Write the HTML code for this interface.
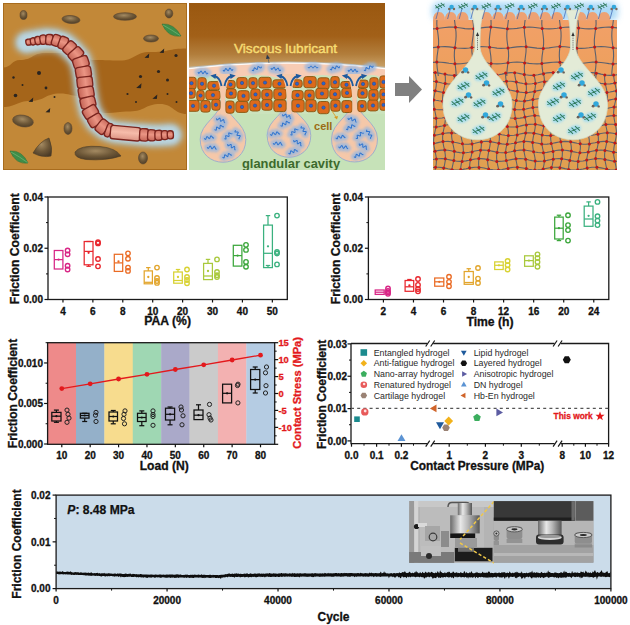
<!DOCTYPE html>
<html><head><meta charset="utf-8"><style>
html,body{margin:0;padding:0;background:#fff;width:630px;height:625px;overflow:hidden}
svg{display:block}
text{font-family:"Liberation Sans", sans-serif}
</style></head><body>
<svg width="630" height="625" viewBox="0 0 630 625">
<defs>
<filter id="blur3" x="-20%" y="-20%" width="140%" height="140%"><feGaussianBlur stdDeviation="3"/></filter>
<filter id="blur2" x="-30%" y="-100%" width="160%" height="300%"><feGaussianBlur stdDeviation="2"/></filter>
<filter id="blur1" x="-60%" y="-300%" width="220%" height="700%"><feGaussianBlur stdDeviation="1.3"/></filter>
<filter id="blur05" x="-50%" y="-50%" width="200%" height="200%"><feGaussianBlur stdDeviation="0.8"/></filter>
<linearGradient id="p2top" x1="0" y1="0" x2="0" y2="1">
 <stop offset="0" stop-color="#9a5810"/><stop offset="0.5" stop-color="#a26018"/><stop offset="0.78" stop-color="#b27e3c"/><stop offset="1" stop-color="#cca66e"/>
</linearGradient>
<linearGradient id="p3body" x1="0" y1="0" x2="0" y2="1">
 <stop offset="0" stop-color="#f2a068"/><stop offset="0.5" stop-color="#eba058"/><stop offset="1" stop-color="#e0a050"/>
</linearGradient>
<radialGradient id="stone" cx="0.45" cy="0.35" r="0.7">
 <stop offset="0" stop-color="#a48a62"/><stop offset="0.55" stop-color="#6e5838"/><stop offset="1" stop-color="#4a3a26"/>
</radialGradient>
<clipPath id="cp1"><rect x="3" y="3" width="184" height="167"/></clipPath>
<clipPath id="cp2"><rect x="189" y="3" width="196" height="167"/></clipPath>
<clipPath id="cp3"><rect x="426" y="0" width="198" height="170"/></clipPath>
</defs>
<g clip-path="url(#cp1)">
<rect x="3" y="3" width="184" height="167" fill="#c28838"/>
<path d="M3,67.5 C11.5,67.5 11.5,60 20,60 C32.5,60 32.5,53 45,53 C57.5,53 57.5,53 70,53 C82.5,53 82.5,60 95,60 C107.5,60 107.5,60.5 120,60.5 C135.0,60.5 135.0,52 150,52 C168.5,52 168.5,48.4 187,48.4 L187,114  C173.5,114 173.5,104 160,104 C145.0,104 145.0,111.4 130,111.4 C117.5,111.4 117.5,113 105,113 C92.5,113 92.5,96 80,96 C70.0,96 70.0,93.5 60,93.5 C45.0,93.5 45.0,101 30,101 C16.5,101 16.5,107 3,107 Z" fill="#a5651a"/>
<rect x="3.5" y="3.5" width="183" height="166" fill="none" stroke="#a86c1e" stroke-width="1"/>
<circle cx="13.5" cy="77.5" r="1.2" fill="#2a2420"/>
<circle cx="39" cy="73" r="2.0" fill="#2a2420"/>
<circle cx="22.5" cy="85" r="1.0" fill="#2a2420"/>
<circle cx="15.5" cy="95.5" r="1.8" fill="#2a2420"/>
<circle cx="46" cy="88" r="1.4" fill="#2a2420"/>
<circle cx="54.5" cy="97" r="1.0" fill="#2a2420"/>
<circle cx="140.5" cy="76.5" r="1.6" fill="#2a2420"/>
<circle cx="158.5" cy="71.5" r="1.6" fill="#2a2420"/>
<circle cx="167.5" cy="80" r="1.5" fill="#2a2420"/>
<circle cx="176" cy="55.5" r="1.6" fill="#2a2420"/>
<circle cx="127.5" cy="94" r="1.1" fill="#2a2420"/>
<circle cx="136" cy="102" r="1.0" fill="#2a2420"/>
<circle cx="167.5" cy="94" r="1.0" fill="#2a2420"/>
<circle cx="176.5" cy="102" r="1.0" fill="#2a2420"/>
<polygon points="28.5,101.75 33.25,97.5 32.75,102.0" fill="#2a2420"/>
<polygon points="45.5,112.25 50.25,108.0 49.75,112.5" fill="#2a2420"/>
<polygon points="144.5,57.75 149.25,53.5 148.75,58.0" fill="#2a2420"/>
<polygon points="159.5,52.75 164.25,48.5 163.75,53.0" fill="#2a2420"/>
<polygon points="136.2,87.96 141.52,83.2 140.96,88.24" fill="#2a2420"/>
<polygon points="152.4,98.82 157.34,94.4 156.82,99.08" fill="#2a2420"/>
<ellipse cx="23.5" cy="15" rx="3.5" ry="4.5" transform="rotate(0 23.5 15)" fill="url(#stone)" stroke="#5a4630" stroke-width="0.6"/>
<ellipse cx="71" cy="19.5" rx="9" ry="4" transform="rotate(5 71 19.5)" fill="url(#stone)" stroke="#5a4630" stroke-width="0.6"/>
<ellipse cx="125" cy="16.5" rx="11.5" ry="3.8" transform="rotate(0 125 16.5)" fill="url(#stone)" stroke="#5a4630" stroke-width="0.6"/>
<ellipse cx="169" cy="13.5" rx="3.8" ry="4.5" transform="rotate(0 169 13.5)" fill="url(#stone)" stroke="#5a4630" stroke-width="0.6"/>
<ellipse cx="151" cy="38.5" rx="7.5" ry="3.5" transform="rotate(0 151 38.5)" fill="url(#stone)" stroke="#5a4630" stroke-width="0.6"/>
<ellipse cx="23" cy="121" rx="10.5" ry="5.8" transform="rotate(10 23 121)" fill="url(#stone)" stroke="#5a4630" stroke-width="0.6"/>
<ellipse cx="68" cy="128.5" rx="4" ry="6" transform="rotate(0 68 128.5)" fill="url(#stone)" stroke="#5a4630" stroke-width="0.6"/>
<ellipse cx="143" cy="158" rx="4.5" ry="6" transform="rotate(0 143 158)" fill="url(#stone)" stroke="#5a4630" stroke-width="0.6"/>
<path d="M33,153 Q40,141 49,138 Q53,148 51,156 Q42,158 33,153 Z" fill="url(#stone)" stroke="#4a3a26" stroke-width="0.6"/>
<path d="M75,152 Q80,145 100,146.5 Q116,148 121,156 Q106,161 86,159.5 Q74,158 75,152 Z" fill="url(#stone)" stroke="#4a3a26" stroke-width="0.6"/>
<path d="M162,24 Q174,23 181,36 Q168,38 162,24 Z" fill="#3f8d48" stroke="#2f6e38" stroke-width="0.5"/>
<path d="M163,25 Q172,30 180,35.5" fill="none" stroke="#7cc080" stroke-width="0.6"/>
<path d="M10,151 Q22,150 28,163 Q16,165 10,151 Z" fill="#3f8d48" stroke="#2f6e38" stroke-width="0.5"/>
<path d="M11,152 Q20,157 27.5,162.5" fill="none" stroke="#7cc080" stroke-width="0.6"/>
<path d="M26.3,42.5 L35.9,40.9 L45.4,39.3 L55,40 L64.4,43.3 L72.4,50.4 L79.5,58.3 L82.7,67.9 L84.3,77.4 L85.5,88.5 L87.5,100.7 L90,111.2 L96.2,121.7 L104.9,128.7 L113.7,132.1 L125.9,133.2 L139.8,134.6 L153.8,135.4 L163,135.2 L171,134.8" fill="none" stroke="#aecbd8" stroke-width="23" stroke-linecap="round" stroke-linejoin="round" filter="url(#blur3)" opacity="0.9"/>
<path d="M26.3,42.5 L35.9,40.9 L45.4,39.3 L55,40 L64.4,43.3 L72.4,50.4 L79.5,58.3 L82.7,67.9 L84.3,77.4 L85.5,88.5 L87.5,100.7 L90,111.2 L96.2,121.7 L104.9,128.7 L113.7,132.1 L125.9,133.2 L139.8,134.6 L153.8,135.4 L163,135.2 L171,134.8" fill="none" stroke="#bcd8e4" stroke-width="17" stroke-linecap="round" stroke-linejoin="round" filter="url(#blur2)" opacity="0.9"/>
<linearGradient id="wg" x1="0" y1="0" x2="0" y2="1"><stop offset="0" stop-color="#c96a5c"/><stop offset="0.45" stop-color="#eb9584"/><stop offset="1" stop-color="#c46456"/></linearGradient>
<linearGradient id="wg2" x1="0" y1="0" x2="0" y2="1"><stop offset="0" stop-color="#e29e8e"/><stop offset="0.45" stop-color="#f6bcaa"/><stop offset="1" stop-color="#dd9484"/></linearGradient>
<g transform="translate(28.57,42.12) rotate(-9.5)"><rect x="-2.70" y="-3.03" width="5.40" height="6.05" rx="2.16" fill="url(#wg)" stroke="#7a241e" stroke-width="1.35"/></g>
<g transform="translate(33.11,41.37) rotate(-9.5)"><rect x="-2.70" y="-3.64" width="5.40" height="7.27" rx="2.60" fill="url(#wg)" stroke="#7a241e" stroke-width="1.35"/></g>
<g transform="translate(37.91,40.56) rotate(-9.6)"><rect x="-2.97" y="-4.15" width="5.94" height="8.30" rx="2.80" fill="url(#wg)" stroke="#7a241e" stroke-width="1.35"/></g>
<g transform="translate(43.30,39.65) rotate(-9.6)"><rect x="-3.30" y="-4.66" width="6.60" height="9.32" rx="2.80" fill="url(#wg)" stroke="#7a241e" stroke-width="1.35"/></g>
<g transform="translate(49.40,39.59) rotate(4.2)"><rect x="-3.64" y="-5.17" width="7.28" height="10.34" rx="2.80" fill="url(#wg)" stroke="#7a241e" stroke-width="1.35"/></g>
<g transform="translate(56.14,40.40) rotate(19.3)"><rect x="-3.98" y="-5.70" width="7.96" height="11.39" rx="2.80" fill="url(#wg)" stroke="#7a241e" stroke-width="1.35"/></g>
<g transform="translate(63.22,42.89) rotate(19.3)"><rect x="-4.33" y="-6.23" width="8.66" height="12.47" rx="2.80" fill="url(#wg)" stroke="#7a241e" stroke-width="1.35"/></g>
<g transform="translate(69.62,47.93) rotate(41.6)"><rect x="-4.69" y="-6.79" width="9.38" height="13.57" rx="2.80" fill="url(#wg)" stroke="#7a241e" stroke-width="1.35"/></g>
<g transform="translate(75.90,54.29) rotate(48.1)"><rect x="-5.06" y="-7.35" width="10.12" height="14.71" rx="2.80" fill="url(#wg)" stroke="#7a241e" stroke-width="1.35"/></g>
<g transform="translate(80.86,62.39) rotate(71.6)"><rect x="-5.44" y="-7.75" width="10.88" height="15.50" rx="2.80" fill="url(#wg)" stroke="#7a241e" stroke-width="1.35"/></g>
<g transform="translate(83.42,72.19) rotate(80.4)"><rect x="-5.52" y="-7.75" width="11.03" height="15.50" rx="2.80" fill="url(#wg)" stroke="#7a241e" stroke-width="1.35"/></g>
<g transform="translate(84.83,82.32) rotate(83.8)"><rect x="-5.52" y="-7.75" width="11.03" height="15.50" rx="2.80" fill="url(#wg)" stroke="#7a241e" stroke-width="1.35"/></g>
<g transform="translate(86.15,92.46) rotate(80.7)"><rect x="-5.52" y="-7.69" width="11.03" height="15.38" rx="2.80" fill="url(#wg)" stroke="#7a241e" stroke-width="1.35"/></g>
<g transform="translate(87.91,102.44) rotate(76.6)"><rect x="-5.42" y="-7.54" width="10.85" height="15.07" rx="2.80" fill="url(#wg)" stroke="#7a241e" stroke-width="1.35"/></g>
<g transform="translate(90.48,112.01) rotate(59.4)"><rect x="-5.32" y="-7.38" width="10.65" height="14.77" rx="2.80" fill="url(#wg)" stroke="#7a241e" stroke-width="1.35"/></g>
<g transform="translate(95.43,120.40) rotate(59.4)"><rect x="-5.22" y="-7.24" width="10.45" height="14.47" rx="2.80" fill="url(#wg)" stroke="#7a241e" stroke-width="1.35"/></g>
<g transform="translate(102.47,126.74) rotate(38.8)"><rect x="-5.13" y="-7.09" width="10.26" height="14.18" rx="2.80" fill="url(#wg)" stroke="#7a241e" stroke-width="1.35"/></g>
<g transform="translate(108.70,130.17) rotate(21.1)"><rect x="-2.87" y="-6.98" width="5.73" height="13.96" rx="2.80" fill="url(#wg)" stroke="#7a241e" stroke-width="1.35"/></g>
<g transform="translate(125.42,133.16) rotate(5.2)"><rect x="-15.06" y="-6.72" width="30.11" height="13.44" rx="2.80" fill="url(#wg2)" stroke="#7a241e" stroke-width="1.35"/></g>
<g transform="translate(144.02,134.84) rotate(3.3)"><rect x="-4.43" y="-6.18" width="8.86" height="12.35" rx="2.80" fill="url(#wg)" stroke="#7a241e" stroke-width="1.35"/></g>
<g transform="translate(151.67,135.28) rotate(3.3)"><rect x="-4.03" y="-5.56" width="8.05" height="11.12" rx="2.80" fill="url(#wg)" stroke="#7a241e" stroke-width="1.35"/></g>
<g transform="translate(158.56,135.30) rotate(-1.2)"><rect x="-3.67" y="-5.00" width="7.33" height="10.01" rx="2.80" fill="url(#wg)" stroke="#7a241e" stroke-width="1.35"/></g>
<g transform="translate(164.76,135.11) rotate(-2.9)"><rect x="-3.34" y="-4.50" width="6.68" height="9.01" rx="2.80" fill="url(#wg)" stroke="#7a241e" stroke-width="1.35"/></g>
<g transform="translate(170.33,134.83) rotate(-2.9)"><rect x="-3.05" y="-4.05" width="6.09" height="8.11" rx="2.80" fill="url(#wg)" stroke="#7a241e" stroke-width="1.35"/></g>
</g>
<g clip-path="url(#cp2)">
<rect x="189" y="3" width="196" height="167" fill="#c6e2b8"/>
<rect x="189" y="3" width="196" height="66" fill="url(#p2top)"/>
<path d="M189,68.5 Q287,57.5 385,68.5 L385,90 L189,90 Z" fill="#f7ccb4"/>
<path d="M189,68.5 Q287,57.5 385,68.5" fill="none" stroke="#ffffff" stroke-width="1.6" opacity="0.95"/>
<path d="M189,67.3 Q287,56.3 385,67.3" fill="none" stroke="#b0cce8" stroke-width="0.8" opacity="0.7"/>
<path d="M185,90 Q187,76 204.0,75 Q221,76 223,90 L223,114 L185,114 Z" fill="#cbe3bd"/>
<path d="M223,90 Q225,76 256.5,75 Q288,76 290,90 L290,114 L223,114 Z" fill="#cbe3bd"/>
<path d="M289,90 Q291,76 321.5,75 Q352,76 354,90 L354,114 L289,114 Z" fill="#cbe3bd"/>
<path d="M354,90 Q356,76 371.5,75 Q387,76 389,90 L389,114 L354,114 Z" fill="#cbe3bd"/>
<path d="M221.0,100 L225.0,100 C225.0,116.7 245.8,122.4 245.8,139.5 C245.8,169.824 200.2,169.824 200.2,139.5 C200.2,122.4 221.0,116.7 221.0,100 Z" fill="#f5c8a9" stroke="#9fb0cc" stroke-width="1.0"/>
<path d="M287.0,100 L291.0,100 C291.0,113.7 310.8,119.15 310.8,135.5 C310.8,164.494 267.2,164.494 267.2,135.5 C267.2,119.15 287.0,113.7 287.0,100 Z" fill="#f5c8a9" stroke="#9fb0cc" stroke-width="1.0"/>
<path d="M352.5,100 L356.5,100 C356.5,116.0 377.5,121.75 377.5,139 C377.5,169.59 331.5,169.59 331.5,139 C331.5,121.75 352.5,116.0 352.5,100 Z" fill="#f5c8a9" stroke="#9fb0cc" stroke-width="1.0"/>
<g transform="translate(216.5,118.4) rotate(20)"><path d="M0.00,0.00 L0.50,0.92 L1.00,1.30 L1.50,0.92 L2.00,0.00 L2.50,-0.92 L3.00,-1.30 L3.50,-0.92 L4.00,-0.00 L4.50,0.92 L5.00,1.30 L5.50,0.92 L6.00,0.00 L6.50,-0.92 L7.00,-1.30 L7.50,-0.92 L8.00,-0.00 L8.50,0.92 L9.00,1.30 L9.50,0.92" fill="none" stroke="#93b6e2" stroke-width="6" stroke-linecap="round" opacity="0.75" filter="url(#blur1)"/><path d="M0.00,0.00 L0.50,0.92 L1.00,1.30 L1.50,0.92 L2.00,0.00 L2.50,-0.92 L3.00,-1.30 L3.50,-0.92 L4.00,-0.00 L4.50,0.92 L5.00,1.30 L5.50,0.92 L6.00,0.00 L6.50,-0.92 L7.00,-1.30 L7.50,-0.92 L8.00,-0.00 L8.50,0.92 L9.00,1.30 L9.50,0.92" fill="none" stroke="#2f74cf" stroke-width="1.0"/></g>
<g transform="translate(214.6,129.5) rotate(-25)"><path d="M0.00,0.00 L0.50,0.92 L1.00,1.30 L1.50,0.92 L2.00,0.00 L2.50,-0.92 L3.00,-1.30 L3.50,-0.92 L4.00,-0.00 L4.50,0.92 L5.00,1.30 L5.50,0.92 L6.00,0.00 L6.50,-0.92 L7.00,-1.30 L7.50,-0.92 L8.00,-0.00 L8.50,0.92 L9.00,1.30 L9.50,0.92" fill="none" stroke="#93b6e2" stroke-width="6" stroke-linecap="round" opacity="0.75" filter="url(#blur1)"/><path d="M0.00,0.00 L0.50,0.92 L1.00,1.30 L1.50,0.92 L2.00,0.00 L2.50,-0.92 L3.00,-1.30 L3.50,-0.92 L4.00,-0.00 L4.50,0.92 L5.00,1.30 L5.50,0.92 L6.00,0.00 L6.50,-0.92 L7.00,-1.30 L7.50,-0.92 L8.00,-0.00 L8.50,0.92 L9.00,1.30 L9.50,0.92" fill="none" stroke="#2f74cf" stroke-width="1.0"/></g>
<g transform="translate(204.3,138.3) rotate(-10)"><path d="M0.00,0.00 L0.50,0.92 L1.00,1.30 L1.50,0.92 L2.00,0.00 L2.50,-0.92 L3.00,-1.30 L3.50,-0.92 L4.00,-0.00 L4.50,0.92 L5.00,1.30 L5.50,0.92 L6.00,0.00 L6.50,-0.92 L7.00,-1.30 L7.50,-0.92 L8.00,-0.00 L8.50,0.92 L9.00,1.30 L9.50,0.92" fill="none" stroke="#93b6e2" stroke-width="6" stroke-linecap="round" opacity="0.75" filter="url(#blur1)"/><path d="M0.00,0.00 L0.50,0.92 L1.00,1.30 L1.50,0.92 L2.00,0.00 L2.50,-0.92 L3.00,-1.30 L3.50,-0.92 L4.00,-0.00 L4.50,0.92 L5.00,1.30 L5.50,0.92 L6.00,0.00 L6.50,-0.92 L7.00,-1.30 L7.50,-0.92 L8.00,-0.00 L8.50,0.92 L9.00,1.30 L9.50,0.92" fill="none" stroke="#2f74cf" stroke-width="1.0"/></g>
<g transform="translate(224.3,138.6) rotate(-40)"><path d="M0.00,0.00 L0.50,0.92 L1.00,1.30 L1.50,0.92 L2.00,0.00 L2.50,-0.92 L3.00,-1.30 L3.50,-0.92 L4.00,-0.00 L4.50,0.92 L5.00,1.30 L5.50,0.92 L6.00,0.00 L6.50,-0.92 L7.00,-1.30 L7.50,-0.92 L8.00,-0.00 L8.50,0.92 L9.00,1.30 L9.50,0.92" fill="none" stroke="#93b6e2" stroke-width="6" stroke-linecap="round" opacity="0.75" filter="url(#blur1)"/><path d="M0.00,0.00 L0.50,0.92 L1.00,1.30 L1.50,0.92 L2.00,0.00 L2.50,-0.92 L3.00,-1.30 L3.50,-0.92 L4.00,-0.00 L4.50,0.92 L5.00,1.30 L5.50,0.92 L6.00,0.00 L6.50,-0.92 L7.00,-1.30 L7.50,-0.92 L8.00,-0.00 L8.50,0.92 L9.00,1.30 L9.50,0.92" fill="none" stroke="#2f74cf" stroke-width="1.0"/></g>
<g transform="translate(235.6,130.3) rotate(60)"><path d="M0.00,0.00 L0.50,0.92 L1.00,1.30 L1.50,0.92 L2.00,0.00 L2.50,-0.92 L3.00,-1.30 L3.50,-0.92 L4.00,-0.00 L4.50,0.92 L5.00,1.30 L5.50,0.92 L6.00,0.00 L6.50,-0.92 L7.00,-1.30 L7.50,-0.92 L8.00,-0.00 L8.50,0.92 L9.00,1.30 L9.50,0.92" fill="none" stroke="#93b6e2" stroke-width="6" stroke-linecap="round" opacity="0.75" filter="url(#blur1)"/><path d="M0.00,0.00 L0.50,0.92 L1.00,1.30 L1.50,0.92 L2.00,0.00 L2.50,-0.92 L3.00,-1.30 L3.50,-0.92 L4.00,-0.00 L4.50,0.92 L5.00,1.30 L5.50,0.92 L6.00,0.00 L6.50,-0.92 L7.00,-1.30 L7.50,-0.92 L8.00,-0.00 L8.50,0.92 L9.00,1.30 L9.50,0.92" fill="none" stroke="#2f74cf" stroke-width="1.0"/></g>
<g transform="translate(227.8,144.1) rotate(30)"><path d="M0.00,0.00 L0.50,0.92 L1.00,1.30 L1.50,0.92 L2.00,0.00 L2.50,-0.92 L3.00,-1.30 L3.50,-0.92 L4.00,-0.00 L4.50,0.92 L5.00,1.30 L5.50,0.92 L6.00,0.00 L6.50,-0.92 L7.00,-1.30 L7.50,-0.92 L8.00,-0.00 L8.50,0.92 L9.00,1.30 L9.50,0.92" fill="none" stroke="#93b6e2" stroke-width="6" stroke-linecap="round" opacity="0.75" filter="url(#blur1)"/><path d="M0.00,0.00 L0.50,0.92 L1.00,1.30 L1.50,0.92 L2.00,0.00 L2.50,-0.92 L3.00,-1.30 L3.50,-0.92 L4.00,-0.00 L4.50,0.92 L5.00,1.30 L5.50,0.92 L6.00,0.00 L6.50,-0.92 L7.00,-1.30 L7.50,-0.92 L8.00,-0.00 L8.50,0.92 L9.00,1.30 L9.50,0.92" fill="none" stroke="#2f74cf" stroke-width="1.0"/></g>
<g transform="translate(207.2,147.1) rotate(5)"><path d="M0.00,0.00 L0.50,0.92 L1.00,1.30 L1.50,0.92 L2.00,0.00 L2.50,-0.92 L3.00,-1.30 L3.50,-0.92 L4.00,-0.00 L4.50,0.92 L5.00,1.30 L5.50,0.92 L6.00,0.00 L6.50,-0.92 L7.00,-1.30 L7.50,-0.92 L8.00,-0.00 L8.50,0.92 L9.00,1.30 L9.50,0.92" fill="none" stroke="#93b6e2" stroke-width="6" stroke-linecap="round" opacity="0.75" filter="url(#blur1)"/><path d="M0.00,0.00 L0.50,0.92 L1.00,1.30 L1.50,0.92 L2.00,0.00 L2.50,-0.92 L3.00,-1.30 L3.50,-0.92 L4.00,-0.00 L4.50,0.92 L5.00,1.30 L5.50,0.92 L6.00,0.00 L6.50,-0.92 L7.00,-1.30 L7.50,-0.92 L8.00,-0.00 L8.50,0.92 L9.00,1.30 L9.50,0.92" fill="none" stroke="#2f74cf" stroke-width="1.0"/></g>
<g transform="translate(222.5,157.1) rotate(-20)"><path d="M0.00,0.00 L0.50,0.92 L1.00,1.30 L1.50,0.92 L2.00,0.00 L2.50,-0.92 L3.00,-1.30 L3.50,-0.92 L4.00,-0.00 L4.50,0.92 L5.00,1.30 L5.50,0.92 L6.00,0.00 L6.50,-0.92 L7.00,-1.30 L7.50,-0.92 L8.00,-0.00 L8.50,0.92 L9.00,1.30 L9.50,0.92" fill="none" stroke="#93b6e2" stroke-width="6" stroke-linecap="round" opacity="0.75" filter="url(#blur1)"/><path d="M0.00,0.00 L0.50,0.92 L1.00,1.30 L1.50,0.92 L2.00,0.00 L2.50,-0.92 L3.00,-1.30 L3.50,-0.92 L4.00,-0.00 L4.50,0.92 L5.00,1.30 L5.50,0.92 L6.00,0.00 L6.50,-0.92 L7.00,-1.30 L7.50,-0.92 L8.00,-0.00 L8.50,0.92 L9.00,1.30 L9.50,0.92" fill="none" stroke="#2f74cf" stroke-width="1.0"/></g>
<g transform="translate(282.5,114.4) rotate(20)"><path d="M0.00,0.00 L0.50,0.92 L1.00,1.30 L1.50,0.92 L2.00,0.00 L2.50,-0.92 L3.00,-1.30 L3.50,-0.92 L4.00,-0.00 L4.50,0.92 L5.00,1.30 L5.50,0.92 L6.00,0.00 L6.50,-0.92 L7.00,-1.30 L7.50,-0.92 L8.00,-0.00 L8.50,0.92 L9.00,1.30 L9.50,0.92" fill="none" stroke="#93b6e2" stroke-width="6" stroke-linecap="round" opacity="0.75" filter="url(#blur1)"/><path d="M0.00,0.00 L0.50,0.92 L1.00,1.30 L1.50,0.92 L2.00,0.00 L2.50,-0.92 L3.00,-1.30 L3.50,-0.92 L4.00,-0.00 L4.50,0.92 L5.00,1.30 L5.50,0.92 L6.00,0.00 L6.50,-0.92 L7.00,-1.30 L7.50,-0.92 L8.00,-0.00 L8.50,0.92 L9.00,1.30 L9.50,0.92" fill="none" stroke="#2f74cf" stroke-width="1.0"/></g>
<g transform="translate(280.6,125.5) rotate(-25)"><path d="M0.00,0.00 L0.50,0.92 L1.00,1.30 L1.50,0.92 L2.00,0.00 L2.50,-0.92 L3.00,-1.30 L3.50,-0.92 L4.00,-0.00 L4.50,0.92 L5.00,1.30 L5.50,0.92 L6.00,0.00 L6.50,-0.92 L7.00,-1.30 L7.50,-0.92 L8.00,-0.00 L8.50,0.92 L9.00,1.30 L9.50,0.92" fill="none" stroke="#93b6e2" stroke-width="6" stroke-linecap="round" opacity="0.75" filter="url(#blur1)"/><path d="M0.00,0.00 L0.50,0.92 L1.00,1.30 L1.50,0.92 L2.00,0.00 L2.50,-0.92 L3.00,-1.30 L3.50,-0.92 L4.00,-0.00 L4.50,0.92 L5.00,1.30 L5.50,0.92 L6.00,0.00 L6.50,-0.92 L7.00,-1.30 L7.50,-0.92 L8.00,-0.00 L8.50,0.92 L9.00,1.30 L9.50,0.92" fill="none" stroke="#2f74cf" stroke-width="1.0"/></g>
<g transform="translate(270.3,134.3) rotate(-10)"><path d="M0.00,0.00 L0.50,0.92 L1.00,1.30 L1.50,0.92 L2.00,0.00 L2.50,-0.92 L3.00,-1.30 L3.50,-0.92 L4.00,-0.00 L4.50,0.92 L5.00,1.30 L5.50,0.92 L6.00,0.00 L6.50,-0.92 L7.00,-1.30 L7.50,-0.92 L8.00,-0.00 L8.50,0.92 L9.00,1.30 L9.50,0.92" fill="none" stroke="#93b6e2" stroke-width="6" stroke-linecap="round" opacity="0.75" filter="url(#blur1)"/><path d="M0.00,0.00 L0.50,0.92 L1.00,1.30 L1.50,0.92 L2.00,0.00 L2.50,-0.92 L3.00,-1.30 L3.50,-0.92 L4.00,-0.00 L4.50,0.92 L5.00,1.30 L5.50,0.92 L6.00,0.00 L6.50,-0.92 L7.00,-1.30 L7.50,-0.92 L8.00,-0.00 L8.50,0.92 L9.00,1.30 L9.50,0.92" fill="none" stroke="#2f74cf" stroke-width="1.0"/></g>
<g transform="translate(290.3,134.6) rotate(-40)"><path d="M0.00,0.00 L0.50,0.92 L1.00,1.30 L1.50,0.92 L2.00,0.00 L2.50,-0.92 L3.00,-1.30 L3.50,-0.92 L4.00,-0.00 L4.50,0.92 L5.00,1.30 L5.50,0.92 L6.00,0.00 L6.50,-0.92 L7.00,-1.30 L7.50,-0.92 L8.00,-0.00 L8.50,0.92 L9.00,1.30 L9.50,0.92" fill="none" stroke="#93b6e2" stroke-width="6" stroke-linecap="round" opacity="0.75" filter="url(#blur1)"/><path d="M0.00,0.00 L0.50,0.92 L1.00,1.30 L1.50,0.92 L2.00,0.00 L2.50,-0.92 L3.00,-1.30 L3.50,-0.92 L4.00,-0.00 L4.50,0.92 L5.00,1.30 L5.50,0.92 L6.00,0.00 L6.50,-0.92 L7.00,-1.30 L7.50,-0.92 L8.00,-0.00 L8.50,0.92 L9.00,1.30 L9.50,0.92" fill="none" stroke="#2f74cf" stroke-width="1.0"/></g>
<g transform="translate(301.6,126.3) rotate(60)"><path d="M0.00,0.00 L0.50,0.92 L1.00,1.30 L1.50,0.92 L2.00,0.00 L2.50,-0.92 L3.00,-1.30 L3.50,-0.92 L4.00,-0.00 L4.50,0.92 L5.00,1.30 L5.50,0.92 L6.00,0.00 L6.50,-0.92 L7.00,-1.30 L7.50,-0.92 L8.00,-0.00 L8.50,0.92 L9.00,1.30 L9.50,0.92" fill="none" stroke="#93b6e2" stroke-width="6" stroke-linecap="round" opacity="0.75" filter="url(#blur1)"/><path d="M0.00,0.00 L0.50,0.92 L1.00,1.30 L1.50,0.92 L2.00,0.00 L2.50,-0.92 L3.00,-1.30 L3.50,-0.92 L4.00,-0.00 L4.50,0.92 L5.00,1.30 L5.50,0.92 L6.00,0.00 L6.50,-0.92 L7.00,-1.30 L7.50,-0.92 L8.00,-0.00 L8.50,0.92 L9.00,1.30 L9.50,0.92" fill="none" stroke="#2f74cf" stroke-width="1.0"/></g>
<g transform="translate(293.8,140.1) rotate(30)"><path d="M0.00,0.00 L0.50,0.92 L1.00,1.30 L1.50,0.92 L2.00,0.00 L2.50,-0.92 L3.00,-1.30 L3.50,-0.92 L4.00,-0.00 L4.50,0.92 L5.00,1.30 L5.50,0.92 L6.00,0.00 L6.50,-0.92 L7.00,-1.30 L7.50,-0.92 L8.00,-0.00 L8.50,0.92 L9.00,1.30 L9.50,0.92" fill="none" stroke="#93b6e2" stroke-width="6" stroke-linecap="round" opacity="0.75" filter="url(#blur1)"/><path d="M0.00,0.00 L0.50,0.92 L1.00,1.30 L1.50,0.92 L2.00,0.00 L2.50,-0.92 L3.00,-1.30 L3.50,-0.92 L4.00,-0.00 L4.50,0.92 L5.00,1.30 L5.50,0.92 L6.00,0.00 L6.50,-0.92 L7.00,-1.30 L7.50,-0.92 L8.00,-0.00 L8.50,0.92 L9.00,1.30 L9.50,0.92" fill="none" stroke="#2f74cf" stroke-width="1.0"/></g>
<g transform="translate(273.2,143.1) rotate(5)"><path d="M0.00,0.00 L0.50,0.92 L1.00,1.30 L1.50,0.92 L2.00,0.00 L2.50,-0.92 L3.00,-1.30 L3.50,-0.92 L4.00,-0.00 L4.50,0.92 L5.00,1.30 L5.50,0.92 L6.00,0.00 L6.50,-0.92 L7.00,-1.30 L7.50,-0.92 L8.00,-0.00 L8.50,0.92 L9.00,1.30 L9.50,0.92" fill="none" stroke="#93b6e2" stroke-width="6" stroke-linecap="round" opacity="0.75" filter="url(#blur1)"/><path d="M0.00,0.00 L0.50,0.92 L1.00,1.30 L1.50,0.92 L2.00,0.00 L2.50,-0.92 L3.00,-1.30 L3.50,-0.92 L4.00,-0.00 L4.50,0.92 L5.00,1.30 L5.50,0.92 L6.00,0.00 L6.50,-0.92 L7.00,-1.30 L7.50,-0.92 L8.00,-0.00 L8.50,0.92 L9.00,1.30 L9.50,0.92" fill="none" stroke="#2f74cf" stroke-width="1.0"/></g>
<g transform="translate(288.5,153.1) rotate(-20)"><path d="M0.00,0.00 L0.50,0.92 L1.00,1.30 L1.50,0.92 L2.00,0.00 L2.50,-0.92 L3.00,-1.30 L3.50,-0.92 L4.00,-0.00 L4.50,0.92 L5.00,1.30 L5.50,0.92 L6.00,0.00 L6.50,-0.92 L7.00,-1.30 L7.50,-0.92 L8.00,-0.00 L8.50,0.92 L9.00,1.30 L9.50,0.92" fill="none" stroke="#93b6e2" stroke-width="6" stroke-linecap="round" opacity="0.75" filter="url(#blur1)"/><path d="M0.00,0.00 L0.50,0.92 L1.00,1.30 L1.50,0.92 L2.00,0.00 L2.50,-0.92 L3.00,-1.30 L3.50,-0.92 L4.00,-0.00 L4.50,0.92 L5.00,1.30 L5.50,0.92 L6.00,0.00 L6.50,-0.92 L7.00,-1.30 L7.50,-0.92 L8.00,-0.00 L8.50,0.92 L9.00,1.30 L9.50,0.92" fill="none" stroke="#2f74cf" stroke-width="1.0"/></g>
<g transform="translate(348.0,117.9) rotate(20)"><path d="M0.00,0.00 L0.50,0.92 L1.00,1.30 L1.50,0.92 L2.00,0.00 L2.50,-0.92 L3.00,-1.30 L3.50,-0.92 L4.00,-0.00 L4.50,0.92 L5.00,1.30 L5.50,0.92 L6.00,0.00 L6.50,-0.92 L7.00,-1.30 L7.50,-0.92 L8.00,-0.00 L8.50,0.92 L9.00,1.30 L9.50,0.92" fill="none" stroke="#93b6e2" stroke-width="6" stroke-linecap="round" opacity="0.75" filter="url(#blur1)"/><path d="M0.00,0.00 L0.50,0.92 L1.00,1.30 L1.50,0.92 L2.00,0.00 L2.50,-0.92 L3.00,-1.30 L3.50,-0.92 L4.00,-0.00 L4.50,0.92 L5.00,1.30 L5.50,0.92 L6.00,0.00 L6.50,-0.92 L7.00,-1.30 L7.50,-0.92 L8.00,-0.00 L8.50,0.92 L9.00,1.30 L9.50,0.92" fill="none" stroke="#2f74cf" stroke-width="1.0"/></g>
<g transform="translate(346.1,129.0) rotate(-25)"><path d="M0.00,0.00 L0.50,0.92 L1.00,1.30 L1.50,0.92 L2.00,0.00 L2.50,-0.92 L3.00,-1.30 L3.50,-0.92 L4.00,-0.00 L4.50,0.92 L5.00,1.30 L5.50,0.92 L6.00,0.00 L6.50,-0.92 L7.00,-1.30 L7.50,-0.92 L8.00,-0.00 L8.50,0.92 L9.00,1.30 L9.50,0.92" fill="none" stroke="#93b6e2" stroke-width="6" stroke-linecap="round" opacity="0.75" filter="url(#blur1)"/><path d="M0.00,0.00 L0.50,0.92 L1.00,1.30 L1.50,0.92 L2.00,0.00 L2.50,-0.92 L3.00,-1.30 L3.50,-0.92 L4.00,-0.00 L4.50,0.92 L5.00,1.30 L5.50,0.92 L6.00,0.00 L6.50,-0.92 L7.00,-1.30 L7.50,-0.92 L8.00,-0.00 L8.50,0.92 L9.00,1.30 L9.50,0.92" fill="none" stroke="#2f74cf" stroke-width="1.0"/></g>
<g transform="translate(335.8,137.8) rotate(-10)"><path d="M0.00,0.00 L0.50,0.92 L1.00,1.30 L1.50,0.92 L2.00,0.00 L2.50,-0.92 L3.00,-1.30 L3.50,-0.92 L4.00,-0.00 L4.50,0.92 L5.00,1.30 L5.50,0.92 L6.00,0.00 L6.50,-0.92 L7.00,-1.30 L7.50,-0.92 L8.00,-0.00 L8.50,0.92 L9.00,1.30 L9.50,0.92" fill="none" stroke="#93b6e2" stroke-width="6" stroke-linecap="round" opacity="0.75" filter="url(#blur1)"/><path d="M0.00,0.00 L0.50,0.92 L1.00,1.30 L1.50,0.92 L2.00,0.00 L2.50,-0.92 L3.00,-1.30 L3.50,-0.92 L4.00,-0.00 L4.50,0.92 L5.00,1.30 L5.50,0.92 L6.00,0.00 L6.50,-0.92 L7.00,-1.30 L7.50,-0.92 L8.00,-0.00 L8.50,0.92 L9.00,1.30 L9.50,0.92" fill="none" stroke="#2f74cf" stroke-width="1.0"/></g>
<g transform="translate(355.8,138.1) rotate(-40)"><path d="M0.00,0.00 L0.50,0.92 L1.00,1.30 L1.50,0.92 L2.00,0.00 L2.50,-0.92 L3.00,-1.30 L3.50,-0.92 L4.00,-0.00 L4.50,0.92 L5.00,1.30 L5.50,0.92 L6.00,0.00 L6.50,-0.92 L7.00,-1.30 L7.50,-0.92 L8.00,-0.00 L8.50,0.92 L9.00,1.30 L9.50,0.92" fill="none" stroke="#93b6e2" stroke-width="6" stroke-linecap="round" opacity="0.75" filter="url(#blur1)"/><path d="M0.00,0.00 L0.50,0.92 L1.00,1.30 L1.50,0.92 L2.00,0.00 L2.50,-0.92 L3.00,-1.30 L3.50,-0.92 L4.00,-0.00 L4.50,0.92 L5.00,1.30 L5.50,0.92 L6.00,0.00 L6.50,-0.92 L7.00,-1.30 L7.50,-0.92 L8.00,-0.00 L8.50,0.92 L9.00,1.30 L9.50,0.92" fill="none" stroke="#2f74cf" stroke-width="1.0"/></g>
<g transform="translate(367.1,129.8) rotate(60)"><path d="M0.00,0.00 L0.50,0.92 L1.00,1.30 L1.50,0.92 L2.00,0.00 L2.50,-0.92 L3.00,-1.30 L3.50,-0.92 L4.00,-0.00 L4.50,0.92 L5.00,1.30 L5.50,0.92 L6.00,0.00 L6.50,-0.92 L7.00,-1.30 L7.50,-0.92 L8.00,-0.00 L8.50,0.92 L9.00,1.30 L9.50,0.92" fill="none" stroke="#93b6e2" stroke-width="6" stroke-linecap="round" opacity="0.75" filter="url(#blur1)"/><path d="M0.00,0.00 L0.50,0.92 L1.00,1.30 L1.50,0.92 L2.00,0.00 L2.50,-0.92 L3.00,-1.30 L3.50,-0.92 L4.00,-0.00 L4.50,0.92 L5.00,1.30 L5.50,0.92 L6.00,0.00 L6.50,-0.92 L7.00,-1.30 L7.50,-0.92 L8.00,-0.00 L8.50,0.92 L9.00,1.30 L9.50,0.92" fill="none" stroke="#2f74cf" stroke-width="1.0"/></g>
<g transform="translate(359.3,143.6) rotate(30)"><path d="M0.00,0.00 L0.50,0.92 L1.00,1.30 L1.50,0.92 L2.00,0.00 L2.50,-0.92 L3.00,-1.30 L3.50,-0.92 L4.00,-0.00 L4.50,0.92 L5.00,1.30 L5.50,0.92 L6.00,0.00 L6.50,-0.92 L7.00,-1.30 L7.50,-0.92 L8.00,-0.00 L8.50,0.92 L9.00,1.30 L9.50,0.92" fill="none" stroke="#93b6e2" stroke-width="6" stroke-linecap="round" opacity="0.75" filter="url(#blur1)"/><path d="M0.00,0.00 L0.50,0.92 L1.00,1.30 L1.50,0.92 L2.00,0.00 L2.50,-0.92 L3.00,-1.30 L3.50,-0.92 L4.00,-0.00 L4.50,0.92 L5.00,1.30 L5.50,0.92 L6.00,0.00 L6.50,-0.92 L7.00,-1.30 L7.50,-0.92 L8.00,-0.00 L8.50,0.92 L9.00,1.30 L9.50,0.92" fill="none" stroke="#2f74cf" stroke-width="1.0"/></g>
<g transform="translate(338.7,146.6) rotate(5)"><path d="M0.00,0.00 L0.50,0.92 L1.00,1.30 L1.50,0.92 L2.00,0.00 L2.50,-0.92 L3.00,-1.30 L3.50,-0.92 L4.00,-0.00 L4.50,0.92 L5.00,1.30 L5.50,0.92 L6.00,0.00 L6.50,-0.92 L7.00,-1.30 L7.50,-0.92 L8.00,-0.00 L8.50,0.92 L9.00,1.30 L9.50,0.92" fill="none" stroke="#93b6e2" stroke-width="6" stroke-linecap="round" opacity="0.75" filter="url(#blur1)"/><path d="M0.00,0.00 L0.50,0.92 L1.00,1.30 L1.50,0.92 L2.00,0.00 L2.50,-0.92 L3.00,-1.30 L3.50,-0.92 L4.00,-0.00 L4.50,0.92 L5.00,1.30 L5.50,0.92 L6.00,0.00 L6.50,-0.92 L7.00,-1.30 L7.50,-0.92 L8.00,-0.00 L8.50,0.92 L9.00,1.30 L9.50,0.92" fill="none" stroke="#2f74cf" stroke-width="1.0"/></g>
<g transform="translate(354.0,156.6) rotate(-20)"><path d="M0.00,0.00 L0.50,0.92 L1.00,1.30 L1.50,0.92 L2.00,0.00 L2.50,-0.92 L3.00,-1.30 L3.50,-0.92 L4.00,-0.00 L4.50,0.92 L5.00,1.30 L5.50,0.92 L6.00,0.00 L6.50,-0.92 L7.00,-1.30 L7.50,-0.92 L8.00,-0.00 L8.50,0.92 L9.00,1.30 L9.50,0.92" fill="none" stroke="#93b6e2" stroke-width="6" stroke-linecap="round" opacity="0.75" filter="url(#blur1)"/><path d="M0.00,0.00 L0.50,0.92 L1.00,1.30 L1.50,0.92 L2.00,0.00 L2.50,-0.92 L3.00,-1.30 L3.50,-0.92 L4.00,-0.00 L4.50,0.92 L5.00,1.30 L5.50,0.92 L6.00,0.00 L6.50,-0.92 L7.00,-1.30 L7.50,-0.92 L8.00,-0.00 L8.50,0.92 L9.00,1.30 L9.50,0.92" fill="none" stroke="#2f74cf" stroke-width="1.0"/></g>
<g transform="translate(198.0,72.0) rotate(5)"><path d="M0.00,0.00 L0.50,0.85 L1.00,1.20 L1.50,0.85 L2.00,0.00 L2.50,-0.85 L3.00,-1.20 L3.50,-0.85 L4.00,-0.00 L4.50,0.85 L5.00,1.20 L5.50,0.85 L6.00,0.00 L6.50,-0.85 L7.00,-1.20 L7.50,-0.85 L8.00,-0.00 L8.50,0.85 L9.00,1.20 L9.50,0.85 L10.00,0.00" fill="none" stroke="#93b6e2" stroke-width="7" stroke-linecap="round" opacity="0.75" filter="url(#blur1)"/><path d="M0.00,0.00 L0.50,0.85 L1.00,1.20 L1.50,0.85 L2.00,0.00 L2.50,-0.85 L3.00,-1.20 L3.50,-0.85 L4.00,-0.00 L4.50,0.85 L5.00,1.20 L5.50,0.85 L6.00,0.00 L6.50,-0.85 L7.00,-1.20 L7.50,-0.85 L8.00,-0.00 L8.50,0.85 L9.00,1.20 L9.50,0.85 L10.00,0.00" fill="none" stroke="#2f74cf" stroke-width="1.0"/></g>
<g transform="translate(223.0,70.0) rotate(-5)"><path d="M0.00,0.00 L0.50,0.85 L1.00,1.20 L1.50,0.85 L2.00,0.00 L2.50,-0.85 L3.00,-1.20 L3.50,-0.85 L4.00,-0.00 L4.50,0.85 L5.00,1.20 L5.50,0.85 L6.00,0.00 L6.50,-0.85 L7.00,-1.20 L7.50,-0.85 L8.00,-0.00 L8.50,0.85 L9.00,1.20 L9.50,0.85 L10.00,0.00" fill="none" stroke="#93b6e2" stroke-width="7" stroke-linecap="round" opacity="0.75" filter="url(#blur1)"/><path d="M0.00,0.00 L0.50,0.85 L1.00,1.20 L1.50,0.85 L2.00,0.00 L2.50,-0.85 L3.00,-1.20 L3.50,-0.85 L4.00,-0.00 L4.50,0.85 L5.00,1.20 L5.50,0.85 L6.00,0.00 L6.50,-0.85 L7.00,-1.20 L7.50,-0.85 L8.00,-0.00 L8.50,0.85 L9.00,1.20 L9.50,0.85 L10.00,0.00" fill="none" stroke="#2f74cf" stroke-width="1.0"/></g>
<g transform="translate(252.0,70.0) rotate(-20)"><path d="M0.00,0.00 L0.50,0.85 L1.00,1.20 L1.50,0.85 L2.00,0.00 L2.50,-0.85 L3.00,-1.20 L3.50,-0.85 L4.00,-0.00 L4.50,0.85 L5.00,1.20 L5.50,0.85 L6.00,0.00 L6.50,-0.85 L7.00,-1.20 L7.50,-0.85 L8.00,-0.00 L8.50,0.85 L9.00,1.20 L9.50,0.85 L10.00,0.00" fill="none" stroke="#93b6e2" stroke-width="7" stroke-linecap="round" opacity="0.75" filter="url(#blur1)"/><path d="M0.00,0.00 L0.50,0.85 L1.00,1.20 L1.50,0.85 L2.00,0.00 L2.50,-0.85 L3.00,-1.20 L3.50,-0.85 L4.00,-0.00 L4.50,0.85 L5.00,1.20 L5.50,0.85 L6.00,0.00 L6.50,-0.85 L7.00,-1.20 L7.50,-0.85 L8.00,-0.00 L8.50,0.85 L9.00,1.20 L9.50,0.85 L10.00,0.00" fill="none" stroke="#2f74cf" stroke-width="1.0"/></g>
<g transform="translate(271.0,68.0) rotate(10)"><path d="M0.00,0.00 L0.50,0.85 L1.00,1.20 L1.50,0.85 L2.00,0.00 L2.50,-0.85 L3.00,-1.20 L3.50,-0.85 L4.00,-0.00 L4.50,0.85 L5.00,1.20 L5.50,0.85 L6.00,0.00 L6.50,-0.85 L7.00,-1.20 L7.50,-0.85 L8.00,-0.00 L8.50,0.85 L9.00,1.20 L9.50,0.85 L10.00,0.00" fill="none" stroke="#93b6e2" stroke-width="7" stroke-linecap="round" opacity="0.75" filter="url(#blur1)"/><path d="M0.00,0.00 L0.50,0.85 L1.00,1.20 L1.50,0.85 L2.00,0.00 L2.50,-0.85 L3.00,-1.20 L3.50,-0.85 L4.00,-0.00 L4.50,0.85 L5.00,1.20 L5.50,0.85 L6.00,0.00 L6.50,-0.85 L7.00,-1.20 L7.50,-0.85 L8.00,-0.00 L8.50,0.85 L9.00,1.20 L9.50,0.85 L10.00,0.00" fill="none" stroke="#2f74cf" stroke-width="1.0"/></g>
<g transform="translate(308.0,67.0) rotate(0)"><path d="M0.00,0.00 L0.50,0.85 L1.00,1.20 L1.50,0.85 L2.00,0.00 L2.50,-0.85 L3.00,-1.20 L3.50,-0.85 L4.00,-0.00 L4.50,0.85 L5.00,1.20 L5.50,0.85 L6.00,0.00 L6.50,-0.85 L7.00,-1.20 L7.50,-0.85 L8.00,-0.00 L8.50,0.85 L9.00,1.20 L9.50,0.85 L10.00,0.00" fill="none" stroke="#93b6e2" stroke-width="7" stroke-linecap="round" opacity="0.75" filter="url(#blur1)"/><path d="M0.00,0.00 L0.50,0.85 L1.00,1.20 L1.50,0.85 L2.00,0.00 L2.50,-0.85 L3.00,-1.20 L3.50,-0.85 L4.00,-0.00 L4.50,0.85 L5.00,1.20 L5.50,0.85 L6.00,0.00 L6.50,-0.85 L7.00,-1.20 L7.50,-0.85 L8.00,-0.00 L8.50,0.85 L9.00,1.20 L9.50,0.85 L10.00,0.00" fill="none" stroke="#2f74cf" stroke-width="1.0"/></g>
<g transform="translate(330.0,69.0) rotate(-15)"><path d="M0.00,0.00 L0.50,0.85 L1.00,1.20 L1.50,0.85 L2.00,0.00 L2.50,-0.85 L3.00,-1.20 L3.50,-0.85 L4.00,-0.00 L4.50,0.85 L5.00,1.20 L5.50,0.85 L6.00,0.00 L6.50,-0.85 L7.00,-1.20 L7.50,-0.85 L8.00,-0.00 L8.50,0.85 L9.00,1.20 L9.50,0.85 L10.00,0.00" fill="none" stroke="#93b6e2" stroke-width="7" stroke-linecap="round" opacity="0.75" filter="url(#blur1)"/><path d="M0.00,0.00 L0.50,0.85 L1.00,1.20 L1.50,0.85 L2.00,0.00 L2.50,-0.85 L3.00,-1.20 L3.50,-0.85 L4.00,-0.00 L4.50,0.85 L5.00,1.20 L5.50,0.85 L6.00,0.00 L6.50,-0.85 L7.00,-1.20 L7.50,-0.85 L8.00,-0.00 L8.50,0.85 L9.00,1.20 L9.50,0.85 L10.00,0.00" fill="none" stroke="#2f74cf" stroke-width="1.0"/></g>
<g transform="translate(348.0,70.0) rotate(5)"><path d="M0.00,0.00 L0.50,0.85 L1.00,1.20 L1.50,0.85 L2.00,0.00 L2.50,-0.85 L3.00,-1.20 L3.50,-0.85 L4.00,-0.00 L4.50,0.85 L5.00,1.20 L5.50,0.85 L6.00,0.00 L6.50,-0.85 L7.00,-1.20 L7.50,-0.85 L8.00,-0.00 L8.50,0.85 L9.00,1.20 L9.50,0.85 L10.00,0.00" fill="none" stroke="#93b6e2" stroke-width="7" stroke-linecap="round" opacity="0.75" filter="url(#blur1)"/><path d="M0.00,0.00 L0.50,0.85 L1.00,1.20 L1.50,0.85 L2.00,0.00 L2.50,-0.85 L3.00,-1.20 L3.50,-0.85 L4.00,-0.00 L4.50,0.85 L5.00,1.20 L5.50,0.85 L6.00,0.00 L6.50,-0.85 L7.00,-1.20 L7.50,-0.85 L8.00,-0.00 L8.50,0.85 L9.00,1.20 L9.50,0.85 L10.00,0.00" fill="none" stroke="#2f74cf" stroke-width="1.0"/></g>
<g transform="translate(364.0,70.0) rotate(-25)"><path d="M0.00,0.00 L0.50,0.85 L1.00,1.20 L1.50,0.85 L2.00,0.00 L2.50,-0.85 L3.00,-1.20 L3.50,-0.85 L4.00,-0.00 L4.50,0.85 L5.00,1.20 L5.50,0.85 L6.00,0.00 L6.50,-0.85 L7.00,-1.20 L7.50,-0.85 L8.00,-0.00 L8.50,0.85 L9.00,1.20 L9.50,0.85 L10.00,0.00" fill="none" stroke="#93b6e2" stroke-width="7" stroke-linecap="round" opacity="0.75" filter="url(#blur1)"/><path d="M0.00,0.00 L0.50,0.85 L1.00,1.20 L1.50,0.85 L2.00,0.00 L2.50,-0.85 L3.00,-1.20 L3.50,-0.85 L4.00,-0.00 L4.50,0.85 L5.00,1.20 L5.50,0.85 L6.00,0.00 L6.50,-0.85 L7.00,-1.20 L7.50,-0.85 L8.00,-0.00 L8.50,0.85 L9.00,1.20 L9.50,0.85 L10.00,0.00" fill="none" stroke="#2f74cf" stroke-width="1.0"/></g>
<rect x="186.8" y="77.3" width="9.4" height="11.8" rx="2.6" fill="#dc6a1c" stroke="#8c5c16" stroke-width="1.0"/>
<circle cx="191.5" cy="83.2" r="1.7" fill="#2d65cc" stroke="#173f86" stroke-width="0.4"/>
<rect x="197.8" y="77.7" width="8.4" height="12.2" rx="2.6" fill="#dc6a1c" stroke="#8c5c16" stroke-width="1.0"/>
<circle cx="202.0" cy="83.8" r="1.7" fill="#2d65cc" stroke="#173f86" stroke-width="0.4"/>
<rect x="207.8" y="81.6" width="12.4" height="8.2" rx="2.6" fill="#dc6a1c" stroke="#8c5c16" stroke-width="1.0"/>
<circle cx="214.0" cy="85.7" r="1.7" fill="#2d65cc" stroke="#173f86" stroke-width="0.4"/>
<rect x="186.8" y="88.4" width="8.4" height="9.8" rx="2.6" fill="#dc6a1c" stroke="#8c5c16" stroke-width="1.0"/>
<circle cx="191.0" cy="93.3" r="1.7" fill="#2d65cc" stroke="#173f86" stroke-width="0.4"/>
<rect x="196.8" y="90.6" width="7.4" height="10.2" rx="2.6" fill="#dc6a1c" stroke="#8c5c16" stroke-width="1.0"/>
<circle cx="200.5" cy="95.6" r="1.7" fill="#2d65cc" stroke="#173f86" stroke-width="0.4"/>
<rect x="205.8" y="90.5" width="14.4" height="9.2" rx="2.6" fill="#dc6a1c" stroke="#8c5c16" stroke-width="1.0"/>
<circle cx="213.0" cy="95.1" r="1.7" fill="#2d65cc" stroke="#173f86" stroke-width="0.4"/>
<rect x="186.8" y="100.4" width="12.4" height="10.9" rx="2.6" fill="#dc6a1c" stroke="#8c5c16" stroke-width="1.0"/>
<circle cx="193.0" cy="105.9" r="1.7" fill="#2d65cc" stroke="#173f86" stroke-width="0.4"/>
<rect x="200.8" y="100.6" width="9.4" height="11.5" rx="2.6" fill="#dc6a1c" stroke="#8c5c16" stroke-width="1.0"/>
<circle cx="205.5" cy="106.4" r="1.7" fill="#2d65cc" stroke="#173f86" stroke-width="0.4"/>
<rect x="211.8" y="99.3" width="8.4" height="10.9" rx="2.6" fill="#dc6a1c" stroke="#8c5c16" stroke-width="1.0"/>
<circle cx="216.0" cy="104.8" r="1.7" fill="#2d65cc" stroke="#173f86" stroke-width="0.4"/>
<rect x="225.8" y="80.5" width="9.4" height="8.1" rx="2.6" fill="#dc6a1c" stroke="#8c5c16" stroke-width="1.0"/>
<circle cx="230.5" cy="84.5" r="1.7" fill="#2d65cc" stroke="#173f86" stroke-width="0.4"/>
<rect x="236.8" y="77.6" width="10.4" height="10.8" rx="2.6" fill="#dc6a1c" stroke="#8c5c16" stroke-width="1.0"/>
<circle cx="242.0" cy="83.0" r="1.7" fill="#2d65cc" stroke="#173f86" stroke-width="0.4"/>
<rect x="248.8" y="77.7" width="8.4" height="10.7" rx="2.6" fill="#dc6a1c" stroke="#8c5c16" stroke-width="1.0"/>
<circle cx="253.0" cy="83.1" r="1.7" fill="#2d65cc" stroke="#173f86" stroke-width="0.4"/>
<rect x="258.8" y="77.3" width="12.4" height="10.7" rx="2.6" fill="#dc6a1c" stroke="#8c5c16" stroke-width="1.0"/>
<circle cx="265.0" cy="82.6" r="1.7" fill="#2d65cc" stroke="#173f86" stroke-width="0.4"/>
<rect x="272.8" y="79.8" width="13.4" height="8.1" rx="2.6" fill="#dc6a1c" stroke="#8c5c16" stroke-width="1.0"/>
<circle cx="279.5" cy="83.8" r="1.7" fill="#2d65cc" stroke="#173f86" stroke-width="0.4"/>
<rect x="225.8" y="88.8" width="10.4" height="9.4" rx="2.6" fill="#dc6a1c" stroke="#8c5c16" stroke-width="1.0"/>
<circle cx="231.0" cy="93.5" r="1.7" fill="#2d65cc" stroke="#173f86" stroke-width="0.4"/>
<rect x="237.8" y="90.7" width="11.4" height="10.6" rx="2.6" fill="#dc6a1c" stroke="#8c5c16" stroke-width="1.0"/>
<circle cx="243.5" cy="95.9" r="1.7" fill="#2d65cc" stroke="#173f86" stroke-width="0.4"/>
<rect x="250.8" y="89.0" width="9.4" height="10.7" rx="2.6" fill="#dc6a1c" stroke="#8c5c16" stroke-width="1.0"/>
<circle cx="255.5" cy="94.4" r="1.7" fill="#2d65cc" stroke="#173f86" stroke-width="0.4"/>
<rect x="261.8" y="89.6" width="10.4" height="10.2" rx="2.6" fill="#dc6a1c" stroke="#8c5c16" stroke-width="1.0"/>
<circle cx="267.0" cy="94.7" r="1.7" fill="#2d65cc" stroke="#173f86" stroke-width="0.4"/>
<rect x="273.8" y="88.8" width="12.4" height="10.7" rx="2.6" fill="#dc6a1c" stroke="#8c5c16" stroke-width="1.0"/>
<circle cx="280.0" cy="94.1" r="1.7" fill="#2d65cc" stroke="#173f86" stroke-width="0.4"/>
<rect x="225.8" y="101.0" width="8.4" height="12.2" rx="2.6" fill="#dc6a1c" stroke="#8c5c16" stroke-width="1.0"/>
<circle cx="230.0" cy="107.1" r="1.7" fill="#2d65cc" stroke="#173f86" stroke-width="0.4"/>
<rect x="235.8" y="101.4" width="12.4" height="11.0" rx="2.6" fill="#dc6a1c" stroke="#8c5c16" stroke-width="1.0"/>
<circle cx="242.0" cy="107.0" r="1.7" fill="#2d65cc" stroke="#173f86" stroke-width="0.4"/>
<rect x="249.8" y="100.2" width="10.4" height="10.8" rx="2.6" fill="#dc6a1c" stroke="#8c5c16" stroke-width="1.0"/>
<circle cx="255.0" cy="105.6" r="1.7" fill="#2d65cc" stroke="#173f86" stroke-width="0.4"/>
<rect x="261.8" y="99.6" width="10.4" height="10.6" rx="2.6" fill="#dc6a1c" stroke="#8c5c16" stroke-width="1.0"/>
<circle cx="267.0" cy="105.0" r="1.7" fill="#2d65cc" stroke="#173f86" stroke-width="0.4"/>
<rect x="273.8" y="100.0" width="12.4" height="11.6" rx="2.6" fill="#dc6a1c" stroke="#8c5c16" stroke-width="1.0"/>
<circle cx="280.0" cy="105.8" r="1.7" fill="#2d65cc" stroke="#173f86" stroke-width="0.4"/>
<rect x="291.8" y="79.8" width="10.4" height="7.7" rx="2.6" fill="#dc6a1c" stroke="#8c5c16" stroke-width="1.0"/>
<circle cx="297.0" cy="83.7" r="1.7" fill="#2d65cc" stroke="#173f86" stroke-width="0.4"/>
<rect x="303.8" y="76.6" width="12.4" height="11.1" rx="2.6" fill="#dc6a1c" stroke="#8c5c16" stroke-width="1.0"/>
<circle cx="310.0" cy="82.1" r="1.7" fill="#2d65cc" stroke="#173f86" stroke-width="0.4"/>
<rect x="317.8" y="77.8" width="11.4" height="11.4" rx="2.6" fill="#dc6a1c" stroke="#8c5c16" stroke-width="1.0"/>
<circle cx="323.5" cy="83.4" r="1.7" fill="#2d65cc" stroke="#173f86" stroke-width="0.4"/>
<rect x="330.8" y="76.6" width="8.4" height="11.4" rx="2.6" fill="#dc6a1c" stroke="#8c5c16" stroke-width="1.0"/>
<circle cx="335.0" cy="82.2" r="1.7" fill="#2d65cc" stroke="#173f86" stroke-width="0.4"/>
<rect x="340.8" y="81.5" width="11.4" height="6.6" rx="2.6" fill="#dc6a1c" stroke="#8c5c16" stroke-width="1.0"/>
<circle cx="346.5" cy="84.8" r="1.7" fill="#2d65cc" stroke="#173f86" stroke-width="0.4"/>
<rect x="291.8" y="90.6" width="11.4" height="9.0" rx="2.6" fill="#dc6a1c" stroke="#8c5c16" stroke-width="1.0"/>
<circle cx="297.5" cy="95.2" r="1.7" fill="#2d65cc" stroke="#173f86" stroke-width="0.4"/>
<rect x="304.8" y="90.1" width="9.4" height="10.5" rx="2.6" fill="#dc6a1c" stroke="#8c5c16" stroke-width="1.0"/>
<circle cx="309.5" cy="95.4" r="1.7" fill="#2d65cc" stroke="#173f86" stroke-width="0.4"/>
<rect x="315.8" y="88.3" width="12.4" height="10.4" rx="2.6" fill="#dc6a1c" stroke="#8c5c16" stroke-width="1.0"/>
<circle cx="322.0" cy="93.6" r="1.7" fill="#2d65cc" stroke="#173f86" stroke-width="0.4"/>
<rect x="329.8" y="89.2" width="10.4" height="10.0" rx="2.6" fill="#dc6a1c" stroke="#8c5c16" stroke-width="1.0"/>
<circle cx="335.0" cy="94.2" r="1.7" fill="#2d65cc" stroke="#173f86" stroke-width="0.4"/>
<rect x="341.8" y="88.3" width="10.4" height="9.1" rx="2.6" fill="#dc6a1c" stroke="#8c5c16" stroke-width="1.0"/>
<circle cx="347.0" cy="92.9" r="1.7" fill="#2d65cc" stroke="#173f86" stroke-width="0.4"/>
<rect x="291.8" y="99.7" width="12.4" height="12.2" rx="2.6" fill="#dc6a1c" stroke="#8c5c16" stroke-width="1.0"/>
<circle cx="298.0" cy="105.8" r="1.7" fill="#2d65cc" stroke="#173f86" stroke-width="0.4"/>
<rect x="305.8" y="99.8" width="10.4" height="11.9" rx="2.6" fill="#dc6a1c" stroke="#8c5c16" stroke-width="1.0"/>
<circle cx="311.0" cy="105.7" r="1.7" fill="#2d65cc" stroke="#173f86" stroke-width="0.4"/>
<rect x="317.8" y="101.5" width="11.4" height="12.2" rx="2.6" fill="#dc6a1c" stroke="#8c5c16" stroke-width="1.0"/>
<circle cx="323.5" cy="107.6" r="1.7" fill="#2d65cc" stroke="#173f86" stroke-width="0.4"/>
<rect x="330.8" y="100.1" width="9.4" height="11.1" rx="2.6" fill="#dc6a1c" stroke="#8c5c16" stroke-width="1.0"/>
<circle cx="335.5" cy="105.7" r="1.7" fill="#2d65cc" stroke="#173f86" stroke-width="0.4"/>
<rect x="341.8" y="100.6" width="10.4" height="11.9" rx="2.6" fill="#dc6a1c" stroke="#8c5c16" stroke-width="1.0"/>
<circle cx="347.0" cy="106.5" r="1.7" fill="#2d65cc" stroke="#173f86" stroke-width="0.4"/>
<rect x="357.8" y="80.1" width="10.4" height="7.8" rx="2.6" fill="#dc6a1c" stroke="#8c5c16" stroke-width="1.0"/>
<circle cx="363.0" cy="84.0" r="1.7" fill="#2d65cc" stroke="#173f86" stroke-width="0.4"/>
<rect x="369.8" y="77.7" width="8.4" height="12.0" rx="2.6" fill="#dc6a1c" stroke="#8c5c16" stroke-width="1.0"/>
<circle cx="374.0" cy="83.7" r="1.7" fill="#2d65cc" stroke="#173f86" stroke-width="0.4"/>
<rect x="379.8" y="75.9" width="7.4" height="12.2" rx="2.6" fill="#dc6a1c" stroke="#8c5c16" stroke-width="1.0"/>
<circle cx="383.5" cy="82.0" r="1.7" fill="#2d65cc" stroke="#173f86" stroke-width="0.4"/>
<rect x="357.8" y="88.5" width="9.4" height="9.6" rx="2.6" fill="#dc6a1c" stroke="#8c5c16" stroke-width="1.0"/>
<circle cx="362.5" cy="93.3" r="1.7" fill="#2d65cc" stroke="#173f86" stroke-width="0.4"/>
<rect x="368.8" y="89.8" width="9.4" height="10.7" rx="2.6" fill="#dc6a1c" stroke="#8c5c16" stroke-width="1.0"/>
<circle cx="373.5" cy="95.1" r="1.7" fill="#2d65cc" stroke="#173f86" stroke-width="0.4"/>
<rect x="379.8" y="89.1" width="7.4" height="10.7" rx="2.6" fill="#dc6a1c" stroke="#8c5c16" stroke-width="1.0"/>
<circle cx="383.5" cy="94.4" r="1.7" fill="#2d65cc" stroke="#173f86" stroke-width="0.4"/>
<rect x="357.8" y="100.6" width="8.4" height="11.1" rx="2.6" fill="#dc6a1c" stroke="#8c5c16" stroke-width="1.0"/>
<circle cx="362.0" cy="106.1" r="1.7" fill="#2d65cc" stroke="#173f86" stroke-width="0.4"/>
<rect x="367.8" y="100.1" width="10.4" height="10.8" rx="2.6" fill="#dc6a1c" stroke="#8c5c16" stroke-width="1.0"/>
<circle cx="373.0" cy="105.5" r="1.7" fill="#2d65cc" stroke="#173f86" stroke-width="0.4"/>
<rect x="379.8" y="99.5" width="7.4" height="10.8" rx="2.6" fill="#dc6a1c" stroke="#8c5c16" stroke-width="1.0"/>
<circle cx="383.5" cy="104.9" r="1.7" fill="#2d65cc" stroke="#173f86" stroke-width="0.4"/>
<path d="M214,74 Q220,80 220.8,100 L220.8,114 L225.2,114 L225.2,100 Q226,80 232,74 Z" fill="#f5c9ab"/>
<path d="M280,74 Q286,80 286.8,100 L286.8,114 L291.2,114 L291.2,100 Q292,80 298,74 Z" fill="#f5c9ab"/>
<path d="M345.5,74 Q351.5,80 352.3,100 L352.3,114 L356.7,114 L356.7,100 Q357.5,80 363.5,74 Z" fill="#f5c9ab"/>
<path d="M221.5,86 Q220,77 214,76" fill="none" stroke="#1d5a9e" stroke-width="1.9"/>
<polygon points="210.3,75.4 216.3,73.7 215.4,78.9" fill="#1d5a9e"/>
<path d="M224.5,86 Q226,77 232,76" fill="none" stroke="#1d5a9e" stroke-width="1.9"/>
<polygon points="235.7,75.4 230.6,78.9 229.7,73.7" fill="#1d5a9e"/>
<path d="M287.5,86 Q286,77 280,76" fill="none" stroke="#1d5a9e" stroke-width="1.9"/>
<polygon points="276.3,75.4 282.3,73.7 281.4,78.9" fill="#1d5a9e"/>
<path d="M290.5,86 Q292,77 298,76" fill="none" stroke="#1d5a9e" stroke-width="1.9"/>
<polygon points="301.7,75.4 296.6,78.9 295.7,73.7" fill="#1d5a9e"/>
<path d="M353.0,86 Q351.5,77 345.5,76" fill="none" stroke="#1d5a9e" stroke-width="1.9"/>
<polygon points="341.8,75.4 347.8,73.7 346.9,78.9" fill="#1d5a9e"/>
<path d="M356.0,86 Q357.5,77 363.5,76" fill="none" stroke="#1d5a9e" stroke-width="1.9"/>
<polygon points="367.2,75.4 362.1,78.9 361.2,73.7" fill="#1d5a9e"/>
<path d="M269,63 L268,58" stroke="#666" stroke-width="0.8"/><polygon points="266,59 270,58.5 267,54.5" fill="#2a3a50"/>
<path d="M332,111 L336,117" stroke="#d89a20" stroke-width="0.8"/><polygon points="334,117 338,116 337,119.5" fill="#d89a20"/>
<text x="285.5" y="53" font-size="13.7" font-weight="normal" text-anchor="middle" fill="#f7dc72" stroke="#f7dc72" stroke-width="0.45">Viscous lubricant</text>
<text x="323.2" y="130.2" font-size="11" font-weight="bold" text-anchor="middle" fill="#9a6c14">cell</text>
<text x="291" y="167.5" font-size="12.9" font-weight="bold" text-anchor="middle" fill="#3c6a2c">glandular cavity</text>
</g>
<polygon points="395,83 409,83 409,76 422,89.5 409,103 409,96 395,96" fill="#808080"/>
<g clip-path="url(#cp3)">
<rect x="432" y="2" width="186" height="19" rx="7" fill="#a4d6f6" filter="url(#blur3)" opacity="0.9"/>
<path d="M433,20 L617,20 L617,170 L433,170 Z" fill="url(#p3body)"/>
<clipPath id="cp3b"><rect x="433" y="0" width="184" height="170"/></clipPath>
<path d="M433.0,20.5 Q433.0,12 439.0,12 Q445.0,12 445.0,20.5 Z" fill="#eda274"/>
<path d="M444.8,20.5 Q444.8,12 450.8,12 Q456.8,12 456.8,20.5 Z" fill="#eda274"/>
<path d="M456.6,20.5 Q456.6,12 462.6,12 Q468.6,12 468.6,20.5 Z" fill="#eda274"/>
<path d="M480.2,20.5 Q480.2,12 486.2,12 Q492.2,12 492.2,20.5 Z" fill="#eda274"/>
<path d="M492.0,20.5 Q492.0,12 498.0,12 Q504.0,12 504.0,20.5 Z" fill="#eda274"/>
<path d="M503.8,20.5 Q503.8,12 509.8,12 Q515.8,12 515.8,20.5 Z" fill="#eda274"/>
<path d="M515.6,20.5 Q515.6,12 521.6,12 Q527.6,12 527.6,20.5 Z" fill="#eda274"/>
<path d="M527.4,20.5 Q527.4,12 533.4,12 Q539.4,12 539.4,20.5 Z" fill="#eda274"/>
<path d="M539.2,20.5 Q539.2,12 545.2,12 Q551.2,12 551.2,20.5 Z" fill="#eda274"/>
<path d="M551.0,20.5 Q551.0,12 557.0,12 Q563.0,12 563.0,20.5 Z" fill="#eda274"/>
<path d="M574.6,20.5 Q574.6,12 580.6,12 Q586.6,12 586.6,20.5 Z" fill="#eda274"/>
<path d="M586.4,20.5 Q586.4,12 592.4,12 Q598.4,12 598.4,20.5 Z" fill="#eda274"/>
<path d="M598.2,20.5 Q598.2,12 604.2,12 Q610.2,12 610.2,20.5 Z" fill="#eda274"/>
<g clip-path="url(#cp3b)">
<path d="M433.0,28.9 L437.0,28.5 L441.0,28.0 L445.0,27.5 L449.0,27.1 L453.0,27.1 L457.0,27.5 L461.0,28.0 L465.0,28.6 L469.0,28.9 L473.0,28.8 L477.0,28.5 L481.0,27.9 L485.0,27.4 L489.0,27.1 L493.0,27.2 L497.0,27.6 L501.0,28.1 L505.0,28.6 L509.0,28.9 L513.0,28.8 L517.0,28.4 L521.0,27.8 L525.0,27.3 L529.0,27.1 L533.0,27.2 L537.0,27.7 L541.0,28.2 L545.0,28.7 L549.0,28.9 L553.0,28.7 L557.0,28.3 L561.0,27.7 L565.0,27.3 L569.0,27.1 L573.0,27.3 L577.0,27.8 L581.0,28.3 L585.0,28.8 L589.0,28.9 L593.0,28.7 L597.0,28.2 L601.0,27.6 L605.0,27.2 L609.0,27.1 L613.0,27.4 L617.0,27.9" fill="none" stroke="#5a606e" stroke-width="1.1"/>
<path d="M433.0,47.6 L437.0,47.1 L441.0,46.7 L445.0,46.6 L449.0,46.9 L453.0,47.4 L457.0,48.0 L461.0,48.3 L465.0,48.4 L469.0,48.0 L473.0,47.5 L477.0,47.0 L481.0,46.6 L485.0,46.7 L489.0,47.0 L493.0,47.5 L497.0,48.1 L501.0,48.4 L505.0,48.3 L509.0,48.0 L513.0,47.4 L517.0,46.9 L521.0,46.6 L525.0,46.7 L529.0,47.1 L533.0,47.6 L537.0,48.1 L541.0,48.4 L545.0,48.3 L549.0,47.9 L553.0,47.3 L557.0,46.8 L561.0,46.6 L565.0,46.7 L569.0,47.2 L573.0,47.8 L577.0,48.2 L581.0,48.4 L585.0,48.2 L589.0,47.8 L593.0,47.2 L597.0,46.8 L601.0,46.6 L605.0,46.8 L609.0,47.3 L613.0,47.8 L617.0,48.3" fill="none" stroke="#5a606e" stroke-width="1.1"/>
<path d="M433.0,62.4 L437.0,62.1 L441.0,62.2 L445.0,62.6 L449.0,63.2 L453.0,63.7 L457.0,63.9 L461.0,63.8 L465.0,63.3 L469.0,62.8 L473.0,62.3 L477.0,62.1 L481.0,62.3 L485.0,62.7 L489.0,63.3 L493.0,63.7 L497.0,63.9 L501.0,63.7 L505.0,63.2 L509.0,62.7 L513.0,62.2 L517.0,62.1 L521.0,62.3 L525.0,62.8 L529.0,63.4 L533.0,63.8 L537.0,63.9 L541.0,63.6 L545.0,63.1 L549.0,62.6 L553.0,62.2 L557.0,62.1 L561.0,62.4 L565.0,62.9 L569.0,63.5 L573.0,63.8 L577.0,63.9 L581.0,63.5 L585.0,63.0 L589.0,62.5 L593.0,62.1 L597.0,62.2 L601.0,62.5 L605.0,63.0 L609.0,63.6 L613.0,63.9 L617.0,63.8" fill="none" stroke="#5a606e" stroke-width="1.1"/>
<path d="M436.9,20.0 L436.8,24.0 L437.1,28.0 L437.7,32.0 L438.2,36.0 L438.6,40.0 L438.6,44.0 L438.2,48.0 L437.7,52.0 L437.1,56.0 L436.8,60.0 L436.9,64.0 L437.2,68.0 L437.8,72.0 L438.3,76.0" fill="none" stroke="#5a606e" stroke-width="1.1"/>
<path d="M454.5,20.0 L455.0,24.0 L455.5,28.0 L456.0,32.0 L456.1,36.0 L455.9,40.0 L455.4,44.0 L454.8,48.0 L454.4,52.0 L454.3,56.0 L454.6,60.0 L455.1,64.0 L455.6,68.0 L456.0,72.0 L456.1,76.0" fill="none" stroke="#5a606e" stroke-width="1.1"/>
<path d="M472.8,20.0 L473.3,24.0 L473.6,28.0 L473.5,32.0 L473.1,36.0 L472.5,40.0 L472.0,44.0 L471.8,48.0 L471.9,52.0 L472.4,56.0 L472.9,60.0 L473.4,64.0 L473.6,68.0 L473.4,72.0 L473.0,76.0" fill="none" stroke="#5a606e" stroke-width="1.1"/>
<path d="M491.0,20.0 L491.1,24.0 L490.8,28.0 L490.2,32.0 L489.7,36.0 L489.3,40.0 L489.3,44.0 L489.7,48.0 L490.2,52.0 L490.8,56.0 L491.1,60.0 L491.0,64.0 L490.7,68.0 L490.1,72.0 L489.6,76.0" fill="none" stroke="#5a606e" stroke-width="1.1"/>
<path d="M508.4,20.0 L507.9,24.0 L507.4,28.0 L506.9,32.0 L506.8,36.0 L507.0,40.0 L507.5,44.0 L508.1,48.0 L508.5,52.0 L508.6,56.0 L508.3,60.0 L507.8,64.0 L507.3,68.0 L506.9,72.0 L506.8,76.0" fill="none" stroke="#5a606e" stroke-width="1.1"/>
<path d="M525.1,20.0 L524.6,24.0 L524.3,28.0 L524.4,32.0 L524.8,36.0 L525.4,40.0 L525.9,44.0 L526.1,48.0 L526.0,52.0 L525.5,56.0 L525.0,60.0 L524.5,64.0 L524.3,68.0 L524.5,72.0 L524.9,76.0" fill="none" stroke="#5a606e" stroke-width="1.1"/>
<path d="M541.9,20.0 L541.8,24.0 L542.2,28.0 L542.7,32.0 L543.2,36.0 L543.6,40.0 L543.6,44.0 L543.2,48.0 L542.7,52.0 L542.1,56.0 L541.8,60.0 L541.9,64.0 L542.2,68.0 L542.8,72.0 L543.3,76.0" fill="none" stroke="#5a606e" stroke-width="1.1"/>
<path d="M559.5,20.0 L560.0,24.0 L560.5,28.0 L561.0,32.0 L561.1,36.0 L560.9,40.0 L560.4,44.0 L559.8,48.0 L559.4,52.0 L559.3,56.0 L559.6,60.0 L560.1,64.0 L560.6,68.0 L561.0,72.0 L561.1,76.0" fill="none" stroke="#5a606e" stroke-width="1.1"/>
<path d="M577.8,20.0 L578.3,24.0 L578.6,28.0 L578.5,32.0 L578.1,36.0 L577.5,40.0 L577.0,44.0 L576.8,48.0 L576.9,52.0 L577.4,56.0 L577.9,60.0 L578.4,64.0 L578.6,68.0 L578.4,72.0 L578.0,76.0" fill="none" stroke="#5a606e" stroke-width="1.1"/>
<path d="M596.0,20.0 L596.1,24.0 L595.7,28.0 L595.2,32.0 L594.7,36.0 L594.3,40.0 L594.4,44.0 L594.7,48.0 L595.2,52.0 L595.8,56.0 L596.1,60.0 L596.0,64.0 L595.7,68.0 L595.1,72.0 L594.6,76.0" fill="none" stroke="#5a606e" stroke-width="1.1"/>
<path d="M613.4,20.0 L612.9,24.0 L612.3,28.0 L611.9,32.0 L611.8,36.0 L612.0,40.0 L612.5,44.0 L613.1,48.0 L613.5,52.0 L613.6,56.0 L613.3,60.0 L612.8,64.0 L612.3,68.0 L611.9,72.0 L611.8,76.0" fill="none" stroke="#5a606e" stroke-width="1.1"/>
<circle cx="437.1" cy="28.5" r="1.5" fill="#c01818"/>
<circle cx="455.5" cy="27.3" r="1.5" fill="#c01818"/>
<circle cx="473.6" cy="28.8" r="1.5" fill="#c01818"/>
<circle cx="490.8" cy="27.1" r="1.5" fill="#c01818"/>
<circle cx="507.4" cy="28.8" r="1.5" fill="#c01818"/>
<circle cx="524.3" cy="27.3" r="1.5" fill="#c01818"/>
<circle cx="542.2" cy="28.5" r="1.5" fill="#c01818"/>
<circle cx="560.5" cy="27.8" r="1.5" fill="#c01818"/>
<circle cx="578.6" cy="27.9" r="1.5" fill="#c01818"/>
<circle cx="595.7" cy="28.4" r="1.5" fill="#c01818"/>
<circle cx="612.3" cy="27.3" r="1.5" fill="#c01818"/>
<circle cx="438.3" cy="47.0" r="1.5" fill="#c01818"/>
<circle cx="454.9" cy="47.8" r="1.5" fill="#c01818"/>
<circle cx="471.8" cy="47.6" r="1.5" fill="#c01818"/>
<circle cx="489.6" cy="47.2" r="1.5" fill="#c01818"/>
<circle cx="508.0" cy="48.1" r="1.5" fill="#c01818"/>
<circle cx="526.1" cy="46.7" r="1.5" fill="#c01818"/>
<circle cx="543.3" cy="48.4" r="1.5" fill="#c01818"/>
<circle cx="559.9" cy="46.6" r="1.5" fill="#c01818"/>
<circle cx="576.8" cy="48.3" r="1.5" fill="#c01818"/>
<circle cx="594.6" cy="46.9" r="1.5" fill="#c01818"/>
<circle cx="613.0" cy="47.8" r="1.5" fill="#c01818"/>
<circle cx="436.8" cy="62.1" r="1.5" fill="#c01818"/>
<circle cx="454.9" cy="63.8" r="1.5" fill="#c01818"/>
<circle cx="473.3" cy="62.3" r="1.5" fill="#c01818"/>
<circle cx="491.1" cy="63.5" r="1.5" fill="#c01818"/>
<circle cx="508.0" cy="62.8" r="1.5" fill="#c01818"/>
<circle cx="524.6" cy="62.9" r="1.5" fill="#c01818"/>
<circle cx="541.8" cy="63.4" r="1.5" fill="#c01818"/>
<circle cx="559.9" cy="62.3" r="1.5" fill="#c01818"/>
<circle cx="578.3" cy="63.8" r="1.5" fill="#c01818"/>
<circle cx="596.1" cy="62.1" r="1.5" fill="#c01818"/>
<circle cx="613.0" cy="63.9" r="1.5" fill="#c01818"/>
<path d="M433.0,72.6 L436.0,72.7 L439.0,73.1 L442.0,73.7 L445.0,74.3 L448.0,74.9 L451.0,75.3 L454.0,75.4 L457.0,75.2 L460.0,74.7 L463.0,74.0 L466.0,73.4 L469.0,72.9 L472.0,72.6 L475.0,72.7 L478.0,73.0 L481.0,73.6 L484.0,74.3 L487.0,74.9 L490.0,75.3 L493.0,75.4 L496.0,75.2 L499.0,74.7 L502.0,74.1 L505.0,73.4 L508.0,72.9 L511.0,72.6 L514.0,72.7 L517.0,73.0 L520.0,73.6 L523.0,74.2 L526.0,74.8 L529.0,75.3 L532.0,75.4 L535.0,75.2 L538.0,74.8 L541.0,74.1 L544.0,73.5 L547.0,72.9 L550.0,72.6 L553.0,72.6 L556.0,73.0 L559.0,73.5 L562.0,74.2 L565.0,74.8 L568.0,75.2 L571.0,75.4 L574.0,75.3 L577.0,74.8 L580.0,74.2 L583.0,73.5 L586.0,73.0 L589.0,72.7 L592.0,72.6 L595.0,72.9 L598.0,73.4 L601.0,74.1 L604.0,74.7 L607.0,75.2 L610.0,75.4 L613.0,75.3 L616.0,74.9 L619.0,74.3" fill="none" stroke="#5a606e" stroke-width="1.1"/>
<path d="M433.0,81.3 L436.0,81.7 L439.0,82.3 L442.0,83.0 L445.0,83.6 L448.0,83.9 L451.0,84.0 L454.0,83.7 L457.0,83.2 L460.0,82.6 L463.0,81.9 L466.0,81.4 L469.0,81.2 L472.0,81.3 L475.0,81.7 L478.0,82.3 L481.0,82.9 L484.0,83.5 L487.0,83.9 L490.0,84.0 L493.0,83.8 L496.0,83.3 L499.0,82.6 L502.0,82.0 L505.0,81.5 L508.0,81.2 L511.0,81.3 L514.0,81.6 L517.0,82.2 L520.0,82.9 L523.0,83.5 L526.0,83.9 L529.0,84.0 L532.0,83.8 L535.0,83.3 L538.0,82.7 L541.0,82.0 L544.0,81.5 L547.0,81.2 L550.0,81.3 L553.0,81.6 L556.0,82.1 L559.0,82.8 L562.0,83.4 L565.0,83.9 L568.0,84.0 L571.0,83.8 L574.0,83.4 L577.0,82.8 L580.0,82.1 L583.0,81.6 L586.0,81.2 L589.0,81.2 L592.0,81.5 L595.0,82.1 L598.0,82.7 L601.0,83.4 L604.0,83.8 L607.0,84.0 L610.0,83.9 L613.0,83.4 L616.0,82.8 L619.0,82.2" fill="none" stroke="#5a606e" stroke-width="1.1"/>
<path d="M433.0,90.4 L436.0,91.0 L439.0,91.6 L442.0,92.2 L445.0,92.5 L448.0,92.6 L451.0,92.3 L454.0,91.8 L457.0,91.1 L460.0,90.5 L463.0,90.0 L466.0,89.8 L469.0,89.9 L472.0,90.3 L475.0,90.9 L478.0,91.6 L481.0,92.2 L484.0,92.5 L487.0,92.6 L490.0,92.3 L493.0,91.8 L496.0,91.2 L499.0,90.5 L502.0,90.0 L505.0,89.8 L508.0,89.9 L511.0,90.3 L514.0,90.9 L517.0,91.5 L520.0,92.1 L523.0,92.5 L526.0,92.6 L529.0,92.4 L532.0,91.9 L535.0,91.2 L538.0,90.6 L541.0,90.1 L544.0,89.8 L547.0,89.9 L550.0,90.2 L553.0,90.8 L556.0,91.5 L559.0,92.1 L562.0,92.5 L565.0,92.6 L568.0,92.4 L571.0,91.9 L574.0,91.3 L577.0,90.7 L580.0,90.1 L583.0,89.8 L586.0,89.9 L589.0,90.2 L592.0,90.7 L595.0,91.4 L598.0,92.0 L601.0,92.4 L604.0,92.6 L607.0,92.4 L610.0,92.0 L613.0,91.4 L616.0,90.7 L619.0,90.2" fill="none" stroke="#5a606e" stroke-width="1.1"/>
<path d="M433.0,99.6 L436.0,100.3 L439.0,100.8 L442.0,101.2 L445.0,101.2 L448.0,100.9 L451.0,100.3 L454.0,99.7 L457.0,99.0 L460.0,98.6 L463.0,98.4 L466.0,98.5 L469.0,98.9 L472.0,99.6 L475.0,100.2 L478.0,100.8 L481.0,101.1 L484.0,101.2 L487.0,100.9 L490.0,100.4 L493.0,99.7 L496.0,99.1 L499.0,98.6 L502.0,98.4 L505.0,98.5 L508.0,98.9 L511.0,99.5 L514.0,100.2 L517.0,100.7 L520.0,101.1 L523.0,101.2 L526.0,100.9 L529.0,100.4 L532.0,99.8 L535.0,99.2 L538.0,98.7 L541.0,98.4 L544.0,98.5 L547.0,98.9 L550.0,99.4 L553.0,100.1 L556.0,100.7 L559.0,101.1 L562.0,101.2 L565.0,101.0 L568.0,100.5 L571.0,99.9 L574.0,99.2 L577.0,98.7 L580.0,98.4 L583.0,98.5 L586.0,98.8 L589.0,99.4 L592.0,100.0 L595.0,100.7 L598.0,101.1 L601.0,101.2 L604.0,101.0 L607.0,100.5 L610.0,99.9 L613.0,99.3 L616.0,98.7 L619.0,98.4" fill="none" stroke="#5a606e" stroke-width="1.1"/>
<path d="M433.0,108.9 L436.0,109.5 L439.0,109.8 L442.0,109.8 L445.0,109.4 L448.0,108.9 L451.0,108.2 L454.0,107.6 L457.0,107.2 L460.0,107.0 L463.0,107.2 L466.0,107.6 L469.0,108.2 L472.0,108.9 L475.0,109.4 L478.0,109.7 L481.0,109.8 L484.0,109.5 L487.0,108.9 L490.0,108.3 L493.0,107.7 L496.0,107.2 L499.0,107.0 L502.0,107.1 L505.0,107.5 L508.0,108.1 L511.0,108.8 L514.0,109.4 L517.0,109.7 L520.0,109.8 L523.0,109.5 L526.0,109.0 L529.0,108.3 L532.0,107.7 L535.0,107.2 L538.0,107.0 L541.0,107.1 L544.0,107.5 L547.0,108.1 L550.0,108.8 L553.0,109.3 L556.0,109.7 L559.0,109.8 L562.0,109.6 L565.0,109.1 L568.0,108.4 L571.0,107.8 L574.0,107.3 L577.0,107.0 L580.0,107.1 L583.0,107.4 L586.0,108.0 L589.0,108.7 L592.0,109.3 L595.0,109.7 L598.0,109.8 L601.0,109.6 L604.0,109.1 L607.0,108.5 L610.0,107.8 L613.0,107.3 L616.0,107.0 L619.0,107.1" fill="none" stroke="#5a606e" stroke-width="1.1"/>
<path d="M433.0,118.1 L436.0,118.4 L439.0,118.3 L442.0,118.0 L445.0,117.4 L448.0,116.8 L451.0,116.2 L454.0,115.7 L457.0,115.6 L460.0,115.8 L463.0,116.2 L466.0,116.9 L469.0,117.5 L472.0,118.1 L475.0,118.4 L478.0,118.4 L481.0,118.0 L484.0,117.5 L487.0,116.8 L490.0,116.2 L493.0,115.8 L496.0,115.6 L499.0,115.7 L502.0,116.2 L505.0,116.8 L508.0,117.5 L511.0,118.0 L514.0,118.3 L517.0,118.4 L520.0,118.1 L523.0,117.6 L526.0,116.9 L529.0,116.3 L532.0,115.8 L535.0,115.6 L538.0,115.7 L541.0,116.1 L544.0,116.7 L547.0,117.4 L550.0,118.0 L553.0,118.3 L556.0,118.4 L559.0,118.1 L562.0,117.6 L565.0,117.0 L568.0,116.3 L571.0,115.8 L574.0,115.6 L577.0,115.7 L580.0,116.1 L583.0,116.7 L586.0,117.3 L589.0,117.9 L592.0,118.3 L595.0,118.4 L598.0,118.2 L601.0,117.7 L604.0,117.0 L607.0,116.4 L610.0,115.9 L613.0,115.6 L616.0,115.7 L619.0,116.0" fill="none" stroke="#5a606e" stroke-width="1.1"/>
<path d="M433.0,127.0 L436.0,126.9 L439.0,126.6 L442.0,126.0 L445.0,125.3 L448.0,124.7 L451.0,124.3 L454.0,124.2 L457.0,124.4 L460.0,124.9 L463.0,125.5 L466.0,126.2 L469.0,126.7 L472.0,127.0 L475.0,126.9 L478.0,126.6 L481.0,126.0 L484.0,125.4 L487.0,124.8 L490.0,124.3 L493.0,124.2 L496.0,124.4 L499.0,124.8 L502.0,125.4 L505.0,126.1 L508.0,126.7 L511.0,127.0 L514.0,127.0 L517.0,126.7 L520.0,126.1 L523.0,125.4 L526.0,124.8 L529.0,124.4 L532.0,124.2 L535.0,124.3 L538.0,124.8 L541.0,125.4 L544.0,126.1 L547.0,126.6 L550.0,126.9 L553.0,127.0 L556.0,126.7 L559.0,126.2 L562.0,125.5 L565.0,124.9 L568.0,124.4 L571.0,124.2 L574.0,124.3 L577.0,124.7 L580.0,125.3 L583.0,126.0 L586.0,126.6 L589.0,126.9 L592.0,127.0 L595.0,126.7 L598.0,126.2 L601.0,125.6 L604.0,124.9 L607.0,124.4 L610.0,124.2 L613.0,124.3 L616.0,124.7 L619.0,125.3" fill="none" stroke="#5a606e" stroke-width="1.1"/>
<path d="M433.0,135.5 L436.0,135.1 L439.0,134.5 L442.0,133.9 L445.0,133.3 L448.0,132.9 L451.0,132.8 L454.0,133.0 L457.0,133.5 L460.0,134.2 L463.0,134.8 L466.0,135.3 L469.0,135.6 L472.0,135.5 L475.0,135.2 L478.0,134.6 L481.0,133.9 L484.0,133.3 L487.0,132.9 L490.0,132.8 L493.0,133.0 L496.0,133.5 L499.0,134.1 L502.0,134.8 L505.0,135.3 L508.0,135.6 L511.0,135.5 L514.0,135.2 L517.0,134.7 L520.0,134.0 L523.0,133.4 L526.0,132.9 L529.0,132.8 L532.0,133.0 L535.0,133.4 L538.0,134.0 L541.0,134.7 L544.0,135.2 L547.0,135.6 L550.0,135.6 L553.0,135.3 L556.0,134.7 L559.0,134.1 L562.0,133.4 L565.0,133.0 L568.0,132.8 L571.0,132.9 L574.0,133.4 L577.0,134.0 L580.0,134.6 L583.0,135.2 L586.0,135.5 L589.0,135.6 L592.0,135.3 L595.0,134.8 L598.0,134.1 L601.0,133.5 L604.0,133.0 L607.0,132.8 L610.0,132.9 L613.0,133.3 L616.0,133.9 L619.0,134.6" fill="none" stroke="#5a606e" stroke-width="1.1"/>
<path d="M433.0,143.7 L436.0,143.1 L439.0,142.4 L442.0,141.8 L445.0,141.5 L448.0,141.4 L451.0,141.7 L454.0,142.2 L457.0,142.8 L460.0,143.5 L463.0,144.0 L466.0,144.2 L469.0,144.1 L472.0,143.7 L475.0,143.2 L478.0,142.5 L481.0,141.9 L484.0,141.5 L487.0,141.4 L490.0,141.6 L493.0,142.1 L496.0,142.7 L499.0,143.4 L502.0,143.9 L505.0,144.2 L508.0,144.1 L511.0,143.8 L514.0,143.2 L517.0,142.5 L520.0,141.9 L523.0,141.5 L526.0,141.4 L529.0,141.6 L532.0,142.1 L535.0,142.7 L538.0,143.3 L541.0,143.9 L544.0,144.2 L547.0,144.1 L550.0,143.8 L553.0,143.3 L556.0,142.6 L559.0,142.0 L562.0,141.6 L565.0,141.4 L568.0,141.6 L571.0,142.0 L574.0,142.6 L577.0,143.3 L580.0,143.8 L583.0,144.2 L586.0,144.2 L589.0,143.9 L592.0,143.3 L595.0,142.7 L598.0,142.0 L601.0,141.6 L604.0,141.4 L607.0,141.5 L610.0,142.0 L613.0,142.6 L616.0,143.2 L619.0,143.8" fill="none" stroke="#5a606e" stroke-width="1.1"/>
<path d="M433.0,151.6 L436.0,151.0 L439.0,150.4 L442.0,150.1 L445.0,150.0 L448.0,150.3 L451.0,150.8 L454.0,151.5 L457.0,152.1 L460.0,152.6 L463.0,152.8 L466.0,152.7 L469.0,152.3 L472.0,151.7 L475.0,151.0 L478.0,150.5 L481.0,150.1 L484.0,150.0 L487.0,150.3 L490.0,150.8 L493.0,151.4 L496.0,152.0 L499.0,152.5 L502.0,152.8 L505.0,152.7 L508.0,152.3 L511.0,151.8 L514.0,151.1 L517.0,150.5 L520.0,150.1 L523.0,150.0 L526.0,150.2 L529.0,150.7 L532.0,151.3 L535.0,152.0 L538.0,152.5 L541.0,152.8 L544.0,152.7 L547.0,152.4 L550.0,151.8 L553.0,151.2 L556.0,150.5 L559.0,150.1 L562.0,150.0 L565.0,150.2 L568.0,150.6 L571.0,151.3 L574.0,151.9 L577.0,152.5 L580.0,152.8 L583.0,152.8 L586.0,152.4 L589.0,151.9 L592.0,151.2 L595.0,150.6 L598.0,150.2 L601.0,150.0 L604.0,150.2 L607.0,150.6 L610.0,151.2 L613.0,151.9 L616.0,152.4 L619.0,152.8" fill="none" stroke="#5a606e" stroke-width="1.1"/>
<path d="M433.0,159.5 L436.0,159.0 L439.0,158.7 L442.0,158.6 L445.0,158.9 L448.0,159.5 L451.0,160.1 L454.0,160.7 L457.0,161.2 L460.0,161.4 L463.0,161.3 L466.0,160.9 L469.0,160.3 L472.0,159.6 L475.0,159.0 L478.0,158.7 L481.0,158.6 L484.0,158.9 L487.0,159.4 L490.0,160.0 L493.0,160.7 L496.0,161.2 L499.0,161.4 L502.0,161.3 L505.0,160.9 L508.0,160.3 L511.0,159.6 L514.0,159.1 L517.0,158.7 L520.0,158.6 L523.0,158.8 L526.0,159.3 L529.0,160.0 L532.0,160.6 L535.0,161.1 L538.0,161.4 L541.0,161.3 L544.0,161.0 L547.0,160.4 L550.0,159.7 L553.0,159.1 L556.0,158.7 L559.0,158.6 L562.0,158.8 L565.0,159.3 L568.0,159.9 L571.0,160.6 L574.0,161.1 L577.0,161.4 L580.0,161.3 L583.0,161.0 L586.0,160.4 L589.0,159.8 L592.0,159.2 L595.0,158.7 L598.0,158.6 L601.0,158.8 L604.0,159.2 L607.0,159.9 L610.0,160.5 L613.0,161.1 L616.0,161.4 L619.0,161.4" fill="none" stroke="#5a606e" stroke-width="1.1"/>
<path d="M433.0,167.5 L436.0,167.2 L439.0,167.2 L442.0,167.6 L445.0,168.1 L448.0,168.8 L451.0,169.4 L454.0,169.8 L457.0,170.0 L460.0,169.9 L463.0,169.4 L466.0,168.8 L469.0,168.1 L472.0,167.6 L475.0,167.3 L478.0,167.2 L481.0,167.5 L484.0,168.0 L487.0,168.7 L490.0,169.3 L493.0,169.8 L496.0,170.0 L499.0,169.9 L502.0,169.5 L505.0,168.9 L508.0,168.2 L511.0,167.6 L514.0,167.3 L517.0,167.2 L520.0,167.5 L523.0,168.0 L526.0,168.6 L529.0,169.3 L532.0,169.8 L535.0,170.0 L538.0,169.9 L541.0,169.5 L544.0,168.9 L547.0,168.3 L550.0,167.7 L553.0,167.3 L556.0,167.2 L559.0,167.4 L562.0,167.9 L565.0,168.6 L568.0,169.2 L571.0,169.7 L574.0,170.0 L577.0,169.9 L580.0,169.6 L583.0,169.0 L586.0,168.3 L589.0,167.7 L592.0,167.3 L595.0,167.2 L598.0,167.4 L601.0,167.9 L604.0,168.5 L607.0,169.2 L610.0,169.7 L613.0,170.0 L616.0,169.9 L619.0,169.6" fill="none" stroke="#5a606e" stroke-width="1.1"/>
<path d="M435.3,74.0 L435.9,77.0 L436.3,80.0 L436.4,83.0 L436.2,86.0 L435.7,89.0 L435.0,92.0 L434.4,95.0 L433.9,98.0 L433.6,101.0 L433.7,104.0 L434.0,107.0 L434.6,110.0 L435.3,113.0 L435.9,116.0 L436.3,119.0 L436.4,122.0 L436.2,125.0 L435.7,128.0 L435.1,131.0 L434.4,134.0 L433.9,137.0 L433.6,140.0 L433.7,143.0 L434.0,146.0 L434.6,149.0 L435.2,152.0 L435.8,155.0 L436.3,158.0 L436.4,161.0 L436.2,164.0 L435.8,167.0 L435.1,170.0" fill="none" stroke="#5a606e" stroke-width="1.1"/>
<path d="M445.0,74.0 L445.3,77.0 L445.4,80.0 L445.1,83.0 L444.6,86.0 L443.9,89.0 L443.3,92.0 L442.8,95.0 L442.6,98.0 L442.7,101.0 L443.1,104.0 L443.7,107.0 L444.4,110.0 L444.9,113.0 L445.3,116.0 L445.4,119.0 L445.1,122.0 L444.7,125.0 L444.0,128.0 L443.4,131.0 L442.9,134.0 L442.6,137.0 L442.7,140.0 L443.1,143.0 L443.6,146.0 L444.3,149.0 L444.9,152.0 L445.3,155.0 L445.4,158.0 L445.2,161.0 L444.7,164.0 L444.1,167.0 L443.4,170.0" fill="none" stroke="#5a606e" stroke-width="1.1"/>
<path d="M454.4,74.0 L454.4,77.0 L454.1,80.0 L453.5,83.0 L452.9,86.0 L452.2,89.0 L451.8,92.0 L451.6,95.0 L451.7,98.0 L452.2,101.0 L452.8,104.0 L453.4,107.0 L454.0,110.0 L454.3,113.0 L454.4,116.0 L454.1,119.0 L453.6,122.0 L452.9,125.0 L452.3,128.0 L451.8,131.0 L451.6,134.0 L451.7,137.0 L452.1,140.0 L452.7,143.0 L453.4,146.0 L454.0,149.0 L454.3,152.0 L454.4,155.0 L454.1,158.0 L453.6,161.0 L453.0,164.0 L452.3,167.0 L451.8,170.0" fill="none" stroke="#5a606e" stroke-width="1.1"/>
<path d="M463.3,74.0 L463.0,77.0 L462.4,80.0 L461.8,83.0 L461.2,86.0 L460.7,89.0 L460.6,92.0 L460.8,95.0 L461.2,98.0 L461.9,101.0 L462.5,104.0 L463.1,107.0 L463.4,110.0 L463.4,113.0 L463.0,116.0 L462.5,119.0 L461.8,122.0 L461.2,125.0 L460.8,128.0 L460.6,131.0 L460.7,134.0 L461.2,137.0 L461.8,140.0 L462.5,143.0 L463.0,146.0 L463.3,149.0 L463.4,152.0 L463.1,155.0 L462.6,158.0 L461.9,161.0 L461.3,164.0 L460.8,167.0 L460.6,170.0" fill="none" stroke="#5a606e" stroke-width="1.1"/>
<path d="M471.9,74.0 L471.4,77.0 L470.7,80.0 L470.1,83.0 L469.7,86.0 L469.6,89.0 L469.8,92.0 L470.3,95.0 L470.9,98.0 L471.6,101.0 L472.1,104.0 L472.4,107.0 L472.3,110.0 L472.0,113.0 L471.4,116.0 L470.8,119.0 L470.1,122.0 L469.7,125.0 L469.6,128.0 L469.8,131.0 L470.2,134.0 L470.9,137.0 L471.5,140.0 L472.1,143.0 L472.4,146.0 L472.4,149.0 L472.0,152.0 L471.5,155.0 L470.8,158.0 L470.2,161.0 L469.8,164.0 L469.6,167.0 L469.8,170.0" fill="none" stroke="#5a606e" stroke-width="1.1"/>
<path d="M480.3,74.0 L479.6,77.0 L479.0,80.0 L478.7,83.0 L478.6,86.0 L478.9,89.0 L479.4,92.0 L480.0,95.0 L480.7,98.0 L481.2,101.0 L481.4,104.0 L481.3,107.0 L480.9,110.0 L480.3,113.0 L479.7,116.0 L479.1,119.0 L478.7,122.0 L478.6,125.0 L478.8,128.0 L479.3,131.0 L480.0,134.0 L480.6,137.0 L481.1,140.0 L481.4,143.0 L481.3,146.0 L481.0,149.0 L480.4,152.0 L479.7,155.0 L479.1,158.0 L478.7,161.0 L478.6,164.0 L478.8,167.0 L479.3,170.0" fill="none" stroke="#5a606e" stroke-width="1.1"/>
<path d="M488.5,74.0 L488.0,77.0 L487.7,80.0 L487.6,83.0 L487.9,86.0 L488.5,89.0 L489.1,92.0 L489.7,95.0 L490.2,98.0 L490.4,101.0 L490.3,104.0 L489.9,107.0 L489.3,110.0 L488.6,113.0 L488.0,116.0 L487.7,119.0 L487.6,122.0 L487.9,125.0 L488.4,128.0 L489.0,131.0 L489.7,134.0 L490.2,137.0 L490.4,140.0 L490.3,143.0 L489.9,146.0 L489.3,149.0 L488.6,152.0 L488.1,155.0 L487.7,158.0 L487.6,161.0 L487.8,164.0 L488.3,167.0 L489.0,170.0" fill="none" stroke="#5a606e" stroke-width="1.1"/>
<path d="M496.9,74.0 L496.6,77.0 L496.7,80.0 L497.0,83.0 L497.5,86.0 L498.2,89.0 L498.8,92.0 L499.2,95.0 L499.4,98.0 L499.2,101.0 L498.8,104.0 L498.2,107.0 L497.5,110.0 L497.0,113.0 L496.6,116.0 L496.6,119.0 L496.9,122.0 L497.5,125.0 L498.1,128.0 L498.8,131.0 L499.2,134.0 L499.4,137.0 L499.3,140.0 L498.8,143.0 L498.2,146.0 L497.6,149.0 L497.0,152.0 L496.7,155.0 L496.6,158.0 L496.9,161.0 L497.4,164.0 L498.1,167.0 L498.7,170.0" fill="none" stroke="#5a606e" stroke-width="1.1"/>
<path d="M505.6,74.0 L505.7,77.0 L506.0,80.0 L506.6,83.0 L507.3,86.0 L507.9,89.0 L508.3,92.0 L508.4,95.0 L508.2,98.0 L507.7,101.0 L507.1,104.0 L506.4,107.0 L505.9,110.0 L505.6,113.0 L505.7,116.0 L506.0,119.0 L506.6,122.0 L507.2,125.0 L507.8,128.0 L508.3,131.0 L508.4,134.0 L508.2,137.0 L507.8,140.0 L507.1,143.0 L506.5,146.0 L505.9,149.0 L505.6,152.0 L505.6,155.0 L505.9,158.0 L506.5,161.0 L507.2,164.0 L507.8,167.0 L508.2,170.0" fill="none" stroke="#5a606e" stroke-width="1.1"/>
<path d="M514.7,74.0 L515.1,77.0 L515.7,80.0 L516.4,83.0 L516.9,86.0 L517.3,89.0 L517.4,92.0 L517.1,95.0 L516.7,98.0 L516.0,101.0 L515.4,104.0 L514.9,107.0 L514.6,110.0 L514.7,113.0 L515.1,116.0 L515.6,119.0 L516.3,122.0 L516.9,125.0 L517.3,128.0 L517.4,131.0 L517.2,134.0 L516.7,137.0 L516.1,140.0 L515.4,143.0 L514.9,146.0 L514.6,149.0 L514.7,152.0 L515.0,155.0 L515.6,158.0 L516.2,161.0 L516.8,164.0 L517.3,167.0 L517.4,170.0" fill="none" stroke="#5a606e" stroke-width="1.1"/>
<path d="M524.2,74.0 L524.8,77.0 L525.4,80.0 L526.0,83.0 L526.3,86.0 L526.4,89.0 L526.1,92.0 L525.6,95.0 L524.9,98.0 L524.3,101.0 L523.8,104.0 L523.6,107.0 L523.7,110.0 L524.1,113.0 L524.7,116.0 L525.4,119.0 L526.0,122.0 L526.3,125.0 L526.4,128.0 L526.1,131.0 L525.6,134.0 L525.0,137.0 L524.3,140.0 L523.8,143.0 L523.6,146.0 L523.7,149.0 L524.1,152.0 L524.7,155.0 L525.3,158.0 L525.9,161.0 L526.3,164.0 L526.4,167.0 L526.2,170.0" fill="none" stroke="#5a606e" stroke-width="1.1"/>
<path d="M533.9,74.0 L534.5,77.0 L535.1,80.0 L535.4,83.0 L535.4,86.0 L535.0,89.0 L534.5,92.0 L533.8,95.0 L533.2,98.0 L532.8,101.0 L532.6,104.0 L532.7,107.0 L533.2,110.0 L533.8,113.0 L534.5,116.0 L535.0,119.0 L535.3,122.0 L535.4,125.0 L535.1,128.0 L534.6,131.0 L533.9,134.0 L533.3,137.0 L532.8,140.0 L532.6,143.0 L532.7,146.0 L533.1,149.0 L533.7,152.0 L534.4,155.0 L535.0,158.0 L535.3,161.0 L535.4,164.0 L535.1,167.0 L534.6,170.0" fill="none" stroke="#5a606e" stroke-width="1.1"/>
<path d="M543.6,74.0 L544.1,77.0 L544.4,80.0 L544.3,83.0 L544.0,86.0 L543.4,89.0 L542.8,92.0 L542.1,95.0 L541.7,98.0 L541.6,101.0 L541.8,104.0 L542.2,107.0 L542.9,110.0 L543.5,113.0 L544.1,116.0 L544.4,119.0 L544.4,122.0 L544.0,125.0 L543.5,128.0 L542.8,131.0 L542.2,134.0 L541.8,137.0 L541.6,140.0 L541.8,143.0 L542.2,146.0 L542.8,149.0 L543.5,152.0 L544.0,155.0 L544.4,158.0 L544.4,161.0 L544.1,164.0 L543.5,167.0 L542.9,170.0" fill="none" stroke="#5a606e" stroke-width="1.1"/>
<path d="M553.2,74.0 L553.4,77.0 L553.3,80.0 L552.9,83.0 L552.3,86.0 L551.7,89.0 L551.1,92.0 L550.7,95.0 L550.6,98.0 L550.8,101.0 L551.3,104.0 L552.0,107.0 L552.6,110.0 L553.1,113.0 L553.4,116.0 L553.3,119.0 L553.0,122.0 L552.4,125.0 L551.7,128.0 L551.1,131.0 L550.7,134.0 L550.6,137.0 L550.8,140.0 L551.3,143.0 L551.9,146.0 L552.6,149.0 L553.1,152.0 L553.4,155.0 L553.3,158.0 L553.0,161.0 L552.5,164.0 L551.8,167.0 L551.2,170.0" fill="none" stroke="#5a606e" stroke-width="1.1"/>
<path d="M562.4,74.0 L562.3,77.0 L561.9,80.0 L561.3,83.0 L560.6,86.0 L560.0,89.0 L559.7,92.0 L559.6,95.0 L559.9,98.0 L560.4,101.0 L561.0,104.0 L561.7,107.0 L562.2,110.0 L562.4,113.0 L562.3,116.0 L561.9,119.0 L561.3,122.0 L560.6,125.0 L560.1,128.0 L559.7,131.0 L559.6,134.0 L559.8,137.0 L560.3,140.0 L561.0,143.0 L561.6,146.0 L562.1,149.0 L562.4,152.0 L562.3,155.0 L562.0,158.0 L561.4,161.0 L560.7,164.0 L560.1,167.0 L559.7,170.0" fill="none" stroke="#5a606e" stroke-width="1.1"/>
<path d="M571.2,74.0 L570.8,77.0 L570.2,80.0 L569.5,83.0 L569.0,86.0 L568.6,89.0 L568.6,92.0 L568.9,95.0 L569.5,98.0 L570.1,101.0 L570.8,104.0 L571.2,107.0 L571.4,110.0 L571.3,113.0 L570.8,116.0 L570.2,119.0 L569.6,122.0 L569.0,125.0 L568.7,128.0 L568.6,131.0 L568.9,134.0 L569.4,137.0 L570.1,140.0 L570.7,143.0 L571.2,146.0 L571.4,149.0 L571.3,152.0 L570.9,155.0 L570.3,158.0 L569.6,161.0 L569.0,164.0 L568.7,167.0 L568.6,170.0" fill="none" stroke="#5a606e" stroke-width="1.1"/>
<path d="M579.7,74.0 L579.1,77.0 L578.4,80.0 L577.9,83.0 L577.6,86.0 L577.7,89.0 L578.0,92.0 L578.6,95.0 L579.2,98.0 L579.8,101.0 L580.3,104.0 L580.4,107.0 L580.2,110.0 L579.8,113.0 L579.1,116.0 L578.5,119.0 L577.9,122.0 L577.6,125.0 L577.6,128.0 L577.9,131.0 L578.5,134.0 L579.2,137.0 L579.8,140.0 L580.2,143.0 L580.4,146.0 L580.3,149.0 L579.8,152.0 L579.2,155.0 L578.5,158.0 L578.0,161.0 L577.7,164.0 L577.6,167.0 L577.9,170.0" fill="none" stroke="#5a606e" stroke-width="1.1"/>
<path d="M588.0,74.0 L587.4,77.0 L586.9,80.0 L586.6,83.0 L586.7,86.0 L587.1,89.0 L587.6,92.0 L588.3,95.0 L588.9,98.0 L589.3,101.0 L589.4,104.0 L589.2,107.0 L588.7,110.0 L588.1,113.0 L587.4,116.0 L586.9,119.0 L586.6,122.0 L586.7,125.0 L587.0,128.0 L587.6,131.0 L588.2,134.0 L588.8,137.0 L589.3,140.0 L589.4,143.0 L589.2,146.0 L588.8,149.0 L588.1,152.0 L587.5,155.0 L586.9,158.0 L586.6,161.0 L586.6,164.0 L587.0,167.0 L587.5,170.0" fill="none" stroke="#5a606e" stroke-width="1.1"/>
<path d="M596.3,74.0 L595.8,77.0 L595.6,80.0 L595.7,83.0 L596.1,86.0 L596.7,89.0 L597.4,92.0 L598.0,95.0 L598.3,98.0 L598.4,101.0 L598.1,104.0 L597.6,107.0 L597.0,110.0 L596.3,113.0 L595.8,116.0 L595.6,119.0 L595.7,122.0 L596.1,125.0 L596.7,128.0 L597.3,131.0 L597.9,134.0 L598.3,137.0 L598.4,140.0 L598.2,143.0 L597.7,146.0 L597.0,149.0 L596.4,152.0 L595.9,155.0 L595.6,158.0 L595.7,161.0 L596.0,164.0 L596.6,167.0 L597.3,170.0" fill="none" stroke="#5a606e" stroke-width="1.1"/>
<path d="M604.8,74.0 L604.6,77.0 L604.7,80.0 L605.2,83.0 L605.8,86.0 L606.5,89.0 L607.0,92.0 L607.3,95.0 L607.4,98.0 L607.1,101.0 L606.6,104.0 L605.9,107.0 L605.3,110.0 L604.8,113.0 L604.6,116.0 L604.7,119.0 L605.1,122.0 L605.7,125.0 L606.4,128.0 L607.0,131.0 L607.3,134.0 L607.4,137.0 L607.1,140.0 L606.6,143.0 L606.0,146.0 L605.3,149.0 L604.8,152.0 L604.6,155.0 L604.7,158.0 L605.1,161.0 L605.7,164.0 L606.3,167.0 L606.9,170.0" fill="none" stroke="#5a606e" stroke-width="1.1"/>
<path d="M613.6,74.0 L613.8,77.0 L614.2,80.0 L614.9,83.0 L615.5,86.0 L616.1,89.0 L616.4,92.0 L616.4,95.0 L616.0,98.0 L615.5,101.0 L614.8,104.0 L614.2,107.0 L613.8,110.0 L613.6,113.0 L613.8,116.0 L614.2,119.0 L614.8,122.0 L615.5,125.0 L616.0,128.0 L616.4,131.0 L616.4,134.0 L616.1,137.0 L615.5,140.0 L614.9,143.0 L614.2,146.0 L613.8,149.0 L613.6,152.0 L613.7,155.0 L614.2,158.0 L614.8,161.0 L615.4,164.0 L616.0,167.0 L616.3,170.0" fill="none" stroke="#5a606e" stroke-width="1.1"/>
<circle cx="435.3" cy="72.6" r="1.5" fill="#c01818"/>
<circle cx="445.0" cy="74.1" r="1.5" fill="#c01818"/>
<circle cx="454.4" cy="75.4" r="1.5" fill="#c01818"/>
<circle cx="463.3" cy="74.3" r="1.5" fill="#c01818"/>
<circle cx="471.9" cy="72.7" r="1.5" fill="#c01818"/>
<circle cx="480.3" cy="73.4" r="1.5" fill="#c01818"/>
<circle cx="488.5" cy="75.2" r="1.5" fill="#c01818"/>
<circle cx="496.9" cy="74.9" r="1.5" fill="#c01818"/>
<circle cx="505.6" cy="73.1" r="1.5" fill="#c01818"/>
<circle cx="514.7" cy="72.8" r="1.5" fill="#c01818"/>
<circle cx="524.2" cy="74.6" r="1.5" fill="#c01818"/>
<circle cx="533.9" cy="75.3" r="1.5" fill="#c01818"/>
<circle cx="543.6" cy="73.7" r="1.5" fill="#c01818"/>
<circle cx="553.2" cy="72.6" r="1.5" fill="#c01818"/>
<circle cx="562.4" cy="73.9" r="1.5" fill="#c01818"/>
<circle cx="571.2" cy="75.4" r="1.5" fill="#c01818"/>
<circle cx="579.7" cy="74.4" r="1.5" fill="#c01818"/>
<circle cx="588.0" cy="72.7" r="1.5" fill="#c01818"/>
<circle cx="596.3" cy="73.2" r="1.5" fill="#c01818"/>
<circle cx="604.8" cy="75.1" r="1.5" fill="#c01818"/>
<circle cx="613.6" cy="75.0" r="1.5" fill="#c01818"/>
<circle cx="436.4" cy="81.6" r="1.5" fill="#c01818"/>
<circle cx="445.2" cy="83.4" r="1.5" fill="#c01818"/>
<circle cx="453.6" cy="83.9" r="1.5" fill="#c01818"/>
<circle cx="461.9" cy="82.1" r="1.5" fill="#c01818"/>
<circle cx="470.2" cy="81.2" r="1.5" fill="#c01818"/>
<circle cx="478.7" cy="82.7" r="1.5" fill="#c01818"/>
<circle cx="487.6" cy="84.0" r="1.5" fill="#c01818"/>
<circle cx="496.9" cy="82.9" r="1.5" fill="#c01818"/>
<circle cx="506.5" cy="81.3" r="1.5" fill="#c01818"/>
<circle cx="516.3" cy="82.0" r="1.5" fill="#c01818"/>
<circle cx="525.9" cy="83.8" r="1.5" fill="#c01818"/>
<circle cx="535.3" cy="83.5" r="1.5" fill="#c01818"/>
<circle cx="544.4" cy="81.7" r="1.5" fill="#c01818"/>
<circle cx="553.0" cy="81.4" r="1.5" fill="#c01818"/>
<circle cx="561.3" cy="83.2" r="1.5" fill="#c01818"/>
<circle cx="569.6" cy="83.9" r="1.5" fill="#c01818"/>
<circle cx="578.0" cy="82.3" r="1.5" fill="#c01818"/>
<circle cx="586.6" cy="81.2" r="1.5" fill="#c01818"/>
<circle cx="595.7" cy="82.5" r="1.5" fill="#c01818"/>
<circle cx="605.1" cy="84.0" r="1.5" fill="#c01818"/>
<circle cx="614.8" cy="83.0" r="1.5" fill="#c01818"/>
<circle cx="435.2" cy="90.8" r="1.5" fill="#c01818"/>
<circle cx="443.5" cy="92.5" r="1.5" fill="#c01818"/>
<circle cx="451.9" cy="92.0" r="1.5" fill="#c01818"/>
<circle cx="460.6" cy="90.1" r="1.5" fill="#c01818"/>
<circle cx="469.7" cy="90.1" r="1.5" fill="#c01818"/>
<circle cx="479.2" cy="92.0" r="1.5" fill="#c01818"/>
<circle cx="488.9" cy="92.5" r="1.5" fill="#c01818"/>
<circle cx="498.7" cy="90.7" r="1.5" fill="#c01818"/>
<circle cx="508.2" cy="89.8" r="1.5" fill="#c01818"/>
<circle cx="517.4" cy="91.3" r="1.5" fill="#c01818"/>
<circle cx="526.2" cy="92.6" r="1.5" fill="#c01818"/>
<circle cx="534.7" cy="91.5" r="1.5" fill="#c01818"/>
<circle cx="542.9" cy="89.9" r="1.5" fill="#c01818"/>
<circle cx="551.2" cy="90.6" r="1.5" fill="#c01818"/>
<circle cx="559.7" cy="92.4" r="1.5" fill="#c01818"/>
<circle cx="568.6" cy="92.1" r="1.5" fill="#c01818"/>
<circle cx="577.9" cy="90.3" r="1.5" fill="#c01818"/>
<circle cx="587.5" cy="90.0" r="1.5" fill="#c01818"/>
<circle cx="597.2" cy="91.8" r="1.5" fill="#c01818"/>
<circle cx="606.9" cy="92.5" r="1.5" fill="#c01818"/>
<circle cx="616.3" cy="90.9" r="1.5" fill="#c01818"/>
<circle cx="433.7" cy="100.1" r="1.5" fill="#c01818"/>
<circle cx="442.6" cy="101.2" r="1.5" fill="#c01818"/>
<circle cx="452.0" cy="99.9" r="1.5" fill="#c01818"/>
<circle cx="461.6" cy="98.4" r="1.5" fill="#c01818"/>
<circle cx="471.3" cy="99.3" r="1.5" fill="#c01818"/>
<circle cx="481.0" cy="101.1" r="1.5" fill="#c01818"/>
<circle cx="490.4" cy="100.6" r="1.5" fill="#c01818"/>
<circle cx="499.3" cy="98.8" r="1.5" fill="#c01818"/>
<circle cx="507.9" cy="98.7" r="1.5" fill="#c01818"/>
<circle cx="516.3" cy="100.6" r="1.5" fill="#c01818"/>
<circle cx="524.5" cy="101.1" r="1.5" fill="#c01818"/>
<circle cx="532.9" cy="99.4" r="1.5" fill="#c01818"/>
<circle cx="541.6" cy="98.4" r="1.5" fill="#c01818"/>
<circle cx="550.7" cy="99.9" r="1.5" fill="#c01818"/>
<circle cx="560.2" cy="101.2" r="1.5" fill="#c01818"/>
<circle cx="569.9" cy="100.1" r="1.5" fill="#c01818"/>
<circle cx="579.6" cy="98.5" r="1.5" fill="#c01818"/>
<circle cx="589.2" cy="99.2" r="1.5" fill="#c01818"/>
<circle cx="598.4" cy="101.0" r="1.5" fill="#c01818"/>
<circle cx="607.2" cy="100.7" r="1.5" fill="#c01818"/>
<circle cx="615.7" cy="98.9" r="1.5" fill="#c01818"/>
<circle cx="434.3" cy="109.3" r="1.5" fill="#c01818"/>
<circle cx="444.0" cy="109.6" r="1.5" fill="#c01818"/>
<circle cx="453.7" cy="107.8" r="1.5" fill="#c01818"/>
<circle cx="463.2" cy="107.1" r="1.5" fill="#c01818"/>
<circle cx="472.4" cy="108.7" r="1.5" fill="#c01818"/>
<circle cx="481.2" cy="109.8" r="1.5" fill="#c01818"/>
<circle cx="489.6" cy="108.5" r="1.5" fill="#c01818"/>
<circle cx="497.9" cy="107.0" r="1.5" fill="#c01818"/>
<circle cx="506.2" cy="107.9" r="1.5" fill="#c01818"/>
<circle cx="514.7" cy="109.6" r="1.5" fill="#c01818"/>
<circle cx="523.6" cy="109.2" r="1.5" fill="#c01818"/>
<circle cx="532.9" cy="107.4" r="1.5" fill="#c01818"/>
<circle cx="542.5" cy="107.3" r="1.5" fill="#c01818"/>
<circle cx="552.3" cy="109.2" r="1.5" fill="#c01818"/>
<circle cx="561.9" cy="109.7" r="1.5" fill="#c01818"/>
<circle cx="571.3" cy="108.0" r="1.5" fill="#c01818"/>
<circle cx="580.4" cy="107.0" r="1.5" fill="#c01818"/>
<circle cx="589.0" cy="108.5" r="1.5" fill="#c01818"/>
<circle cx="597.3" cy="109.8" r="1.5" fill="#c01818"/>
<circle cx="605.6" cy="108.7" r="1.5" fill="#c01818"/>
<circle cx="614.0" cy="107.1" r="1.5" fill="#c01818"/>
<circle cx="436.0" cy="118.3" r="1.5" fill="#c01818"/>
<circle cx="445.4" cy="117.6" r="1.5" fill="#c01818"/>
<circle cx="454.3" cy="115.9" r="1.5" fill="#c01818"/>
<circle cx="462.9" cy="116.1" r="1.5" fill="#c01818"/>
<circle cx="471.2" cy="117.9" r="1.5" fill="#c01818"/>
<circle cx="479.5" cy="118.2" r="1.5" fill="#c01818"/>
<circle cx="487.9" cy="116.4" r="1.5" fill="#c01818"/>
<circle cx="496.6" cy="115.7" r="1.5" fill="#c01818"/>
<circle cx="505.7" cy="117.2" r="1.5" fill="#c01818"/>
<circle cx="515.2" cy="118.4" r="1.5" fill="#c01818"/>
<circle cx="524.9" cy="117.1" r="1.5" fill="#c01818"/>
<circle cx="534.7" cy="115.6" r="1.5" fill="#c01818"/>
<circle cx="544.2" cy="116.5" r="1.5" fill="#c01818"/>
<circle cx="553.4" cy="118.2" r="1.5" fill="#c01818"/>
<circle cx="562.2" cy="117.8" r="1.5" fill="#c01818"/>
<circle cx="570.7" cy="116.0" r="1.5" fill="#c01818"/>
<circle cx="578.9" cy="115.9" r="1.5" fill="#c01818"/>
<circle cx="587.2" cy="117.8" r="1.5" fill="#c01818"/>
<circle cx="595.7" cy="118.3" r="1.5" fill="#c01818"/>
<circle cx="604.6" cy="116.6" r="1.5" fill="#c01818"/>
<circle cx="613.9" cy="115.6" r="1.5" fill="#c01818"/>
<circle cx="436.1" cy="127.0" r="1.5" fill="#c01818"/>
<circle cx="444.5" cy="125.5" r="1.5" fill="#c01818"/>
<circle cx="452.8" cy="124.2" r="1.5" fill="#c01818"/>
<circle cx="461.1" cy="125.3" r="1.5" fill="#c01818"/>
<circle cx="469.7" cy="126.9" r="1.5" fill="#c01818"/>
<circle cx="478.6" cy="126.3" r="1.5" fill="#c01818"/>
<circle cx="488.0" cy="124.5" r="1.5" fill="#c01818"/>
<circle cx="497.6" cy="124.6" r="1.5" fill="#c01818"/>
<circle cx="507.3" cy="126.5" r="1.5" fill="#c01818"/>
<circle cx="517.0" cy="126.8" r="1.5" fill="#c01818"/>
<circle cx="526.4" cy="125.0" r="1.5" fill="#c01818"/>
<circle cx="535.3" cy="124.3" r="1.5" fill="#c01818"/>
<circle cx="543.9" cy="125.8" r="1.5" fill="#c01818"/>
<circle cx="552.3" cy="127.0" r="1.5" fill="#c01818"/>
<circle cx="560.5" cy="125.7" r="1.5" fill="#c01818"/>
<circle cx="568.9" cy="124.2" r="1.5" fill="#c01818"/>
<circle cx="577.6" cy="125.1" r="1.5" fill="#c01818"/>
<circle cx="586.7" cy="126.8" r="1.5" fill="#c01818"/>
<circle cx="596.2" cy="126.4" r="1.5" fill="#c01818"/>
<circle cx="605.9" cy="124.6" r="1.5" fill="#c01818"/>
<circle cx="615.6" cy="124.5" r="1.5" fill="#c01818"/>
<circle cx="434.4" cy="135.3" r="1.5" fill="#c01818"/>
<circle cx="442.8" cy="133.5" r="1.5" fill="#c01818"/>
<circle cx="451.6" cy="132.9" r="1.5" fill="#c01818"/>
<circle cx="460.8" cy="134.6" r="1.5" fill="#c01818"/>
<circle cx="470.3" cy="135.6" r="1.5" fill="#c01818"/>
<circle cx="480.0" cy="134.2" r="1.5" fill="#c01818"/>
<circle cx="489.7" cy="132.8" r="1.5" fill="#c01818"/>
<circle cx="499.2" cy="133.9" r="1.5" fill="#c01818"/>
<circle cx="508.4" cy="135.5" r="1.5" fill="#c01818"/>
<circle cx="517.2" cy="134.9" r="1.5" fill="#c01818"/>
<circle cx="525.6" cy="133.1" r="1.5" fill="#c01818"/>
<circle cx="533.9" cy="133.2" r="1.5" fill="#c01818"/>
<circle cx="542.2" cy="135.1" r="1.5" fill="#c01818"/>
<circle cx="550.7" cy="135.4" r="1.5" fill="#c01818"/>
<circle cx="559.6" cy="133.6" r="1.5" fill="#c01818"/>
<circle cx="568.9" cy="132.9" r="1.5" fill="#c01818"/>
<circle cx="578.5" cy="134.4" r="1.5" fill="#c01818"/>
<circle cx="588.3" cy="135.6" r="1.5" fill="#c01818"/>
<circle cx="597.9" cy="134.3" r="1.5" fill="#c01818"/>
<circle cx="607.3" cy="132.8" r="1.5" fill="#c01818"/>
<circle cx="616.4" cy="133.7" r="1.5" fill="#c01818"/>
<circle cx="433.6" cy="143.3" r="1.5" fill="#c01818"/>
<circle cx="443.0" cy="141.6" r="1.5" fill="#c01818"/>
<circle cx="452.7" cy="142.0" r="1.5" fill="#c01818"/>
<circle cx="462.4" cy="143.8" r="1.5" fill="#c01818"/>
<circle cx="472.0" cy="143.9" r="1.5" fill="#c01818"/>
<circle cx="481.4" cy="142.1" r="1.5" fill="#c01818"/>
<circle cx="490.3" cy="141.5" r="1.5" fill="#c01818"/>
<circle cx="498.9" cy="143.2" r="1.5" fill="#c01818"/>
<circle cx="507.2" cy="144.2" r="1.5" fill="#c01818"/>
<circle cx="515.5" cy="142.8" r="1.5" fill="#c01818"/>
<circle cx="523.9" cy="141.4" r="1.5" fill="#c01818"/>
<circle cx="532.6" cy="142.5" r="1.5" fill="#c01818"/>
<circle cx="541.7" cy="144.1" r="1.5" fill="#c01818"/>
<circle cx="551.2" cy="143.5" r="1.5" fill="#c01818"/>
<circle cx="560.9" cy="141.7" r="1.5" fill="#c01818"/>
<circle cx="570.7" cy="141.8" r="1.5" fill="#c01818"/>
<circle cx="580.2" cy="143.7" r="1.5" fill="#c01818"/>
<circle cx="589.4" cy="144.0" r="1.5" fill="#c01818"/>
<circle cx="598.2" cy="142.2" r="1.5" fill="#c01818"/>
<circle cx="606.6" cy="141.5" r="1.5" fill="#c01818"/>
<circle cx="614.9" cy="143.0" r="1.5" fill="#c01818"/>
<circle cx="435.1" cy="151.2" r="1.5" fill="#c01818"/>
<circle cx="444.8" cy="150.0" r="1.5" fill="#c01818"/>
<circle cx="454.3" cy="151.2" r="1.5" fill="#c01818"/>
<circle cx="463.4" cy="152.8" r="1.5" fill="#c01818"/>
<circle cx="472.1" cy="151.9" r="1.5" fill="#c01818"/>
<circle cx="480.5" cy="150.2" r="1.5" fill="#c01818"/>
<circle cx="488.8" cy="150.6" r="1.5" fill="#c01818"/>
<circle cx="497.1" cy="152.4" r="1.5" fill="#c01818"/>
<circle cx="505.7" cy="152.5" r="1.5" fill="#c01818"/>
<circle cx="514.6" cy="150.7" r="1.5" fill="#c01818"/>
<circle cx="524.0" cy="150.1" r="1.5" fill="#c01818"/>
<circle cx="533.6" cy="151.8" r="1.5" fill="#c01818"/>
<circle cx="543.4" cy="152.8" r="1.5" fill="#c01818"/>
<circle cx="553.0" cy="151.4" r="1.5" fill="#c01818"/>
<circle cx="562.4" cy="150.0" r="1.5" fill="#c01818"/>
<circle cx="571.3" cy="151.1" r="1.5" fill="#c01818"/>
<circle cx="579.9" cy="152.7" r="1.5" fill="#c01818"/>
<circle cx="588.3" cy="152.1" r="1.5" fill="#c01818"/>
<circle cx="596.5" cy="150.3" r="1.5" fill="#c01818"/>
<circle cx="604.9" cy="150.4" r="1.5" fill="#c01818"/>
<circle cx="613.6" cy="152.3" r="1.5" fill="#c01818"/>
<circle cx="436.4" cy="159.1" r="1.5" fill="#c01818"/>
<circle cx="445.3" cy="158.8" r="1.5" fill="#c01818"/>
<circle cx="453.8" cy="160.5" r="1.5" fill="#c01818"/>
<circle cx="462.1" cy="161.4" r="1.5" fill="#c01818"/>
<circle cx="470.4" cy="159.8" r="1.5" fill="#c01818"/>
<circle cx="478.8" cy="158.6" r="1.5" fill="#c01818"/>
<circle cx="487.6" cy="159.8" r="1.5" fill="#c01818"/>
<circle cx="496.8" cy="161.4" r="1.5" fill="#c01818"/>
<circle cx="506.3" cy="160.5" r="1.5" fill="#c01818"/>
<circle cx="516.0" cy="158.8" r="1.5" fill="#c01818"/>
<circle cx="525.7" cy="159.2" r="1.5" fill="#c01818"/>
<circle cx="535.2" cy="161.0" r="1.5" fill="#c01818"/>
<circle cx="544.4" cy="161.1" r="1.5" fill="#c01818"/>
<circle cx="553.2" cy="159.3" r="1.5" fill="#c01818"/>
<circle cx="561.6" cy="158.7" r="1.5" fill="#c01818"/>
<circle cx="569.8" cy="160.4" r="1.5" fill="#c01818"/>
<circle cx="578.2" cy="161.4" r="1.5" fill="#c01818"/>
<circle cx="586.7" cy="160.0" r="1.5" fill="#c01818"/>
<circle cx="595.6" cy="158.6" r="1.5" fill="#c01818"/>
<circle cx="604.9" cy="159.6" r="1.5" fill="#c01818"/>
<circle cx="614.5" cy="161.3" r="1.5" fill="#c01818"/>
<circle cx="435.5" cy="167.3" r="1.5" fill="#c01818"/>
<circle cx="443.7" cy="167.9" r="1.5" fill="#c01818"/>
<circle cx="452.0" cy="169.7" r="1.5" fill="#c01818"/>
<circle cx="460.7" cy="169.6" r="1.5" fill="#c01818"/>
<circle cx="469.6" cy="167.7" r="1.5" fill="#c01818"/>
<circle cx="479.0" cy="167.4" r="1.5" fill="#c01818"/>
<circle cx="488.7" cy="169.1" r="1.5" fill="#c01818"/>
<circle cx="498.4" cy="170.0" r="1.5" fill="#c01818"/>
<circle cx="508.0" cy="168.4" r="1.5" fill="#c01818"/>
<circle cx="517.4" cy="167.2" r="1.5" fill="#c01818"/>
<circle cx="526.3" cy="168.4" r="1.5" fill="#c01818"/>
<circle cx="534.9" cy="170.0" r="1.5" fill="#c01818"/>
<circle cx="543.2" cy="169.1" r="1.5" fill="#c01818"/>
<circle cx="551.4" cy="167.4" r="1.5" fill="#c01818"/>
<circle cx="559.9" cy="167.7" r="1.5" fill="#c01818"/>
<circle cx="568.6" cy="169.6" r="1.5" fill="#c01818"/>
<circle cx="577.7" cy="169.7" r="1.5" fill="#c01818"/>
<circle cx="587.2" cy="167.9" r="1.5" fill="#c01818"/>
<circle cx="596.9" cy="167.3" r="1.5" fill="#c01818"/>
<circle cx="606.7" cy="169.0" r="1.5" fill="#c01818"/>
<circle cx="616.2" cy="170.0" r="1.5" fill="#c01818"/>
<path d="M470.0,10 L485.0,10 C481.0,18 480.0,26 480.0,48 C482.5,68 513.5,82 512.0,106 C510.5,151 444.5,151 443.0,106 C441.5,82 472.5,68 475.0,48 C475.0,26 474.0,18 470.0,10 Z" fill="#e3ebd7" stroke="#d6dec8" stroke-width="0.8"/>
<path d="M477.5,50 L477.5,36" stroke="#555" stroke-width="0.8" stroke-dasharray="1,0.8"/><polygon points="475.9,36 479.1,36 477.5,32" fill="#333"/>
<g transform="translate(481.5,76) rotate(-25) scale(1.25)"><ellipse cx="0" cy="0" rx="6" ry="3.5" fill="#8fd6f6" opacity="0.75" filter="url(#blur05)"/><path d="M-5,0 L5,0 M-3,0 L-4,-2.5 M-3,0 L-2,2.5 M0,0 L-1,-2.5 M0,0 L1,2.5 M3,0 L2,-2.5 M3,0 L4,2.5" stroke="#2f7a5a" stroke-width="0.8"/></g>
<g transform="translate(463.5,86) rotate(-25) scale(1.25)"><ellipse cx="0" cy="0" rx="6" ry="3.5" fill="#8fd6f6" opacity="0.75" filter="url(#blur05)"/><path d="M-5,0 L5,0 M-3,0 L-4,-2.5 M-3,0 L-2,2.5 M0,0 L-1,-2.5 M0,0 L1,2.5 M3,0 L2,-2.5 M3,0 L4,2.5" stroke="#2f7a5a" stroke-width="0.8"/></g>
<g transform="translate(457.5,102) rotate(-25) scale(1.25)"><ellipse cx="0" cy="0" rx="6" ry="3.5" fill="#8fd6f6" opacity="0.75" filter="url(#blur05)"/><path d="M-5,0 L5,0 M-3,0 L-4,-2.5 M-3,0 L-2,2.5 M0,0 L-1,-2.5 M0,0 L1,2.5 M3,0 L2,-2.5 M3,0 L4,2.5" stroke="#2f7a5a" stroke-width="0.8"/></g>
<g transform="translate(479.5,103) rotate(-25) scale(1.25)"><ellipse cx="0" cy="0" rx="6" ry="3.5" fill="#8fd6f6" opacity="0.75" filter="url(#blur05)"/><path d="M-5,0 L5,0 M-3,0 L-4,-2.5 M-3,0 L-2,2.5 M0,0 L-1,-2.5 M0,0 L1,2.5 M3,0 L2,-2.5 M3,0 L4,2.5" stroke="#2f7a5a" stroke-width="0.8"/></g>
<g transform="translate(463.5,118) rotate(-25) scale(1.25)"><ellipse cx="0" cy="0" rx="6" ry="3.5" fill="#8fd6f6" opacity="0.75" filter="url(#blur05)"/><path d="M-5,0 L5,0 M-3,0 L-4,-2.5 M-3,0 L-2,2.5 M0,0 L-1,-2.5 M0,0 L1,2.5 M3,0 L2,-2.5 M3,0 L4,2.5" stroke="#2f7a5a" stroke-width="0.8"/></g>
<g transform="translate(494.5,117) rotate(-25) scale(1.25)"><ellipse cx="0" cy="0" rx="6" ry="3.5" fill="#8fd6f6" opacity="0.75" filter="url(#blur05)"/><path d="M-5,0 L5,0 M-3,0 L-4,-2.5 M-3,0 L-2,2.5 M0,0 L-1,-2.5 M0,0 L1,2.5 M3,0 L2,-2.5 M3,0 L4,2.5" stroke="#2f7a5a" stroke-width="0.8"/></g>
<g transform="translate(478.5,130) rotate(-25) scale(1.25)"><ellipse cx="0" cy="0" rx="6" ry="3.5" fill="#8fd6f6" opacity="0.75" filter="url(#blur05)"/><path d="M-5,0 L5,0 M-3,0 L-4,-2.5 M-3,0 L-2,2.5 M0,0 L-1,-2.5 M0,0 L1,2.5 M3,0 L2,-2.5 M3,0 L4,2.5" stroke="#2f7a5a" stroke-width="0.8"/></g>
<g transform="translate(498.5,92) rotate(-25) scale(1.25)"><ellipse cx="0" cy="0" rx="6" ry="3.5" fill="#8fd6f6" opacity="0.75" filter="url(#blur05)"/><path d="M-5,0 L5,0 M-3,0 L-4,-2.5 M-3,0 L-2,2.5 M0,0 L-1,-2.5 M0,0 L1,2.5 M3,0 L2,-2.5 M3,0 L4,2.5" stroke="#2f7a5a" stroke-width="0.8"/></g>
<g transform="translate(465.5,70) scale(1.2)"><circle cx="0" cy="0" r="2.3" fill="#32a8dc"/><circle cx="-2.4" cy="1.8" r="1.2" fill="#6a625c"/><circle cx="2.2" cy="2" r="1.0" fill="#6a625c"/></g>
<g transform="translate(486.5,83) scale(1.2)"><circle cx="0" cy="0" r="2.3" fill="#32a8dc"/><circle cx="-2.4" cy="1.8" r="1.2" fill="#6a625c"/><circle cx="2.2" cy="2" r="1.0" fill="#6a625c"/></g>
<g transform="translate(468.5,95) scale(1.2)"><circle cx="0" cy="0" r="2.3" fill="#32a8dc"/><circle cx="-2.4" cy="1.8" r="1.2" fill="#6a625c"/><circle cx="2.2" cy="2" r="1.0" fill="#6a625c"/></g>
<g transform="translate(500.5,104) scale(1.2)"><circle cx="0" cy="0" r="2.3" fill="#32a8dc"/><circle cx="-2.4" cy="1.8" r="1.2" fill="#6a625c"/><circle cx="2.2" cy="2" r="1.0" fill="#6a625c"/></g>
<g transform="translate(485.5,115) scale(1.2)"><circle cx="0" cy="0" r="2.3" fill="#32a8dc"/><circle cx="-2.4" cy="1.8" r="1.2" fill="#6a625c"/><circle cx="2.2" cy="2" r="1.0" fill="#6a625c"/></g>
<path d="M565.5,10 L580.5,10 C576.5,18 575.5,26 575.5,48 C578,68 609,82 607.5,106 C606,151 540,151 538.5,106 C537,82 568,68 570.5,48 C570.5,26 569.5,18 565.5,10 Z" fill="#e3ebd7" stroke="#d6dec8" stroke-width="0.8"/>
<path d="M573,50 L573,36" stroke="#555" stroke-width="0.8" stroke-dasharray="1,0.8"/><polygon points="571.4,36 574.6,36 573,32" fill="#333"/>
<g transform="translate(577,76) rotate(-25) scale(1.25)"><ellipse cx="0" cy="0" rx="6" ry="3.5" fill="#8fd6f6" opacity="0.75" filter="url(#blur05)"/><path d="M-5,0 L5,0 M-3,0 L-4,-2.5 M-3,0 L-2,2.5 M0,0 L-1,-2.5 M0,0 L1,2.5 M3,0 L2,-2.5 M3,0 L4,2.5" stroke="#2f7a5a" stroke-width="0.8"/></g>
<g transform="translate(559,86) rotate(-25) scale(1.25)"><ellipse cx="0" cy="0" rx="6" ry="3.5" fill="#8fd6f6" opacity="0.75" filter="url(#blur05)"/><path d="M-5,0 L5,0 M-3,0 L-4,-2.5 M-3,0 L-2,2.5 M0,0 L-1,-2.5 M0,0 L1,2.5 M3,0 L2,-2.5 M3,0 L4,2.5" stroke="#2f7a5a" stroke-width="0.8"/></g>
<g transform="translate(553,102) rotate(-25) scale(1.25)"><ellipse cx="0" cy="0" rx="6" ry="3.5" fill="#8fd6f6" opacity="0.75" filter="url(#blur05)"/><path d="M-5,0 L5,0 M-3,0 L-4,-2.5 M-3,0 L-2,2.5 M0,0 L-1,-2.5 M0,0 L1,2.5 M3,0 L2,-2.5 M3,0 L4,2.5" stroke="#2f7a5a" stroke-width="0.8"/></g>
<g transform="translate(575,103) rotate(-25) scale(1.25)"><ellipse cx="0" cy="0" rx="6" ry="3.5" fill="#8fd6f6" opacity="0.75" filter="url(#blur05)"/><path d="M-5,0 L5,0 M-3,0 L-4,-2.5 M-3,0 L-2,2.5 M0,0 L-1,-2.5 M0,0 L1,2.5 M3,0 L2,-2.5 M3,0 L4,2.5" stroke="#2f7a5a" stroke-width="0.8"/></g>
<g transform="translate(559,118) rotate(-25) scale(1.25)"><ellipse cx="0" cy="0" rx="6" ry="3.5" fill="#8fd6f6" opacity="0.75" filter="url(#blur05)"/><path d="M-5,0 L5,0 M-3,0 L-4,-2.5 M-3,0 L-2,2.5 M0,0 L-1,-2.5 M0,0 L1,2.5 M3,0 L2,-2.5 M3,0 L4,2.5" stroke="#2f7a5a" stroke-width="0.8"/></g>
<g transform="translate(590,117) rotate(-25) scale(1.25)"><ellipse cx="0" cy="0" rx="6" ry="3.5" fill="#8fd6f6" opacity="0.75" filter="url(#blur05)"/><path d="M-5,0 L5,0 M-3,0 L-4,-2.5 M-3,0 L-2,2.5 M0,0 L-1,-2.5 M0,0 L1,2.5 M3,0 L2,-2.5 M3,0 L4,2.5" stroke="#2f7a5a" stroke-width="0.8"/></g>
<g transform="translate(574,130) rotate(-25) scale(1.25)"><ellipse cx="0" cy="0" rx="6" ry="3.5" fill="#8fd6f6" opacity="0.75" filter="url(#blur05)"/><path d="M-5,0 L5,0 M-3,0 L-4,-2.5 M-3,0 L-2,2.5 M0,0 L-1,-2.5 M0,0 L1,2.5 M3,0 L2,-2.5 M3,0 L4,2.5" stroke="#2f7a5a" stroke-width="0.8"/></g>
<g transform="translate(594,92) rotate(-25) scale(1.25)"><ellipse cx="0" cy="0" rx="6" ry="3.5" fill="#8fd6f6" opacity="0.75" filter="url(#blur05)"/><path d="M-5,0 L5,0 M-3,0 L-4,-2.5 M-3,0 L-2,2.5 M0,0 L-1,-2.5 M0,0 L1,2.5 M3,0 L2,-2.5 M3,0 L4,2.5" stroke="#2f7a5a" stroke-width="0.8"/></g>
<g transform="translate(561,70) scale(1.2)"><circle cx="0" cy="0" r="2.3" fill="#32a8dc"/><circle cx="-2.4" cy="1.8" r="1.2" fill="#6a625c"/><circle cx="2.2" cy="2" r="1.0" fill="#6a625c"/></g>
<g transform="translate(582,83) scale(1.2)"><circle cx="0" cy="0" r="2.3" fill="#32a8dc"/><circle cx="-2.4" cy="1.8" r="1.2" fill="#6a625c"/><circle cx="2.2" cy="2" r="1.0" fill="#6a625c"/></g>
<g transform="translate(564,95) scale(1.2)"><circle cx="0" cy="0" r="2.3" fill="#32a8dc"/><circle cx="-2.4" cy="1.8" r="1.2" fill="#6a625c"/><circle cx="2.2" cy="2" r="1.0" fill="#6a625c"/></g>
<g transform="translate(596,104) scale(1.2)"><circle cx="0" cy="0" r="2.3" fill="#32a8dc"/><circle cx="-2.4" cy="1.8" r="1.2" fill="#6a625c"/><circle cx="2.2" cy="2" r="1.0" fill="#6a625c"/></g>
<g transform="translate(581,115) scale(1.2)"><circle cx="0" cy="0" r="2.3" fill="#32a8dc"/><circle cx="-2.4" cy="1.8" r="1.2" fill="#6a625c"/><circle cx="2.2" cy="2" r="1.0" fill="#6a625c"/></g>
</g>
<path d="M436.0,19 L439.0,8" stroke="#3a60b0" stroke-width="0.7"/>
<g transform="translate(440.0,6) rotate(-25)"><path d="M-5,0 L5,0 M-3,0 L-4,-2.5 M-3,0 L-2,2.5 M0,0 L-1,-2.5 M0,0 L1,2.5 M3,0 L2,-2.5 M3,0 L4,2.5" stroke="#2f7a5a" stroke-width="0.9"/></g>
<path d="M447.6,19 L450.6,8" stroke="#3a60b0" stroke-width="0.7"/>
<g transform="translate(451.6,7)"><circle r="2.3" fill="#32a8dc"/><circle cx="-2.4" cy="2" r="1.2" fill="#7a6a5c"/><circle cx="2.4" cy="2" r="1.2" fill="#7a6a5c"/></g>
<path d="M459.2,19 L462.2,8" stroke="#3a60b0" stroke-width="0.7"/>
<g transform="translate(463.2,6) rotate(-25)"><path d="M-5,0 L5,0 M-3,0 L-4,-2.5 M-3,0 L-2,2.5 M0,0 L-1,-2.5 M0,0 L1,2.5 M3,0 L2,-2.5 M3,0 L4,2.5" stroke="#2f7a5a" stroke-width="0.9"/></g>
<path d="M470.8,19 L473.8,8" stroke="#3a60b0" stroke-width="0.7"/>
<g transform="translate(474.8,7)"><circle r="2.3" fill="#32a8dc"/><circle cx="-2.4" cy="2" r="1.2" fill="#7a6a5c"/><circle cx="2.4" cy="2" r="1.2" fill="#7a6a5c"/></g>
<path d="M482.4,19 L485.4,8" stroke="#3a60b0" stroke-width="0.7"/>
<g transform="translate(486.4,6) rotate(-25)"><path d="M-5,0 L5,0 M-3,0 L-4,-2.5 M-3,0 L-2,2.5 M0,0 L-1,-2.5 M0,0 L1,2.5 M3,0 L2,-2.5 M3,0 L4,2.5" stroke="#2f7a5a" stroke-width="0.9"/></g>
<path d="M494.0,19 L497.0,8" stroke="#3a60b0" stroke-width="0.7"/>
<g transform="translate(498.0,7)"><circle r="2.3" fill="#32a8dc"/><circle cx="-2.4" cy="2" r="1.2" fill="#7a6a5c"/><circle cx="2.4" cy="2" r="1.2" fill="#7a6a5c"/></g>
<path d="M505.6,19 L508.6,8" stroke="#3a60b0" stroke-width="0.7"/>
<g transform="translate(509.6,6) rotate(-25)"><path d="M-5,0 L5,0 M-3,0 L-4,-2.5 M-3,0 L-2,2.5 M0,0 L-1,-2.5 M0,0 L1,2.5 M3,0 L2,-2.5 M3,0 L4,2.5" stroke="#2f7a5a" stroke-width="0.9"/></g>
<path d="M517.2,19 L520.2,8" stroke="#3a60b0" stroke-width="0.7"/>
<g transform="translate(521.2,7)"><circle r="2.3" fill="#32a8dc"/><circle cx="-2.4" cy="2" r="1.2" fill="#7a6a5c"/><circle cx="2.4" cy="2" r="1.2" fill="#7a6a5c"/></g>
<path d="M528.8,19 L531.8,8" stroke="#3a60b0" stroke-width="0.7"/>
<g transform="translate(532.8,6) rotate(-25)"><path d="M-5,0 L5,0 M-3,0 L-4,-2.5 M-3,0 L-2,2.5 M0,0 L-1,-2.5 M0,0 L1,2.5 M3,0 L2,-2.5 M3,0 L4,2.5" stroke="#2f7a5a" stroke-width="0.9"/></g>
<path d="M540.4,19 L543.4,8" stroke="#3a60b0" stroke-width="0.7"/>
<g transform="translate(544.4,7)"><circle r="2.3" fill="#32a8dc"/><circle cx="-2.4" cy="2" r="1.2" fill="#7a6a5c"/><circle cx="2.4" cy="2" r="1.2" fill="#7a6a5c"/></g>
<path d="M552.0,19 L555.0,8" stroke="#3a60b0" stroke-width="0.7"/>
<g transform="translate(556.0,6) rotate(-25)"><path d="M-5,0 L5,0 M-3,0 L-4,-2.5 M-3,0 L-2,2.5 M0,0 L-1,-2.5 M0,0 L1,2.5 M3,0 L2,-2.5 M3,0 L4,2.5" stroke="#2f7a5a" stroke-width="0.9"/></g>
<path d="M563.6,19 L566.6,8" stroke="#3a60b0" stroke-width="0.7"/>
<g transform="translate(567.6,7)"><circle r="2.3" fill="#32a8dc"/><circle cx="-2.4" cy="2" r="1.2" fill="#7a6a5c"/><circle cx="2.4" cy="2" r="1.2" fill="#7a6a5c"/></g>
<path d="M575.2,19 L578.2,8" stroke="#3a60b0" stroke-width="0.7"/>
<g transform="translate(579.2,6) rotate(-25)"><path d="M-5,0 L5,0 M-3,0 L-4,-2.5 M-3,0 L-2,2.5 M0,0 L-1,-2.5 M0,0 L1,2.5 M3,0 L2,-2.5 M3,0 L4,2.5" stroke="#2f7a5a" stroke-width="0.9"/></g>
<path d="M586.8,19 L589.8,8" stroke="#3a60b0" stroke-width="0.7"/>
<g transform="translate(590.8,7)"><circle r="2.3" fill="#32a8dc"/><circle cx="-2.4" cy="2" r="1.2" fill="#7a6a5c"/><circle cx="2.4" cy="2" r="1.2" fill="#7a6a5c"/></g>
<path d="M598.4,19 L601.4,8" stroke="#3a60b0" stroke-width="0.7"/>
<g transform="translate(602.4,6) rotate(-25)"><path d="M-5,0 L5,0 M-3,0 L-4,-2.5 M-3,0 L-2,2.5 M0,0 L-1,-2.5 M0,0 L1,2.5 M3,0 L2,-2.5 M3,0 L4,2.5" stroke="#2f7a5a" stroke-width="0.9"/></g>
<path d="M610.0,19 L613.0,8" stroke="#3a60b0" stroke-width="0.7"/>
<g transform="translate(614.0,7)"><circle r="2.3" fill="#32a8dc"/><circle cx="-2.4" cy="2" r="1.2" fill="#7a6a5c"/><circle cx="2.4" cy="2" r="1.2" fill="#7a6a5c"/></g>
</g>
<rect x="48.00" y="197.00" width="239.30" height="102.50" fill="none" stroke="#1a1a1a" stroke-width="1.3" />
<line x1="62.96" y1="299.50" x2="62.96" y2="302.50" stroke="#111" stroke-width="1.2" />
<text x="63.0" y="314.5" font-size="10" font-weight="bold" text-anchor="middle" fill="#111" stroke="#111" stroke-width="0.3" >4</text>
<line x1="92.87" y1="299.50" x2="92.87" y2="302.50" stroke="#111" stroke-width="1.2" />
<text x="92.9" y="314.5" font-size="10" font-weight="bold" text-anchor="middle" fill="#111" stroke="#111" stroke-width="0.3" >6</text>
<line x1="122.78" y1="299.50" x2="122.78" y2="302.50" stroke="#111" stroke-width="1.2" />
<text x="122.8" y="314.5" font-size="10" font-weight="bold" text-anchor="middle" fill="#111" stroke="#111" stroke-width="0.3" >8</text>
<line x1="152.69" y1="299.50" x2="152.69" y2="302.50" stroke="#111" stroke-width="1.2" />
<text x="152.7" y="314.5" font-size="10" font-weight="bold" text-anchor="middle" fill="#111" stroke="#111" stroke-width="0.3" >10</text>
<line x1="182.61" y1="299.50" x2="182.61" y2="302.50" stroke="#111" stroke-width="1.2" />
<text x="182.6" y="314.5" font-size="10" font-weight="bold" text-anchor="middle" fill="#111" stroke="#111" stroke-width="0.3" >20</text>
<line x1="212.52" y1="299.50" x2="212.52" y2="302.50" stroke="#111" stroke-width="1.2" />
<text x="212.5" y="314.5" font-size="10" font-weight="bold" text-anchor="middle" fill="#111" stroke="#111" stroke-width="0.3" >30</text>
<line x1="242.43" y1="299.50" x2="242.43" y2="302.50" stroke="#111" stroke-width="1.2" />
<text x="242.4" y="314.5" font-size="10" font-weight="bold" text-anchor="middle" fill="#111" stroke="#111" stroke-width="0.3" >40</text>
<line x1="272.34" y1="299.50" x2="272.34" y2="302.50" stroke="#111" stroke-width="1.2" />
<text x="272.3" y="314.5" font-size="10" font-weight="bold" text-anchor="middle" fill="#111" stroke="#111" stroke-width="0.3" >50</text>
<line x1="44.50" y1="197.00" x2="48.00" y2="197.00" stroke="#111" stroke-width="1.2" />
<text x="43.0" y="200.6" font-size="10" font-weight="bold" text-anchor="end" fill="#111" stroke="#111" stroke-width="0.3" >0.04</text>
<line x1="44.50" y1="248.25" x2="48.00" y2="248.25" stroke="#111" stroke-width="1.2" />
<text x="43.0" y="251.8" font-size="10" font-weight="bold" text-anchor="end" fill="#111" stroke="#111" stroke-width="0.3" >0.02</text>
<line x1="44.50" y1="299.50" x2="48.00" y2="299.50" stroke="#111" stroke-width="1.2" />
<text x="43.0" y="303.1" font-size="10" font-weight="bold" text-anchor="end" fill="#111" stroke="#111" stroke-width="0.3" >0.00</text>
<line x1="46.00" y1="222.60" x2="48.00" y2="222.60" stroke="#111" stroke-width="1.0" />
<line x1="46.00" y1="273.90" x2="48.00" y2="273.90" stroke="#111" stroke-width="1.0" />
<rect x="54.30" y="250.50" width="8.60" height="18.50" fill="none" stroke="#d82585" stroke-width="1.25" />
<line x1="54.30" y1="259.60" x2="62.90" y2="259.60" stroke="#d82585" stroke-width="1.25" />
<circle cx="58.60" cy="259.60" r="1.15" fill="#d82585" stroke="none" stroke-width="1" />
<circle cx="67.60" cy="250.50" r="2.25" fill="none" stroke="#d82585" stroke-width="1.35" />
<circle cx="67.60" cy="254.30" r="2.25" fill="none" stroke="#d82585" stroke-width="1.35" />
<circle cx="67.60" cy="265.70" r="2.25" fill="none" stroke="#d82585" stroke-width="1.35" />
<circle cx="67.60" cy="269.50" r="2.25" fill="none" stroke="#d82585" stroke-width="1.35" />
<line x1="88.60" y1="241.50" x2="88.60" y2="241.50" stroke="#e8262d" stroke-width="1.25" />
<line x1="86.40" y1="241.50" x2="90.80" y2="241.50" stroke="#e8262d" stroke-width="1.25" />
<line x1="88.60" y1="264.80" x2="88.60" y2="266.30" stroke="#e8262d" stroke-width="1.25" />
<line x1="86.40" y1="266.30" x2="90.80" y2="266.30" stroke="#e8262d" stroke-width="1.25" />
<rect x="84.20" y="241.50" width="8.80" height="23.30" fill="none" stroke="#e8262d" stroke-width="1.25" />
<line x1="84.20" y1="251.40" x2="93.00" y2="251.40" stroke="#e8262d" stroke-width="1.25" />
<circle cx="88.60" cy="252.80" r="1.15" fill="#e8262d" stroke="none" stroke-width="1" />
<circle cx="98.00" cy="242.20" r="2.25" fill="none" stroke="#e8262d" stroke-width="1.35" />
<circle cx="98.00" cy="243.40" r="2.25" fill="none" stroke="#e8262d" stroke-width="1.35" />
<circle cx="98.00" cy="259.00" r="2.25" fill="none" stroke="#e8262d" stroke-width="1.35" />
<circle cx="98.00" cy="266.30" r="2.25" fill="none" stroke="#e8262d" stroke-width="1.35" />
<rect x="114.30" y="254.30" width="8.40" height="17.10" fill="none" stroke="#ea6b24" stroke-width="1.25" />
<line x1="114.30" y1="262.90" x2="122.70" y2="262.90" stroke="#ea6b24" stroke-width="1.25" />
<circle cx="118.50" cy="261.50" r="1.15" fill="#ea6b24" stroke="none" stroke-width="1" />
<circle cx="128.00" cy="253.30" r="2.25" fill="none" stroke="#ea6b24" stroke-width="1.35" />
<circle cx="128.00" cy="258.70" r="2.25" fill="none" stroke="#ea6b24" stroke-width="1.35" />
<circle cx="128.00" cy="267.60" r="2.25" fill="none" stroke="#ea6b24" stroke-width="1.35" />
<circle cx="128.00" cy="270.90" r="2.25" fill="none" stroke="#ea6b24" stroke-width="1.35" />
<line x1="148.30" y1="267.60" x2="148.30" y2="270.90" stroke="#e2a52c" stroke-width="1.25" />
<line x1="146.10" y1="267.60" x2="150.50" y2="267.60" stroke="#e2a52c" stroke-width="1.25" />
<rect x="144.20" y="270.90" width="8.20" height="12.90" fill="none" stroke="#e2a52c" stroke-width="1.25" />
<line x1="144.20" y1="282.30" x2="152.40" y2="282.30" stroke="#e2a52c" stroke-width="1.25" />
<circle cx="148.30" cy="277.00" r="1.15" fill="#e2a52c" stroke="none" stroke-width="1" />
<circle cx="157.00" cy="267.60" r="2.25" fill="none" stroke="#e2a52c" stroke-width="1.35" />
<circle cx="157.00" cy="278.00" r="2.25" fill="none" stroke="#e2a52c" stroke-width="1.35" />
<circle cx="157.00" cy="281.00" r="2.25" fill="none" stroke="#e2a52c" stroke-width="1.35" />
<circle cx="157.00" cy="282.90" r="2.25" fill="none" stroke="#e2a52c" stroke-width="1.35" />
<line x1="178.00" y1="269.50" x2="178.00" y2="272.00" stroke="#d8d232" stroke-width="1.25" />
<line x1="175.80" y1="269.50" x2="180.20" y2="269.50" stroke="#d8d232" stroke-width="1.25" />
<rect x="173.70" y="272.00" width="8.60" height="11.20" fill="none" stroke="#d8d232" stroke-width="1.25" />
<line x1="173.70" y1="280.50" x2="182.30" y2="280.50" stroke="#d8d232" stroke-width="1.25" />
<circle cx="178.00" cy="277.00" r="1.15" fill="#d8d232" stroke="none" stroke-width="1" />
<circle cx="187.00" cy="269.50" r="2.25" fill="none" stroke="#d8d232" stroke-width="1.35" />
<circle cx="187.00" cy="277.00" r="2.25" fill="none" stroke="#d8d232" stroke-width="1.35" />
<circle cx="187.00" cy="280.00" r="2.25" fill="none" stroke="#d8d232" stroke-width="1.35" />
<circle cx="187.00" cy="283.20" r="2.25" fill="none" stroke="#d8d232" stroke-width="1.35" />
<line x1="208.00" y1="259.40" x2="208.00" y2="263.40" stroke="#a9c93c" stroke-width="1.25" />
<line x1="205.80" y1="259.40" x2="210.20" y2="259.40" stroke="#a9c93c" stroke-width="1.25" />
<rect x="203.60" y="263.40" width="8.80" height="16.20" fill="none" stroke="#a9c93c" stroke-width="1.25" />
<line x1="203.60" y1="276.00" x2="212.40" y2="276.00" stroke="#a9c93c" stroke-width="1.25" />
<circle cx="208.00" cy="271.00" r="1.15" fill="#a9c93c" stroke="none" stroke-width="1" />
<circle cx="217.00" cy="259.40" r="2.25" fill="none" stroke="#a9c93c" stroke-width="1.35" />
<circle cx="217.00" cy="272.00" r="2.25" fill="none" stroke="#a9c93c" stroke-width="1.35" />
<circle cx="217.00" cy="275.20" r="2.25" fill="none" stroke="#a9c93c" stroke-width="1.35" />
<circle cx="217.00" cy="277.10" r="2.25" fill="none" stroke="#a9c93c" stroke-width="1.35" />
<rect x="233.30" y="245.30" width="8.60" height="20.80" fill="none" stroke="#3ba63b" stroke-width="1.25" />
<line x1="233.30" y1="255.60" x2="241.90" y2="255.60" stroke="#3ba63b" stroke-width="1.25" />
<circle cx="237.60" cy="255.60" r="1.15" fill="#3ba63b" stroke="none" stroke-width="1" />
<circle cx="246.00" cy="244.80" r="2.25" fill="none" stroke="#3ba63b" stroke-width="1.35" />
<circle cx="246.00" cy="249.90" r="2.25" fill="none" stroke="#3ba63b" stroke-width="1.35" />
<circle cx="246.00" cy="261.90" r="2.25" fill="none" stroke="#3ba63b" stroke-width="1.35" />
<circle cx="246.00" cy="266.70" r="2.25" fill="none" stroke="#3ba63b" stroke-width="1.35" />
<line x1="268.00" y1="215.60" x2="268.00" y2="225.10" stroke="#3bb17f" stroke-width="1.25" />
<line x1="265.80" y1="215.60" x2="270.20" y2="215.60" stroke="#3bb17f" stroke-width="1.25" />
<line x1="268.00" y1="267.60" x2="268.00" y2="265.50" stroke="#3bb17f" stroke-width="1.25" />
<line x1="265.80" y1="265.50" x2="270.20" y2="265.50" stroke="#3bb17f" stroke-width="1.25" />
<rect x="263.60" y="225.10" width="8.80" height="42.50" fill="none" stroke="#3bb17f" stroke-width="1.25" />
<line x1="263.60" y1="253.30" x2="272.40" y2="253.30" stroke="#3bb17f" stroke-width="1.25" />
<circle cx="268.00" cy="246.30" r="1.15" fill="#3bb17f" stroke="none" stroke-width="1" />
<circle cx="277.00" cy="215.60" r="2.25" fill="none" stroke="#3bb17f" stroke-width="1.35" />
<circle cx="277.00" cy="252.00" r="2.25" fill="none" stroke="#3bb17f" stroke-width="1.35" />
<circle cx="277.00" cy="253.50" r="2.25" fill="none" stroke="#3bb17f" stroke-width="1.35" />
<circle cx="277.00" cy="264.40" r="2.25" fill="none" stroke="#3bb17f" stroke-width="1.35" />
<text x="167.6" y="325.3" font-size="12.2" font-weight="bold" text-anchor="middle" fill="#111" stroke="#111" stroke-width="0.3" >PAA (%)</text>
<text transform="translate(19.3,248.8) rotate(-90)" font-size="12.2" font-weight="bold" text-anchor="middle" fill="#111" stroke="#111" stroke-width="0.3">Friction Coefficient</text>
<rect x="368.40" y="197.00" width="240.40" height="102.50" fill="none" stroke="#1a1a1a" stroke-width="1.3" />
<line x1="383.42" y1="299.50" x2="383.42" y2="302.50" stroke="#111" stroke-width="1.2" />
<text x="383.4" y="314.5" font-size="10" font-weight="bold" text-anchor="middle" fill="#111" stroke="#111" stroke-width="0.3" >2</text>
<line x1="413.47" y1="299.50" x2="413.47" y2="302.50" stroke="#111" stroke-width="1.2" />
<text x="413.5" y="314.5" font-size="10" font-weight="bold" text-anchor="middle" fill="#111" stroke="#111" stroke-width="0.3" >4</text>
<line x1="443.52" y1="299.50" x2="443.52" y2="302.50" stroke="#111" stroke-width="1.2" />
<text x="443.5" y="314.5" font-size="10" font-weight="bold" text-anchor="middle" fill="#111" stroke="#111" stroke-width="0.3" >6</text>
<line x1="473.57" y1="299.50" x2="473.57" y2="302.50" stroke="#111" stroke-width="1.2" />
<text x="473.6" y="314.5" font-size="10" font-weight="bold" text-anchor="middle" fill="#111" stroke="#111" stroke-width="0.3" >8</text>
<line x1="503.62" y1="299.50" x2="503.62" y2="302.50" stroke="#111" stroke-width="1.2" />
<text x="503.6" y="314.5" font-size="10" font-weight="bold" text-anchor="middle" fill="#111" stroke="#111" stroke-width="0.3" >12</text>
<line x1="533.67" y1="299.50" x2="533.67" y2="302.50" stroke="#111" stroke-width="1.2" />
<text x="533.7" y="314.5" font-size="10" font-weight="bold" text-anchor="middle" fill="#111" stroke="#111" stroke-width="0.3" >16</text>
<line x1="563.72" y1="299.50" x2="563.72" y2="302.50" stroke="#111" stroke-width="1.2" />
<text x="563.7" y="314.5" font-size="10" font-weight="bold" text-anchor="middle" fill="#111" stroke="#111" stroke-width="0.3" >20</text>
<line x1="593.77" y1="299.50" x2="593.77" y2="302.50" stroke="#111" stroke-width="1.2" />
<text x="593.8" y="314.5" font-size="10" font-weight="bold" text-anchor="middle" fill="#111" stroke="#111" stroke-width="0.3" >24</text>
<line x1="364.90" y1="197.00" x2="368.40" y2="197.00" stroke="#111" stroke-width="1.2" />
<text x="363.0" y="200.6" font-size="10" font-weight="bold" text-anchor="end" fill="#111" stroke="#111" stroke-width="0.3" >0.04</text>
<line x1="364.90" y1="248.25" x2="368.40" y2="248.25" stroke="#111" stroke-width="1.2" />
<text x="363.0" y="251.8" font-size="10" font-weight="bold" text-anchor="end" fill="#111" stroke="#111" stroke-width="0.3" >0.02</text>
<line x1="364.90" y1="299.50" x2="368.40" y2="299.50" stroke="#111" stroke-width="1.2" />
<text x="363.0" y="303.1" font-size="10" font-weight="bold" text-anchor="end" fill="#111" stroke="#111" stroke-width="0.3" >0.00</text>
<line x1="366.40" y1="222.60" x2="368.40" y2="222.60" stroke="#111" stroke-width="1.0" />
<line x1="366.40" y1="273.90" x2="368.40" y2="273.90" stroke="#111" stroke-width="1.0" />
<rect x="375.20" y="290.00" width="9.00" height="4.40" fill="none" stroke="#d82585" stroke-width="1.25" />
<line x1="375.20" y1="292.20" x2="384.20" y2="292.20" stroke="#d82585" stroke-width="1.25" />
<circle cx="388.00" cy="288.50" r="2.25" fill="none" stroke="#d82585" stroke-width="1.35" />
<circle cx="388.00" cy="291.00" r="2.25" fill="none" stroke="#d82585" stroke-width="1.35" />
<circle cx="388.00" cy="293.80" r="2.25" fill="none" stroke="#d82585" stroke-width="1.35" />
<circle cx="388.00" cy="292.50" r="2.25" fill="none" stroke="#d82585" stroke-width="1.35" />
<line x1="409.40" y1="279.50" x2="409.40" y2="280.50" stroke="#e8262d" stroke-width="1.25" />
<line x1="407.20" y1="279.50" x2="411.60" y2="279.50" stroke="#e8262d" stroke-width="1.25" />
<rect x="405.10" y="280.50" width="8.60" height="10.80" fill="none" stroke="#e8262d" stroke-width="1.25" />
<line x1="405.10" y1="286.80" x2="413.70" y2="286.80" stroke="#e8262d" stroke-width="1.25" />
<circle cx="409.40" cy="285.50" r="1.15" fill="#e8262d" stroke="none" stroke-width="1" />
<circle cx="418.00" cy="279.00" r="2.25" fill="none" stroke="#e8262d" stroke-width="1.35" />
<circle cx="418.00" cy="284.90" r="2.25" fill="none" stroke="#e8262d" stroke-width="1.35" />
<circle cx="418.00" cy="289.00" r="2.25" fill="none" stroke="#e8262d" stroke-width="1.35" />
<circle cx="418.00" cy="291.30" r="2.25" fill="none" stroke="#e8262d" stroke-width="1.35" />
<rect x="434.70" y="278.00" width="9.10" height="8.20" fill="none" stroke="#ea6b24" stroke-width="1.25" />
<line x1="434.70" y1="281.80" x2="443.80" y2="281.80" stroke="#ea6b24" stroke-width="1.25" />
<circle cx="439.25" cy="281.80" r="1.15" fill="#ea6b24" stroke="none" stroke-width="1" />
<circle cx="449.00" cy="276.70" r="2.25" fill="none" stroke="#ea6b24" stroke-width="1.35" />
<circle cx="449.00" cy="281.80" r="2.25" fill="none" stroke="#ea6b24" stroke-width="1.35" />
<circle cx="449.00" cy="286.20" r="2.25" fill="none" stroke="#ea6b24" stroke-width="1.35" />
<line x1="468.75" y1="268.70" x2="468.75" y2="271.50" stroke="#e2a52c" stroke-width="1.25" />
<line x1="466.55" y1="268.70" x2="470.95" y2="268.70" stroke="#e2a52c" stroke-width="1.25" />
<rect x="464.20" y="271.50" width="9.10" height="12.80" fill="none" stroke="#e2a52c" stroke-width="1.25" />
<line x1="464.20" y1="282.50" x2="473.30" y2="282.50" stroke="#e2a52c" stroke-width="1.25" />
<circle cx="468.75" cy="277.00" r="1.15" fill="#e2a52c" stroke="none" stroke-width="1" />
<circle cx="478.00" cy="268.00" r="2.25" fill="none" stroke="#e2a52c" stroke-width="1.35" />
<circle cx="478.00" cy="278.60" r="2.25" fill="none" stroke="#e2a52c" stroke-width="1.35" />
<circle cx="478.00" cy="283.00" r="2.25" fill="none" stroke="#e2a52c" stroke-width="1.35" />
<rect x="494.70" y="261.90" width="8.50" height="7.60" fill="none" stroke="#d8d232" stroke-width="1.25" />
<line x1="494.70" y1="265.30" x2="503.20" y2="265.30" stroke="#d8d232" stroke-width="1.25" />
<circle cx="498.95" cy="265.30" r="1.15" fill="#d8d232" stroke="none" stroke-width="1" />
<circle cx="507.60" cy="261.00" r="2.25" fill="none" stroke="#d8d232" stroke-width="1.35" />
<circle cx="507.60" cy="265.10" r="2.25" fill="none" stroke="#d8d232" stroke-width="1.35" />
<circle cx="507.60" cy="269.50" r="2.25" fill="none" stroke="#d8d232" stroke-width="1.35" />
<rect x="524.60" y="255.80" width="8.70" height="10.50" fill="none" stroke="#a9c93c" stroke-width="1.25" />
<line x1="524.60" y1="260.60" x2="533.30" y2="260.60" stroke="#a9c93c" stroke-width="1.25" />
<circle cx="528.95" cy="260.60" r="1.15" fill="#a9c93c" stroke="none" stroke-width="1" />
<circle cx="537.50" cy="254.30" r="2.25" fill="none" stroke="#a9c93c" stroke-width="1.35" />
<circle cx="537.50" cy="258.10" r="2.25" fill="none" stroke="#a9c93c" stroke-width="1.35" />
<circle cx="537.50" cy="261.90" r="2.25" fill="none" stroke="#a9c93c" stroke-width="1.35" />
<circle cx="537.50" cy="266.70" r="2.25" fill="none" stroke="#a9c93c" stroke-width="1.35" />
<line x1="558.95" y1="215.20" x2="558.95" y2="217.10" stroke="#3ba63b" stroke-width="1.25" />
<line x1="556.75" y1="215.20" x2="561.15" y2="215.20" stroke="#3ba63b" stroke-width="1.25" />
<line x1="558.95" y1="239.00" x2="558.95" y2="240.60" stroke="#3ba63b" stroke-width="1.25" />
<line x1="556.75" y1="240.60" x2="561.15" y2="240.60" stroke="#3ba63b" stroke-width="1.25" />
<rect x="554.70" y="217.10" width="8.50" height="21.90" fill="none" stroke="#3ba63b" stroke-width="1.25" />
<line x1="554.70" y1="228.20" x2="563.20" y2="228.20" stroke="#3ba63b" stroke-width="1.25" />
<circle cx="558.95" cy="228.20" r="1.15" fill="#3ba63b" stroke="none" stroke-width="1" />
<circle cx="568.00" cy="215.20" r="2.25" fill="none" stroke="#3ba63b" stroke-width="1.35" />
<circle cx="568.00" cy="225.10" r="2.25" fill="none" stroke="#3ba63b" stroke-width="1.35" />
<circle cx="568.00" cy="230.10" r="2.25" fill="none" stroke="#3ba63b" stroke-width="1.35" />
<circle cx="568.00" cy="240.60" r="2.25" fill="none" stroke="#3ba63b" stroke-width="1.35" />
<line x1="588.60" y1="201.90" x2="588.60" y2="206.10" stroke="#3bb17f" stroke-width="1.25" />
<line x1="586.40" y1="201.90" x2="590.80" y2="201.90" stroke="#3bb17f" stroke-width="1.25" />
<rect x="584.20" y="206.10" width="8.80" height="20.20" fill="none" stroke="#3bb17f" stroke-width="1.25" />
<line x1="584.20" y1="219.00" x2="593.00" y2="219.00" stroke="#3bb17f" stroke-width="1.25" />
<circle cx="588.60" cy="215.80" r="1.15" fill="#3bb17f" stroke="none" stroke-width="1" />
<circle cx="597.50" cy="201.90" r="2.25" fill="none" stroke="#3bb17f" stroke-width="1.35" />
<circle cx="597.50" cy="216.20" r="2.25" fill="none" stroke="#3bb17f" stroke-width="1.35" />
<circle cx="597.50" cy="220.60" r="2.25" fill="none" stroke="#3bb17f" stroke-width="1.35" />
<circle cx="597.50" cy="225.10" r="2.25" fill="none" stroke="#3bb17f" stroke-width="1.35" />
<text x="490.0" y="325.5" font-size="12.2" font-weight="bold" text-anchor="middle" fill="#111" stroke="#111" stroke-width="0.3" >Time (h)</text>
<text transform="translate(340.3,248.8) rotate(-90)" font-size="12.2" font-weight="bold" text-anchor="middle" fill="#111" stroke="#111" stroke-width="0.3">Friction Coefficient</text>
<rect x="47.60" y="342.70" width="28.69" height="101.60" fill="#ee8a8a" stroke="none" stroke-width="1" />
<rect x="75.99" y="342.70" width="28.69" height="101.60" fill="#94b0c9" stroke="none" stroke-width="1" />
<rect x="104.38" y="342.70" width="28.69" height="101.60" fill="#f7dc8e" stroke="none" stroke-width="1" />
<rect x="132.76" y="342.70" width="28.69" height="101.60" fill="#9fd7b3" stroke="none" stroke-width="1" />
<rect x="161.15" y="342.70" width="28.69" height="101.60" fill="#aaa9c9" stroke="none" stroke-width="1" />
<rect x="189.54" y="342.70" width="28.69" height="101.60" fill="#cbcbcb" stroke="none" stroke-width="1" />
<rect x="217.92" y="342.70" width="28.69" height="101.60" fill="#f3b1b1" stroke="none" stroke-width="1" />
<rect x="246.31" y="342.70" width="28.69" height="101.60" fill="#b5cce3" stroke="none" stroke-width="1" />
<rect x="47.60" y="342.70" width="227.10" height="101.60" fill="none" stroke="#1a1a1a" stroke-width="1.3" />
<line x1="61.79" y1="444.30" x2="61.79" y2="447.30" stroke="#111" stroke-width="1.2" />
<text x="61.8" y="459.3" font-size="10" font-weight="bold" text-anchor="middle" fill="#111" stroke="#111" stroke-width="0.3" >10</text>
<line x1="90.18" y1="444.30" x2="90.18" y2="447.30" stroke="#111" stroke-width="1.2" />
<text x="90.2" y="459.3" font-size="10" font-weight="bold" text-anchor="middle" fill="#111" stroke="#111" stroke-width="0.3" >20</text>
<line x1="118.57" y1="444.30" x2="118.57" y2="447.30" stroke="#111" stroke-width="1.2" />
<text x="118.6" y="459.3" font-size="10" font-weight="bold" text-anchor="middle" fill="#111" stroke="#111" stroke-width="0.3" >30</text>
<line x1="146.96" y1="444.30" x2="146.96" y2="447.30" stroke="#111" stroke-width="1.2" />
<text x="147.0" y="459.3" font-size="10" font-weight="bold" text-anchor="middle" fill="#111" stroke="#111" stroke-width="0.3" >40</text>
<line x1="175.34" y1="444.30" x2="175.34" y2="447.30" stroke="#111" stroke-width="1.2" />
<text x="175.3" y="459.3" font-size="10" font-weight="bold" text-anchor="middle" fill="#111" stroke="#111" stroke-width="0.3" >50</text>
<line x1="203.73" y1="444.30" x2="203.73" y2="447.30" stroke="#111" stroke-width="1.2" />
<text x="203.7" y="459.3" font-size="10" font-weight="bold" text-anchor="middle" fill="#111" stroke="#111" stroke-width="0.3" >60</text>
<line x1="232.12" y1="444.30" x2="232.12" y2="447.30" stroke="#111" stroke-width="1.2" />
<text x="232.1" y="459.3" font-size="10" font-weight="bold" text-anchor="middle" fill="#111" stroke="#111" stroke-width="0.3" >70</text>
<line x1="260.51" y1="444.30" x2="260.51" y2="447.30" stroke="#111" stroke-width="1.2" />
<text x="260.5" y="459.3" font-size="10" font-weight="bold" text-anchor="middle" fill="#111" stroke="#111" stroke-width="0.3" >80</text>
<line x1="44.10" y1="444.00" x2="47.60" y2="444.00" stroke="#111" stroke-width="1.2" />
<text x="43.0" y="447.6" font-size="10" font-weight="bold" text-anchor="end" fill="#111" stroke="#111" stroke-width="0.3" >0.000</text>
<line x1="44.10" y1="403.48" x2="47.60" y2="403.48" stroke="#111" stroke-width="1.2" />
<text x="43.0" y="407.1" font-size="10" font-weight="bold" text-anchor="end" fill="#111" stroke="#111" stroke-width="0.3" >0.005</text>
<line x1="44.10" y1="362.96" x2="47.60" y2="362.96" stroke="#111" stroke-width="1.2" />
<text x="43.0" y="366.6" font-size="10" font-weight="bold" text-anchor="end" fill="#111" stroke="#111" stroke-width="0.3" >0.010</text>
<line x1="45.60" y1="423.74" x2="47.60" y2="423.74" stroke="#111" stroke-width="1.0" />
<line x1="45.60" y1="383.22" x2="47.60" y2="383.22" stroke="#111" stroke-width="1.0" />
<line x1="45.60" y1="342.70" x2="47.60" y2="342.70" stroke="#111" stroke-width="1.0" />
<line x1="274.70" y1="342.70" x2="278.20" y2="342.70" stroke="#111" stroke-width="1.2" />
<text x="278.4" y="346.1" font-size="9.4" font-weight="bold" text-anchor="start" fill="#e3191c" stroke="#e3191c" stroke-width="0.3" >15</text>
<line x1="274.70" y1="359.63" x2="278.20" y2="359.63" stroke="#111" stroke-width="1.2" />
<text x="278.4" y="363.0" font-size="9.4" font-weight="bold" text-anchor="start" fill="#e3191c" stroke="#e3191c" stroke-width="0.3" >10</text>
<line x1="274.70" y1="376.57" x2="278.20" y2="376.57" stroke="#111" stroke-width="1.2" />
<text x="278.4" y="380.0" font-size="9.4" font-weight="bold" text-anchor="start" fill="#e3191c" stroke="#e3191c" stroke-width="0.3" >5</text>
<line x1="274.70" y1="393.50" x2="278.20" y2="393.50" stroke="#111" stroke-width="1.2" />
<text x="278.4" y="396.9" font-size="9.4" font-weight="bold" text-anchor="start" fill="#e3191c" stroke="#e3191c" stroke-width="0.3" >0</text>
<line x1="274.70" y1="410.43" x2="278.20" y2="410.43" stroke="#111" stroke-width="1.2" />
<text x="278.4" y="413.8" font-size="9.4" font-weight="bold" text-anchor="start" fill="#e3191c" stroke="#e3191c" stroke-width="0.3" >-5</text>
<line x1="274.70" y1="427.37" x2="278.20" y2="427.37" stroke="#111" stroke-width="1.2" />
<text x="278.4" y="430.8" font-size="9.4" font-weight="bold" text-anchor="start" fill="#e3191c" stroke="#e3191c" stroke-width="0.3" >-10</text>
<line x1="274.70" y1="444.30" x2="278.20" y2="444.30" stroke="#111" stroke-width="1.2" />
<line x1="274.70" y1="351.17" x2="276.70" y2="351.17" stroke="#111" stroke-width="1.0" />
<line x1="274.70" y1="368.10" x2="276.70" y2="368.10" stroke="#111" stroke-width="1.0" />
<line x1="274.70" y1="385.03" x2="276.70" y2="385.03" stroke="#111" stroke-width="1.0" />
<line x1="274.70" y1="401.97" x2="276.70" y2="401.97" stroke="#111" stroke-width="1.0" />
<line x1="274.70" y1="418.90" x2="276.70" y2="418.90" stroke="#111" stroke-width="1.0" />
<line x1="274.70" y1="435.83" x2="276.70" y2="435.83" stroke="#111" stroke-width="1.0" />
<text transform="translate(301.2,392.9) rotate(-90)" font-size="11.1" font-weight="bold" text-anchor="middle" fill="#e3191c" stroke="#e3191c" stroke-width="0.3">Contact Stress (MPa)</text>
<text transform="translate(17.3,393.5) rotate(-90)" font-size="12" font-weight="bold" text-anchor="middle" fill="#111" stroke="#111" stroke-width="0.3">Friction Coefficient</text>
<text x="164.2" y="469.5" font-size="12.1" font-weight="bold" text-anchor="middle" fill="#111" stroke="#111" stroke-width="0.3" >Load (N)</text>
<polyline points="61.8,388.6 90.2,383.8 118.6,379.0 147.0,374.3 175.3,369.5 203.7,364.8 232.1,360.0 260.5,355.2" fill="none" stroke="#e3191c" stroke-width="1.3"/>
<circle cx="61.79" cy="388.60" r="2.40" fill="#e3191c" stroke="none" stroke-width="1" />
<circle cx="90.18" cy="383.80" r="2.40" fill="#e3191c" stroke="none" stroke-width="1" />
<circle cx="118.57" cy="379.00" r="2.40" fill="#e3191c" stroke="none" stroke-width="1" />
<circle cx="146.96" cy="374.30" r="2.40" fill="#e3191c" stroke="none" stroke-width="1" />
<circle cx="175.34" cy="369.50" r="2.40" fill="#e3191c" stroke="none" stroke-width="1" />
<circle cx="203.73" cy="364.80" r="2.40" fill="#e3191c" stroke="none" stroke-width="1" />
<circle cx="232.12" cy="360.00" r="2.40" fill="#e3191c" stroke="none" stroke-width="1" />
<circle cx="260.51" cy="355.20" r="2.40" fill="#e3191c" stroke="none" stroke-width="1" />
<line x1="56.40" y1="410.10" x2="56.40" y2="412.40" stroke="#111" stroke-width="1.25" />
<line x1="53.90" y1="410.10" x2="58.90" y2="410.10" stroke="#111" stroke-width="1.25" />
<line x1="56.40" y1="421.00" x2="56.40" y2="422.30" stroke="#111" stroke-width="1.25" />
<line x1="53.90" y1="422.30" x2="58.90" y2="422.30" stroke="#111" stroke-width="1.25" />
<rect x="51.80" y="412.40" width="9.20" height="8.60" fill="none" stroke="#111" stroke-width="1.25" />
<line x1="51.80" y1="416.20" x2="61.00" y2="416.20" stroke="#111" stroke-width="1.25" />
<circle cx="56.40" cy="416.20" r="1.10" fill="#111" stroke="none" stroke-width="1" />
<circle cx="67.00" cy="410.10" r="2.10" fill="none" stroke="#222" stroke-width="1.0" />
<circle cx="68.00" cy="414.30" r="2.10" fill="none" stroke="#222" stroke-width="1.0" />
<circle cx="69.00" cy="418.10" r="2.10" fill="none" stroke="#222" stroke-width="1.0" />
<circle cx="67.00" cy="422.30" r="2.10" fill="none" stroke="#222" stroke-width="1.0" />
<line x1="84.70" y1="413.30" x2="84.70" y2="413.30" stroke="#111" stroke-width="1.25" />
<line x1="82.20" y1="413.30" x2="87.20" y2="413.30" stroke="#111" stroke-width="1.25" />
<line x1="84.70" y1="418.10" x2="84.70" y2="421.50" stroke="#111" stroke-width="1.25" />
<line x1="82.20" y1="421.50" x2="87.20" y2="421.50" stroke="#111" stroke-width="1.25" />
<rect x="80.40" y="413.30" width="8.60" height="4.80" fill="none" stroke="#111" stroke-width="1.25" />
<line x1="80.40" y1="415.50" x2="89.00" y2="415.50" stroke="#111" stroke-width="1.25" />
<circle cx="84.70" cy="415.50" r="1.10" fill="#111" stroke="none" stroke-width="1" />
<circle cx="96.00" cy="412.40" r="2.10" fill="none" stroke="#222" stroke-width="1.0" />
<circle cx="95.50" cy="415.20" r="2.10" fill="none" stroke="#222" stroke-width="1.0" />
<circle cx="96.00" cy="421.50" r="2.10" fill="none" stroke="#222" stroke-width="1.0" />
<line x1="113.25" y1="410.50" x2="113.25" y2="412.00" stroke="#111" stroke-width="1.25" />
<line x1="110.75" y1="410.50" x2="115.75" y2="410.50" stroke="#111" stroke-width="1.25" />
<line x1="113.25" y1="421.00" x2="113.25" y2="423.80" stroke="#111" stroke-width="1.25" />
<line x1="110.75" y1="423.80" x2="115.75" y2="423.80" stroke="#111" stroke-width="1.25" />
<rect x="109.00" y="412.00" width="8.50" height="9.00" fill="none" stroke="#111" stroke-width="1.25" />
<line x1="109.00" y1="416.50" x2="117.50" y2="416.50" stroke="#111" stroke-width="1.25" />
<circle cx="113.25" cy="416.50" r="1.10" fill="#111" stroke="none" stroke-width="1" />
<circle cx="125.00" cy="410.90" r="2.10" fill="none" stroke="#222" stroke-width="1.0" />
<circle cx="124.00" cy="414.30" r="2.10" fill="none" stroke="#222" stroke-width="1.0" />
<circle cx="123.50" cy="418.50" r="2.10" fill="none" stroke="#222" stroke-width="1.0" />
<circle cx="124.50" cy="423.80" r="2.10" fill="none" stroke="#222" stroke-width="1.0" />
<line x1="141.80" y1="410.90" x2="141.80" y2="413.30" stroke="#111" stroke-width="1.25" />
<line x1="139.30" y1="410.90" x2="144.30" y2="410.90" stroke="#111" stroke-width="1.25" />
<line x1="141.80" y1="421.50" x2="141.80" y2="425.70" stroke="#111" stroke-width="1.25" />
<line x1="139.30" y1="425.70" x2="144.30" y2="425.70" stroke="#111" stroke-width="1.25" />
<rect x="137.50" y="413.30" width="8.60" height="8.20" fill="none" stroke="#111" stroke-width="1.25" />
<line x1="137.50" y1="417.50" x2="146.10" y2="417.50" stroke="#111" stroke-width="1.25" />
<circle cx="141.80" cy="417.50" r="1.10" fill="#111" stroke="none" stroke-width="1" />
<circle cx="153.00" cy="410.90" r="2.10" fill="none" stroke="#222" stroke-width="1.0" />
<circle cx="153.00" cy="414.50" r="2.10" fill="none" stroke="#222" stroke-width="1.0" />
<circle cx="153.00" cy="416.50" r="2.10" fill="none" stroke="#222" stroke-width="1.0" />
<circle cx="153.00" cy="425.30" r="2.10" fill="none" stroke="#222" stroke-width="1.0" />
<line x1="170.05" y1="407.00" x2="170.05" y2="408.20" stroke="#111" stroke-width="1.25" />
<line x1="167.55" y1="407.00" x2="172.55" y2="407.00" stroke="#111" stroke-width="1.25" />
<line x1="170.05" y1="420.00" x2="170.05" y2="424.80" stroke="#111" stroke-width="1.25" />
<line x1="167.55" y1="424.80" x2="172.55" y2="424.80" stroke="#111" stroke-width="1.25" />
<rect x="165.50" y="408.20" width="9.10" height="11.80" fill="none" stroke="#111" stroke-width="1.25" />
<line x1="165.50" y1="414.30" x2="174.60" y2="414.30" stroke="#111" stroke-width="1.25" />
<circle cx="170.05" cy="414.30" r="1.10" fill="#111" stroke="none" stroke-width="1" />
<circle cx="181.00" cy="407.00" r="2.10" fill="none" stroke="#222" stroke-width="1.0" />
<circle cx="181.50" cy="410.00" r="2.10" fill="none" stroke="#222" stroke-width="1.0" />
<circle cx="183.00" cy="415.80" r="2.10" fill="none" stroke="#222" stroke-width="1.0" />
<circle cx="182.00" cy="424.80" r="2.10" fill="none" stroke="#222" stroke-width="1.0" />
<line x1="198.50" y1="404.80" x2="198.50" y2="410.00" stroke="#111" stroke-width="1.25" />
<line x1="196.00" y1="404.80" x2="201.00" y2="404.80" stroke="#111" stroke-width="1.25" />
<rect x="194.00" y="410.00" width="9.00" height="9.60" fill="none" stroke="#111" stroke-width="1.25" />
<line x1="194.00" y1="415.20" x2="203.00" y2="415.20" stroke="#111" stroke-width="1.25" />
<circle cx="198.50" cy="415.20" r="1.10" fill="#111" stroke="none" stroke-width="1" />
<circle cx="209.50" cy="404.40" r="2.10" fill="none" stroke="#222" stroke-width="1.0" />
<circle cx="209.00" cy="414.70" r="2.10" fill="none" stroke="#222" stroke-width="1.0" />
<circle cx="210.00" cy="418.10" r="2.10" fill="none" stroke="#222" stroke-width="1.0" />
<circle cx="211.00" cy="420.00" r="2.10" fill="none" stroke="#222" stroke-width="1.0" />
<rect x="222.60" y="384.20" width="9.00" height="18.70" fill="none" stroke="#111" stroke-width="1.25" />
<line x1="222.60" y1="393.30" x2="231.60" y2="393.30" stroke="#111" stroke-width="1.25" />
<circle cx="227.10" cy="393.30" r="1.10" fill="#111" stroke="none" stroke-width="1" />
<circle cx="238.00" cy="384.20" r="2.10" fill="none" stroke="#222" stroke-width="1.0" />
<circle cx="237.50" cy="385.50" r="2.10" fill="none" stroke="#222" stroke-width="1.0" />
<circle cx="237.90" cy="402.90" r="2.10" fill="none" stroke="#222" stroke-width="1.0" />
<line x1="255.20" y1="367.00" x2="255.20" y2="369.50" stroke="#111" stroke-width="1.25" />
<line x1="252.70" y1="367.00" x2="257.70" y2="367.00" stroke="#111" stroke-width="1.25" />
<line x1="255.20" y1="389.50" x2="255.20" y2="393.00" stroke="#111" stroke-width="1.25" />
<line x1="252.70" y1="393.00" x2="257.70" y2="393.00" stroke="#111" stroke-width="1.25" />
<rect x="250.60" y="369.50" width="9.20" height="20.00" fill="none" stroke="#111" stroke-width="1.25" />
<line x1="250.60" y1="379.60" x2="259.80" y2="379.60" stroke="#111" stroke-width="1.25" />
<circle cx="255.20" cy="379.60" r="1.10" fill="#111" stroke="none" stroke-width="1" />
<circle cx="266.50" cy="367.00" r="2.10" fill="none" stroke="#222" stroke-width="1.0" />
<circle cx="265.50" cy="372.80" r="2.10" fill="none" stroke="#222" stroke-width="1.0" />
<circle cx="266.00" cy="385.70" r="2.10" fill="none" stroke="#222" stroke-width="1.0" />
<circle cx="265.50" cy="393.00" r="2.10" fill="none" stroke="#222" stroke-width="1.0" />
<path d="M351,343.5 L351,443.7 L427.2,443.7 M433.2,443.7 L554.6,443.7 M560.6,443.7 L608.6,443.7 L608.6,343.5 L560.6,343.5 M554.6,343.5 L433.2,343.5 M427.2,343.5 L351,343.5" fill="none" stroke="#1a1a1a" stroke-width="1.3"/>
<path d="M425.7,346.5 L429.7,340.5 M430.7,346.5 L434.7,340.5" stroke="#1a1a1a" stroke-width="1.2"/>
<path d="M425.7,446.7 L429.7,440.7 M430.7,446.7 L434.7,440.7" stroke="#1a1a1a" stroke-width="1.2"/>
<path d="M553.1,346.5 L557.1,340.5 M558.1,346.5 L562.1,340.5" stroke="#1a1a1a" stroke-width="1.2"/>
<path d="M553.1,446.7 L557.1,440.7 M558.1,446.7 L562.1,440.7" stroke="#1a1a1a" stroke-width="1.2"/>
<line x1="347.50" y1="440.90" x2="351.00" y2="440.90" stroke="#111" stroke-width="1.2" />
<text x="347.0" y="444.5" font-size="10" font-weight="bold" text-anchor="end" fill="#111" stroke="#111" stroke-width="0.3" >0.00</text>
<line x1="347.50" y1="408.57" x2="351.00" y2="408.57" stroke="#111" stroke-width="1.2" />
<text x="347.0" y="412.2" font-size="10" font-weight="bold" text-anchor="end" fill="#111" stroke="#111" stroke-width="0.3" >0.01</text>
<line x1="347.50" y1="376.24" x2="351.00" y2="376.24" stroke="#111" stroke-width="1.2" />
<text x="347.0" y="379.8" font-size="10" font-weight="bold" text-anchor="end" fill="#111" stroke="#111" stroke-width="0.3" >0.02</text>
<line x1="347.50" y1="343.91" x2="351.00" y2="343.91" stroke="#111" stroke-width="1.2" />
<text x="347.0" y="347.5" font-size="10" font-weight="bold" text-anchor="end" fill="#111" stroke="#111" stroke-width="0.3" >0.03</text>
<line x1="349.00" y1="424.73" x2="351.00" y2="424.73" stroke="#111" stroke-width="1.0" />
<line x1="349.00" y1="392.40" x2="351.00" y2="392.40" stroke="#111" stroke-width="1.0" />
<line x1="349.00" y1="360.07" x2="351.00" y2="360.07" stroke="#111" stroke-width="1.0" />
<line x1="351.50" y1="443.70" x2="351.50" y2="446.70" stroke="#111" stroke-width="1.2" />
<text x="351.5" y="458.7" font-size="10" font-weight="bold" text-anchor="middle" fill="#111" stroke="#111" stroke-width="0.3" >0.0</text>
<line x1="376.60" y1="443.70" x2="376.60" y2="446.70" stroke="#111" stroke-width="1.2" />
<text x="376.6" y="458.7" font-size="10" font-weight="bold" text-anchor="middle" fill="#111" stroke="#111" stroke-width="0.3" >0.1</text>
<line x1="401.40" y1="443.70" x2="401.40" y2="446.70" stroke="#111" stroke-width="1.2" />
<text x="401.4" y="458.7" font-size="10" font-weight="bold" text-anchor="middle" fill="#111" stroke="#111" stroke-width="0.3" >0.2</text>
<line x1="449.20" y1="443.70" x2="449.20" y2="446.70" stroke="#111" stroke-width="1.2" />
<text x="449.2" y="458.7" font-size="10" font-weight="bold" text-anchor="middle" fill="#111" stroke="#111" stroke-width="0.3" >1</text>
<line x1="485.40" y1="443.70" x2="485.40" y2="446.70" stroke="#111" stroke-width="1.2" />
<text x="485.4" y="458.7" font-size="10" font-weight="bold" text-anchor="middle" fill="#111" stroke="#111" stroke-width="0.3" >2</text>
<line x1="521.30" y1="443.70" x2="521.30" y2="446.70" stroke="#111" stroke-width="1.2" />
<text x="521.3" y="458.7" font-size="10" font-weight="bold" text-anchor="middle" fill="#111" stroke="#111" stroke-width="0.3" >3</text>
<line x1="562.20" y1="443.70" x2="562.20" y2="446.70" stroke="#111" stroke-width="1.2" />
<text x="562.2" y="458.7" font-size="10" font-weight="bold" text-anchor="middle" fill="#111" stroke="#111" stroke-width="0.3" >8</text>
<line x1="585.40" y1="443.70" x2="585.40" y2="446.70" stroke="#111" stroke-width="1.2" />
<text x="585.4" y="458.7" font-size="10" font-weight="bold" text-anchor="middle" fill="#111" stroke="#111" stroke-width="0.3" >10</text>
<line x1="608.60" y1="443.70" x2="608.60" y2="446.70" stroke="#111" stroke-width="1.2" />
<text x="608.6" y="458.7" font-size="10" font-weight="bold" text-anchor="middle" fill="#111" stroke="#111" stroke-width="0.3" >12</text>
<line x1="364.00" y1="443.70" x2="364.00" y2="445.70" stroke="#111" stroke-width="1.0" />
<line x1="389.00" y1="443.70" x2="389.00" y2="445.70" stroke="#111" stroke-width="1.0" />
<line x1="413.50" y1="443.70" x2="413.50" y2="445.70" stroke="#111" stroke-width="1.0" />
<line x1="467.30" y1="443.70" x2="467.30" y2="445.70" stroke="#111" stroke-width="1.0" />
<line x1="503.40" y1="443.70" x2="503.40" y2="445.70" stroke="#111" stroke-width="1.0" />
<line x1="539.30" y1="443.70" x2="539.30" y2="445.70" stroke="#111" stroke-width="1.0" />
<line x1="573.80" y1="443.70" x2="573.80" y2="445.70" stroke="#111" stroke-width="1.0" />
<line x1="597.00" y1="443.70" x2="597.00" y2="445.70" stroke="#111" stroke-width="1.0" />
<text transform="translate(325.6,394.4) rotate(-90)" font-size="12" font-weight="bold" text-anchor="middle" fill="#111" stroke="#111" stroke-width="0.3">Friction Coefficient</text>
<text x="477.2" y="469.5" font-size="11.9" font-weight="bold" text-anchor="middle" fill="#111" stroke="#111" stroke-width="0.3" >Contact Pressure (MPa)</text>
<line x1="351.00" y1="408.40" x2="608.60" y2="408.40" stroke="#555" stroke-width="1.2" stroke-dasharray="3,3.2"/>
<text x="592.7" y="419.4" font-size="8.4" font-weight="bold" text-anchor="end" fill="#e3191c" stroke="#e3191c" stroke-width="0.3" >This work</text>
<rect x="360.50" y="349.20" width="6.60" height="6.60" fill="#1b8b8e" stroke="none" stroke-width="1" />
<text x="373.7" y="355.6" font-size="8.8" font-weight="normal" text-anchor="start" fill="#2a2a2a"  >Entangled hydrogel</text>
<polygon points="367.10,363.25 363.80,366.55 360.50,363.25 363.80,359.95" fill="#f2b21b"/>
<text x="373.7" y="366.4" font-size="8.8" font-weight="normal" text-anchor="start" fill="#2a2a2a"  >Anti-fatigue hydrogel</text>
<polygon points="363.80,370.70 366.94,372.98 365.74,376.67 361.86,376.67 360.66,372.98" fill="#3bae5e"/>
<text x="373.7" y="377.1" font-size="8.8" font-weight="normal" text-anchor="start" fill="#2a2a2a"  >Nano-array hydrogel</text>
<circle cx="363.80" cy="384.75" r="3.30" fill="#e85a5a" stroke="none" stroke-width="1" />
<circle cx="364.13" cy="383.93" r="1.25" fill="#fde2e2" stroke="none" stroke-width="1" />
<text x="373.7" y="387.9" font-size="8.8" font-weight="normal" text-anchor="start" fill="#2a2a2a"  >Renatured hydrogel</text>
<polygon points="367.10,395.50 365.45,398.36 362.15,398.36 360.50,395.50 362.15,392.64 365.45,392.64" fill="#9a8274"/>
<text x="373.7" y="398.6" font-size="8.8" font-weight="normal" text-anchor="start" fill="#2a2a2a"  >Cartilage hydrogel</text>
<polygon points="463.80,355.80 460.94,350.85 466.66,350.85" fill="#1f5a9c"/>
<text x="473.7" y="355.6" font-size="8.8" font-weight="normal" text-anchor="start" fill="#2a2a2a"  >Lipid hydrogel</text>
<polygon points="467.10,363.25 465.45,366.11 462.15,366.11 460.50,363.25 462.15,360.39 465.45,360.39" fill="#111"/>
<text x="473.7" y="366.4" font-size="8.8" font-weight="normal" text-anchor="start" fill="#2a2a2a"  >Layered hydrogel</text>
<polygon points="467.10,374.00 462.15,376.86 462.15,371.14" fill="#5c5ca2"/>
<text x="473.7" y="377.1" font-size="8.8" font-weight="normal" text-anchor="start" fill="#2a2a2a"  >Anisotropic hydrogel</text>
<polygon points="463.80,381.45 466.66,386.40 460.94,386.40" fill="#5b93d3"/>
<text x="473.7" y="387.9" font-size="8.8" font-weight="normal" text-anchor="start" fill="#2a2a2a"  >DN hydrogel</text>
<polygon points="460.50,395.50 465.45,392.64 465.45,398.36" fill="#d0642a"/>
<text x="473.7" y="398.6" font-size="8.8" font-weight="normal" text-anchor="start" fill="#2a2a2a"  >Hb-En hydrogel</text>
<rect x="354.20" y="416.40" width="5.60" height="5.60" fill="#1b8b8e" stroke="none" stroke-width="1" />
<circle cx="364.80" cy="411.90" r="3.70" fill="#e85a5a" stroke="none" stroke-width="1" />
<circle cx="365.17" cy="410.97" r="1.41" fill="#fde2e2" stroke="none" stroke-width="1" />
<polygon points="401.50,434.20 405.48,441.10 397.52,441.10" fill="#5b93d3"/>
<polygon points="429.90,408.40 436.50,404.59 436.50,412.21" fill="#d0642a"/>
<polygon points="440.00,429.20 436.02,422.30 443.98,422.30" fill="#1f5a9c"/>
<polygon points="449.80,427.80 447.90,431.09 444.10,431.09 442.20,427.80 444.10,424.51 447.90,424.51" fill="#9a8274"/>
<polygon points="453.10,421.00 448.70,425.40 444.30,421.00 448.70,416.60" fill="#f2b21b"/>
<polygon points="477.00,413.70 480.80,416.46 479.35,420.94 474.65,420.94 473.20,416.46" fill="#3bae5e"/>
<polygon points="503.00,412.40 496.40,416.21 496.40,408.59" fill="#5c5ca2"/>
<polygon points="570.80,359.70 568.80,363.16 564.80,363.16 562.80,359.70 564.80,356.24 568.80,356.24" fill="#111"/>
<polygon points="600.00,411.50 601.18,414.67 604.57,414.82 601.92,416.92 602.82,420.18 600.00,418.32 597.18,420.18 598.08,416.92 595.43,414.82 598.82,414.67" fill="#e3191c"/>
<rect x="56.10" y="495.10" width="554.80" height="93.50" fill="#cbdcea" stroke="none" stroke-width="1" />
<line x1="52.60" y1="588.60" x2="56.10" y2="588.60" stroke="#111" stroke-width="1.2" />
<text x="50.5" y="592.2" font-size="10" font-weight="bold" text-anchor="end" fill="#111" stroke="#111" stroke-width="0.3" >0.00</text>
<line x1="52.60" y1="541.85" x2="56.10" y2="541.85" stroke="#111" stroke-width="1.2" />
<text x="50.5" y="545.5" font-size="10" font-weight="bold" text-anchor="end" fill="#111" stroke="#111" stroke-width="0.3" >0.01</text>
<line x1="52.60" y1="495.10" x2="56.10" y2="495.10" stroke="#111" stroke-width="1.2" />
<text x="50.5" y="498.7" font-size="10" font-weight="bold" text-anchor="end" fill="#111" stroke="#111" stroke-width="0.3" >0.02</text>
<line x1="54.10" y1="565.23" x2="56.10" y2="565.23" stroke="#111" stroke-width="1.0" />
<line x1="54.10" y1="518.48" x2="56.10" y2="518.48" stroke="#111" stroke-width="1.0" />
<line x1="56.10" y1="588.60" x2="56.10" y2="591.60" stroke="#111" stroke-width="1.2" />
<text x="56.1" y="603.9" font-size="10" font-weight="bold" text-anchor="middle" fill="#111" stroke="#111" stroke-width="0.3" >0</text>
<line x1="167.06" y1="588.60" x2="167.06" y2="591.60" stroke="#111" stroke-width="1.2" />
<text x="167.1" y="603.9" font-size="10" font-weight="bold" text-anchor="middle" fill="#111" stroke="#111" stroke-width="0.3" >20000</text>
<line x1="278.02" y1="588.60" x2="278.02" y2="591.60" stroke="#111" stroke-width="1.2" />
<text x="278.0" y="603.9" font-size="10" font-weight="bold" text-anchor="middle" fill="#111" stroke="#111" stroke-width="0.3" >40000</text>
<line x1="388.98" y1="588.60" x2="388.98" y2="591.60" stroke="#111" stroke-width="1.2" />
<text x="389.0" y="603.9" font-size="10" font-weight="bold" text-anchor="middle" fill="#111" stroke="#111" stroke-width="0.3" >60000</text>
<line x1="499.94" y1="588.60" x2="499.94" y2="591.60" stroke="#111" stroke-width="1.2" />
<text x="499.9" y="603.9" font-size="10" font-weight="bold" text-anchor="middle" fill="#111" stroke="#111" stroke-width="0.3" >80000</text>
<line x1="610.90" y1="588.60" x2="610.90" y2="591.60" stroke="#111" stroke-width="1.2" />
<text x="610.9" y="603.9" font-size="10" font-weight="bold" text-anchor="middle" fill="#111" stroke="#111" stroke-width="0.3" >100000</text>
<line x1="111.58" y1="588.60" x2="111.58" y2="590.60" stroke="#111" stroke-width="1.0" />
<line x1="222.54" y1="588.60" x2="222.54" y2="590.60" stroke="#111" stroke-width="1.0" />
<line x1="333.50" y1="588.60" x2="333.50" y2="590.60" stroke="#111" stroke-width="1.0" />
<line x1="444.46" y1="588.60" x2="444.46" y2="590.60" stroke="#111" stroke-width="1.0" />
<line x1="555.42" y1="588.60" x2="555.42" y2="590.60" stroke="#111" stroke-width="1.0" />
<text transform="translate(20.6,544) rotate(-90)" font-size="12" font-weight="bold" text-anchor="middle" fill="#111" stroke="#111" stroke-width="0.3">Friction Coefficient</text>
<text x="333.5" y="620.5" font-size="12" font-weight="bold" text-anchor="middle" fill="#111" stroke="#111" stroke-width="0.3" >Cycle</text>
<text x="67.3" y="514" font-size="12.1" font-weight="bold" fill="#111" stroke="#111" stroke-width="0.25"><tspan font-style="italic">P</tspan>: 8.48 MPa</text>
<polygon points="56.1,571.4 56.9,571.5 57.7,571.4 58.5,571.7 59.3,571.5 60.1,571.7 60.9,571.4 61.7,572.0 62.5,571.1 63.3,571.8 64.1,572.1 64.9,572.0 65.7,572.1 66.5,571.8 67.3,571.6 68.1,571.8 68.9,571.8 69.7,572.1 70.5,571.2 71.3,572.1 72.1,572.3 72.9,572.4 73.7,572.4 74.5,572.3 75.3,571.9 76.1,572.3 76.9,572.3 77.7,572.3 78.5,572.2 79.3,572.7 80.1,572.5 80.9,572.2 81.7,572.6 82.5,572.7 83.3,572.8 84.1,572.5 84.9,572.7 85.7,572.6 86.5,572.7 87.3,572.9 88.1,572.4 88.9,572.8 89.7,573.0 90.5,572.8 91.3,572.3 92.1,573.1 92.9,573.2 93.7,573.2 94.5,572.9 95.3,573.3 96.1,573.1 96.9,573.0 97.7,572.8 98.5,573.4 99.3,572.9 100.1,573.5 100.9,573.5 101.7,573.3 102.5,573.2 103.3,573.4 104.1,572.7 104.9,573.6 105.7,573.6 106.5,573.4 107.3,573.4 108.1,573.5 108.9,573.1 109.7,573.5 110.5,573.6 111.3,573.5 112.1,573.7 112.9,573.7 113.7,573.7 114.5,573.4 115.3,573.4 116.1,573.8 116.9,573.9 117.7,573.2 118.5,573.7 119.3,573.5 120.1,573.5 120.9,573.5 121.7,573.7 122.5,574.0 123.3,574.1 124.1,573.9 124.9,573.8 125.7,573.6 126.5,573.7 127.3,573.9 128.1,574.0 128.9,573.8 129.7,573.8 130.5,573.6 131.3,574.3 132.1,574.3 132.9,573.7 133.7,573.9 134.5,573.9 135.3,574.2 136.1,574.3 136.9,573.9 137.7,574.5 138.5,574.3 139.3,574.5 140.1,574.1 140.9,573.9 141.7,574.3 142.5,574.5 143.3,574.4 144.1,574.4 144.9,574.4 145.7,574.4 146.5,574.4 147.3,574.5 148.1,574.7 148.9,574.5 149.7,574.7 150.5,574.5 151.3,574.5 152.1,574.4 152.9,574.7 153.7,574.8 154.5,574.7 155.3,574.6 156.1,574.6 156.9,574.8 157.7,574.7 158.5,574.8 159.3,574.6 160.1,574.5 160.9,574.6 161.7,574.8 162.5,574.7 163.3,574.5 164.1,574.8 164.9,574.8 165.7,574.8 166.5,574.5 167.3,574.4 168.1,574.8 168.9,574.4 169.7,574.6 170.5,574.4 171.3,574.6 172.1,574.5 172.9,574.6 173.7,574.8 174.5,574.8 175.3,574.6 176.1,574.8 176.9,574.0 177.7,574.4 178.5,574.6 179.3,574.8 180.1,574.6 180.9,574.4 181.7,574.9 182.5,574.9 183.3,574.9 184.1,574.7 184.9,574.9 185.7,574.4 186.5,574.7 187.3,574.6 188.1,574.9 188.9,574.9 189.7,574.9 190.5,574.8 191.3,574.8 192.1,574.9 192.9,574.6 193.7,574.9 194.5,574.6 195.3,574.8 196.1,574.7 196.9,575.0 197.7,574.7 198.5,574.6 199.3,574.7 200.1,575.0 200.9,574.7 201.7,574.3 202.5,575.1 203.3,574.8 204.1,574.8 204.9,574.8 205.7,574.9 206.5,575.0 207.3,575.1 208.1,575.0 208.9,575.0 209.7,574.8 210.5,574.7 211.3,574.9 212.1,575.2 212.9,574.8 213.7,574.9 214.5,575.0 215.3,575.0 216.1,574.9 216.9,574.9 217.7,575.0 218.5,575.2 219.3,574.9 220.1,574.9 220.9,574.8 221.7,574.8 222.5,574.8 223.3,574.8 224.1,574.5 224.9,574.5 225.7,574.1 226.5,574.2 227.3,574.0 228.1,573.8 228.9,573.4 229.7,573.5 230.5,573.9 231.3,573.9 232.1,573.6 232.9,573.8 233.7,573.9 234.5,573.4 235.3,573.8 236.1,573.2 236.9,573.4 237.7,573.8 238.5,573.6 239.3,573.9 240.1,573.7 240.9,573.8 241.7,573.9 242.5,573.9 243.3,573.9 244.1,573.4 244.9,573.7 245.7,573.7 246.5,573.6 247.3,573.3 248.1,573.9 248.9,573.9 249.7,573.8 250.5,573.3 251.3,573.7 252.1,573.8 252.9,573.9 253.7,573.7 254.5,573.5 255.3,573.6 256.1,573.8 256.9,573.7 257.7,573.6 258.5,573.5 259.3,573.3 260.1,573.7 260.9,573.8 261.7,573.4 262.5,573.8 263.3,573.6 264.1,573.7 264.9,573.8 265.7,573.4 266.5,573.4 267.3,573.3 268.1,573.8 268.9,573.3 269.7,573.0 270.5,573.6 271.3,573.6 272.1,573.7 272.9,573.4 273.7,573.3 274.5,573.6 275.3,573.5 276.1,573.6 276.9,573.7 277.7,573.8 278.5,573.4 279.3,573.2 280.1,573.7 280.9,572.9 281.7,573.1 282.5,573.4 283.3,573.5 284.1,572.9 284.9,573.7 285.7,573.1 286.5,573.6 287.3,573.4 288.1,573.7 288.9,573.5 289.7,573.2 290.5,573.4 291.3,573.4 292.1,573.6 292.9,572.8 293.7,573.7 294.5,573.1 295.3,573.6 296.1,573.5 296.9,573.5 297.7,573.2 298.5,573.6 299.3,573.6 300.1,573.0 300.9,573.5 301.7,573.6 302.5,573.5 303.3,573.5 304.1,573.2 304.9,573.2 305.7,573.3 306.5,573.5 307.3,573.6 308.1,573.4 308.9,573.4 309.7,573.6 310.5,573.4 311.3,573.5 312.1,573.0 312.9,573.4 313.7,573.6 314.5,573.3 315.3,573.0 316.1,573.4 316.9,573.2 317.7,573.4 318.5,573.5 319.3,573.4 320.1,573.3 320.9,573.5 321.7,573.5 322.5,573.2 323.3,573.4 324.1,573.4 324.9,572.8 325.7,573.2 326.5,573.4 327.3,573.4 328.1,572.8 328.9,573.5 329.7,573.3 330.5,573.2 331.3,573.3 332.1,573.4 332.9,573.3 333.7,573.2 334.5,573.3 335.3,573.1 336.1,573.0 336.9,573.0 337.7,573.4 338.5,572.9 339.3,573.3 340.1,573.4 340.9,573.0 341.7,573.1 342.5,573.3 343.3,573.3 344.1,572.8 344.9,573.2 345.7,572.9 346.5,573.0 347.3,573.3 348.1,573.1 348.9,573.2 349.7,573.0 350.5,573.0 351.3,572.9 352.1,572.9 352.9,573.3 353.7,573.2 354.5,573.3 355.3,573.3 356.1,573.3 356.9,573.2 357.7,573.1 358.5,573.0 359.3,573.4 360.1,573.1 360.9,572.8 361.7,573.3 362.5,573.3 363.3,573.4 364.1,573.2 364.9,573.3 365.7,573.1 366.5,573.3 367.3,573.3 368.1,573.4 368.9,573.2 369.7,572.6 370.5,573.2 371.3,572.6 372.1,573.3 372.9,573.0 373.7,573.3 374.5,573.3 375.3,573.0 376.1,573.0 376.9,573.3 377.7,573.3 378.5,573.3 379.3,573.2 380.1,572.7 380.9,571.5 381.7,573.4 382.5,573.1 383.3,572.9 384.1,571.2 384.9,573.0 385.7,572.4 386.5,573.4 387.3,573.2 388.1,573.4 388.9,573.4 389.7,573.4 390.5,573.2 391.3,573.1 392.1,573.4 392.9,573.4 393.7,573.0 394.5,572.9 395.3,573.4 396.1,573.1 396.9,573.3 397.7,573.1 398.5,573.3 399.3,572.2 400.1,572.9 400.9,573.1 401.7,572.8 402.5,572.0 403.3,572.2 404.1,572.2 404.9,570.9 405.7,572.5 406.5,573.1 407.3,573.0 408.1,572.8 408.9,572.4 409.7,571.4 410.5,572.7 411.3,573.2 412.1,572.8 412.9,572.7 413.7,573.2 414.5,572.3 415.3,572.4 416.1,570.7 416.9,572.6 417.7,572.3 418.5,573.2 419.3,573.2 420.1,572.0 420.9,573.1 421.7,573.3 422.5,571.7 423.3,572.8 424.1,573.3 424.9,572.6 425.7,571.4 426.5,572.7 427.3,572.8 428.1,572.4 428.9,571.8 429.7,572.8 430.5,572.8 431.3,571.7 432.1,572.0 432.9,572.7 433.7,572.9 434.5,573.2 435.3,572.5 436.1,572.8 436.9,573.1 437.7,571.1 438.5,572.5 439.3,573.3 440.1,570.3 440.9,572.0 441.7,572.3 442.5,573.1 443.3,573.0 444.1,573.3 444.9,572.1 445.7,573.3 446.5,573.1 447.3,571.9 448.1,572.4 448.9,571.6 449.7,572.0 450.5,573.3 451.3,572.7 452.1,573.1 452.9,571.6 453.7,571.8 454.5,572.9 455.3,572.8 456.1,572.8 456.9,572.0 457.7,573.3 458.5,572.7 459.3,573.2 460.1,572.7 460.9,572.0 461.7,572.9 462.5,573.1 463.3,573.2 464.1,571.0 464.9,571.8 465.7,573.4 466.5,572.0 467.3,573.1 468.1,573.3 468.9,573.1 469.7,572.2 470.5,572.9 471.3,571.1 472.1,572.4 472.9,573.2 473.7,573.3 474.5,573.2 475.3,572.6 476.1,572.9 476.9,571.8 477.7,572.7 478.5,573.0 479.3,572.7 480.1,573.4 480.9,572.8 481.7,573.3 482.5,571.5 483.3,572.7 484.1,572.6 484.9,573.0 485.7,572.7 486.5,572.6 487.3,573.1 488.1,572.0 488.9,571.2 489.7,571.9 490.5,573.3 491.3,572.7 492.1,573.0 492.9,573.1 493.7,573.2 494.5,572.7 495.3,572.8 496.1,572.4 496.9,573.3 497.7,572.9 498.5,572.8 499.3,572.4 500.1,573.0 500.9,572.9 501.7,572.3 502.5,572.5 503.3,572.3 504.1,572.5 504.9,571.9 505.7,573.2 506.5,573.0 507.3,572.6 508.1,573.0 508.9,573.1 509.7,571.3 510.5,572.8 511.3,573.3 512.1,572.9 512.9,572.4 513.7,573.2 514.5,572.8 515.3,572.1 516.1,572.7 516.9,571.6 517.7,572.5 518.5,572.7 519.3,573.2 520.1,572.4 520.9,573.3 521.7,571.3 522.5,573.2 523.3,573.2 524.1,573.0 524.9,573.0 525.7,573.3 526.5,572.4 527.3,573.2 528.1,572.9 528.9,572.8 529.7,572.5 530.5,572.3 531.3,572.5 532.1,570.5 532.9,573.0 533.7,572.6 534.5,572.2 535.3,572.9 536.1,572.5 536.9,572.3 537.7,572.8 538.5,572.8 539.3,573.0 540.1,573.2 540.9,572.6 541.7,571.8 542.5,573.0 543.3,573.1 544.1,573.1 544.9,572.5 545.7,573.2 546.5,572.6 547.3,572.9 548.1,570.2 548.9,572.2 549.7,571.9 550.5,572.8 551.3,573.1 552.1,573.0 552.9,573.0 553.7,573.2 554.5,572.6 555.3,572.5 556.1,572.6 556.9,572.9 557.7,572.9 558.5,573.2 559.3,573.1 560.1,572.9 560.9,572.1 561.7,572.5 562.5,572.9 563.3,572.4 564.1,570.4 564.9,572.7 565.7,571.6 566.5,572.1 567.3,573.0 568.1,573.0 568.9,573.0 569.7,572.8 570.5,573.2 571.3,573.2 572.1,570.7 572.9,572.9 573.7,572.8 574.5,572.4 575.3,572.5 576.1,572.4 576.9,573.0 577.7,572.3 578.5,573.1 579.3,573.1 580.1,572.9 580.9,571.2 581.7,571.9 582.5,572.3 583.3,571.5 584.1,573.2 584.9,572.5 585.7,570.6 586.5,571.8 587.3,572.7 588.1,572.4 588.9,572.5 589.7,572.9 590.5,572.3 591.3,573.2 592.1,572.7 592.9,571.2 593.7,572.6 594.5,570.6 595.3,570.5 596.1,573.1 596.9,572.2 597.7,572.0 598.5,572.8 599.3,572.9 600.1,571.9 600.9,571.5 601.7,570.1 602.5,572.4 603.3,572.4 604.1,573.1 604.9,572.7 605.7,572.6 606.5,571.8 607.3,571.0 608.1,573.1 608.9,573.2 609.7,573.0 610.5,571.5 610.5,576.7 609.7,577.2 608.9,576.7 608.1,577.0 607.3,576.7 606.5,577.1 605.7,577.3 604.9,576.7 604.1,576.8 603.3,576.8 602.5,576.6 601.7,576.8 600.9,577.1 600.1,576.5 599.3,576.6 598.5,576.6 597.7,576.9 596.9,579.8 596.1,576.5 595.3,576.9 594.5,576.9 593.7,577.8 592.9,577.6 592.1,577.1 591.3,577.1 590.5,577.0 589.7,577.5 588.9,576.6 588.1,577.6 587.3,576.5 586.5,576.8 585.7,576.9 584.9,576.5 584.1,577.1 583.3,576.5 582.5,577.8 581.7,577.6 580.9,578.4 580.1,576.5 579.3,577.7 578.5,576.5 577.7,577.1 576.9,576.8 576.1,576.8 575.3,577.3 574.5,577.0 573.7,576.5 572.9,576.5 572.1,577.0 571.3,578.2 570.5,577.1 569.7,576.7 568.9,576.8 568.1,576.9 567.3,576.5 566.5,577.4 565.7,577.8 564.9,577.2 564.1,577.6 563.3,577.4 562.5,577.4 561.7,577.7 560.9,577.7 560.1,577.6 559.3,577.3 558.5,578.5 557.7,577.3 556.9,578.1 556.1,577.5 555.3,577.0 554.5,577.4 553.7,577.2 552.9,576.9 552.1,576.8 551.3,576.9 550.5,577.0 549.7,577.2 548.9,577.7 548.1,577.7 547.3,576.8 546.5,576.7 545.7,576.9 544.9,577.6 544.1,577.4 543.3,578.2 542.5,577.3 541.7,577.1 540.9,577.8 540.1,578.0 539.3,576.8 538.5,577.7 537.7,577.2 536.9,576.9 536.1,578.3 535.3,577.2 534.5,577.5 533.7,577.4 532.9,577.0 532.1,578.4 531.3,578.3 530.5,577.2 529.7,576.6 528.9,577.0 528.1,577.4 527.3,576.6 526.5,577.0 525.7,577.1 524.9,579.1 524.1,577.2 523.3,577.3 522.5,578.2 521.7,578.9 520.9,577.3 520.1,576.6 519.3,576.6 518.5,576.9 517.7,577.0 516.9,578.5 516.1,577.5 515.3,578.3 514.5,576.6 513.7,576.8 512.9,577.0 512.1,577.0 511.3,576.7 510.5,576.8 509.7,577.0 508.9,578.8 508.1,577.1 507.3,576.6 506.5,577.6 505.7,576.7 504.9,578.9 504.1,577.5 503.3,576.7 502.5,577.4 501.7,577.6 500.9,577.5 500.1,577.2 499.3,577.4 498.5,576.8 497.7,576.6 496.9,576.9 496.1,578.0 495.3,576.7 494.5,576.9 493.7,577.0 492.9,577.8 492.1,577.2 491.3,577.3 490.5,577.5 489.7,577.1 488.9,578.3 488.1,576.7 487.3,578.1 486.5,577.4 485.7,577.4 484.9,577.4 484.1,577.2 483.3,577.6 482.5,576.9 481.7,576.8 480.9,577.5 480.1,577.0 479.3,577.1 478.5,577.4 477.7,577.9 476.9,577.0 476.1,576.9 475.3,578.6 474.5,576.6 473.7,577.2 472.9,577.4 472.1,577.8 471.3,577.0 470.5,577.5 469.7,577.5 468.9,576.8 468.1,578.7 467.3,576.9 466.5,577.7 465.7,576.7 464.9,577.3 464.1,577.4 463.3,577.1 462.5,577.0 461.7,577.2 460.9,577.5 460.1,576.8 459.3,576.7 458.5,576.9 457.7,577.6 456.9,576.6 456.1,577.5 455.3,576.7 454.5,576.6 453.7,578.6 452.9,577.8 452.1,577.1 451.3,578.0 450.5,576.8 449.7,576.9 448.9,578.0 448.1,576.7 447.3,577.3 446.5,576.5 445.7,577.5 444.9,577.0 444.1,577.0 443.3,577.4 442.5,577.5 441.7,576.9 440.9,577.8 440.1,578.0 439.3,577.2 438.5,578.0 437.7,576.7 436.9,576.8 436.1,578.3 435.3,577.9 434.5,577.7 433.7,577.7 432.9,579.0 432.1,577.5 431.3,576.7 430.5,576.5 429.7,577.2 428.9,577.3 428.1,576.6 427.3,576.9 426.5,577.5 425.7,577.2 424.9,578.0 424.1,578.8 423.3,577.1 422.5,577.2 421.7,577.2 420.9,576.7 420.1,576.7 419.3,577.6 418.5,576.7 417.7,576.7 416.9,577.0 416.1,576.7 415.3,577.4 414.5,576.8 413.7,576.7 412.9,576.6 412.1,577.1 411.3,576.6 410.5,577.6 409.7,576.6 408.9,577.4 408.1,576.8 407.3,576.7 406.5,578.2 405.7,577.1 404.9,577.2 404.1,577.1 403.3,577.6 402.5,576.6 401.7,576.5 400.9,578.2 400.1,577.9 399.3,576.7 398.5,577.6 397.7,576.3 396.9,576.6 396.1,576.5 395.3,577.8 394.5,577.4 393.7,576.6 392.9,577.2 392.1,576.6 391.3,576.6 390.5,576.6 389.7,576.5 388.9,578.2 388.1,576.3 387.3,576.5 386.5,576.6 385.7,576.5 384.9,576.4 384.1,576.6 383.3,576.6 382.5,576.5 381.7,576.4 380.9,576.7 380.1,577.1 379.3,576.6 378.5,576.5 377.7,576.4 376.9,576.7 376.1,576.7 375.3,576.3 374.5,576.5 373.7,577.3 372.9,576.3 372.1,576.6 371.3,576.5 370.5,576.3 369.7,576.5 368.9,576.4 368.1,577.0 367.3,576.6 366.5,576.6 365.7,576.7 364.9,576.5 364.1,576.4 363.3,576.8 362.5,576.4 361.7,576.3 360.9,576.6 360.1,576.4 359.3,576.4 358.5,576.5 357.7,576.3 356.9,577.1 356.1,576.6 355.3,576.4 354.5,577.3 353.7,576.3 352.9,576.6 352.1,576.3 351.3,576.3 350.5,576.8 349.7,576.7 348.9,576.7 348.1,576.4 347.3,576.8 346.5,576.2 345.7,576.3 344.9,576.4 344.1,576.3 343.3,576.8 342.5,576.4 341.7,576.7 340.9,576.5 340.1,577.0 339.3,576.3 338.5,576.4 337.7,576.4 336.9,576.4 336.1,576.4 335.3,576.3 334.5,576.5 333.7,576.8 332.9,576.7 332.1,576.7 331.3,576.7 330.5,576.5 329.7,576.5 328.9,576.6 328.1,576.6 327.3,576.6 326.5,576.6 325.7,576.5 324.9,576.7 324.1,576.8 323.3,576.5 322.5,576.8 321.7,576.5 320.9,576.9 320.1,576.5 319.3,576.9 318.5,576.5 317.7,576.6 316.9,576.5 316.1,576.4 315.3,576.8 314.5,576.5 313.7,577.2 312.9,576.8 312.1,577.3 311.3,576.7 310.5,576.5 309.7,576.6 308.9,576.9 308.1,576.5 307.3,577.1 306.5,576.7 305.7,576.7 304.9,576.6 304.1,576.7 303.3,576.5 302.5,576.5 301.7,576.8 300.9,576.5 300.1,576.8 299.3,577.4 298.5,576.7 297.7,576.7 296.9,576.9 296.1,576.7 295.3,576.9 294.5,577.0 293.7,576.7 292.9,576.5 292.1,576.9 291.3,576.7 290.5,576.6 289.7,576.7 288.9,576.5 288.1,576.6 287.3,576.8 286.5,576.6 285.7,576.6 284.9,576.9 284.1,576.6 283.3,576.6 282.5,576.7 281.7,576.9 280.9,576.6 280.1,576.7 279.3,577.0 278.5,577.0 277.7,576.7 276.9,576.6 276.1,577.1 275.3,576.9 274.5,576.8 273.7,576.7 272.9,576.7 272.1,576.7 271.3,576.9 270.5,576.9 269.7,576.8 268.9,576.9 268.1,576.7 267.3,576.6 266.5,576.7 265.7,576.7 264.9,577.4 264.1,576.7 263.3,576.7 262.5,577.0 261.7,577.0 260.9,576.6 260.1,577.2 259.3,576.6 258.5,576.7 257.7,577.0 256.9,576.9 256.1,577.5 255.3,577.0 254.5,576.7 253.7,577.0 252.9,576.8 252.1,577.0 251.3,577.2 250.5,577.1 249.7,577.0 248.9,577.3 248.1,577.5 247.3,576.8 246.5,577.0 245.7,577.0 244.9,577.4 244.1,577.1 243.3,576.7 242.5,576.9 241.7,577.1 240.9,577.1 240.1,577.4 239.3,576.8 238.5,576.8 237.7,577.1 236.9,576.9 236.1,577.1 235.3,576.8 234.5,577.7 233.7,577.0 232.9,576.9 232.1,576.9 231.3,576.8 230.5,576.9 229.7,576.8 228.9,576.8 228.1,576.8 227.3,577.4 226.5,576.8 225.7,577.2 224.9,577.2 224.1,577.4 223.3,577.3 222.5,577.8 221.7,577.5 220.9,578.7 220.1,578.3 219.3,577.8 218.5,578.2 217.7,577.8 216.9,578.0 216.1,577.9 215.3,578.0 214.5,577.6 213.7,577.8 212.9,577.6 212.1,577.8 211.3,577.8 210.5,577.9 209.7,577.9 208.9,577.8 208.1,577.8 207.3,577.6 206.5,577.6 205.7,578.0 204.9,577.6 204.1,578.2 203.3,577.8 202.5,577.9 201.7,577.7 200.9,577.6 200.1,577.6 199.3,577.6 198.5,577.8 197.7,577.6 196.9,577.5 196.1,577.6 195.3,577.6 194.5,577.5 193.7,578.1 192.9,578.1 192.1,577.8 191.3,577.8 190.5,577.8 189.7,578.0 188.9,577.8 188.1,577.5 187.3,577.5 186.5,577.9 185.7,577.5 184.9,577.6 184.1,577.9 183.3,577.6 182.5,577.5 181.7,577.4 180.9,577.6 180.1,577.6 179.3,577.6 178.5,578.1 177.7,577.5 176.9,577.5 176.1,578.1 175.3,577.8 174.5,578.0 173.7,577.5 172.9,577.5 172.1,577.8 171.3,577.6 170.5,577.9 169.7,577.6 168.9,577.5 168.1,577.4 167.3,577.7 166.5,577.7 165.7,577.7 164.9,577.6 164.1,577.5 163.3,577.3 162.5,577.3 161.7,577.5 160.9,578.1 160.1,577.6 159.3,577.5 158.5,577.3 157.7,577.5 156.9,577.3 156.1,577.3 155.3,577.8 154.5,577.7 153.7,577.3 152.9,577.3 152.1,577.3 151.3,577.8 150.5,577.5 149.7,577.5 148.9,577.3 148.1,577.4 147.3,578.0 146.5,577.7 145.7,577.4 144.9,577.2 144.1,577.3 143.3,577.7 142.5,577.3 141.7,577.4 140.9,577.2 140.1,577.2 139.3,577.1 138.5,577.4 137.7,576.9 136.9,577.3 136.1,577.2 135.3,576.8 134.5,576.8 133.7,577.0 132.9,576.9 132.1,577.1 131.3,577.0 130.5,576.6 129.7,576.8 128.9,576.8 128.1,576.8 127.3,576.9 126.5,576.8 125.7,576.9 124.9,576.9 124.1,577.2 123.3,576.9 122.5,577.1 121.7,576.5 120.9,577.5 120.1,576.4 119.3,576.3 118.5,577.1 117.7,576.3 116.9,576.3 116.1,576.6 115.3,576.2 114.5,576.7 113.7,576.2 112.9,576.4 112.1,576.1 111.3,576.1 110.5,576.1 109.7,576.2 108.9,576.2 108.1,576.0 107.3,576.4 106.5,576.1 105.7,576.5 104.9,576.4 104.1,576.0 103.3,575.9 102.5,576.1 101.7,576.6 100.9,576.6 100.1,575.9 99.3,576.0 98.5,575.8 97.7,575.9 96.9,575.7 96.1,575.8 95.3,576.0 94.5,575.7 93.7,575.6 92.9,575.7 92.1,575.6 91.3,575.9 90.5,575.7 89.7,575.6 88.9,575.9 88.1,575.3 87.3,575.4 86.5,575.4 85.7,575.4 84.9,575.6 84.1,575.1 83.3,575.2 82.5,575.0 81.7,575.1 80.9,575.0 80.1,575.0 79.3,575.1 78.5,575.0 77.7,574.8 76.9,574.9 76.1,574.7 75.3,574.8 74.5,574.9 73.7,574.9 72.9,574.7 72.1,574.7 71.3,574.9 70.5,574.4 69.7,574.5 68.9,574.4 68.1,574.4 67.3,574.5 66.5,574.3 65.7,574.5 64.9,574.2 64.1,574.2 63.3,574.5 62.5,574.2 61.7,574.1 60.9,574.4 60.1,574.1 59.3,574.4 58.5,574.3 57.7,573.9 56.9,574.0 56.1,573.9" fill="#0d0d0d"/>
<g>
<defs><linearGradient id="cyl" x1="0" y1="0" x2="1" y2="0"><stop offset="0" stop-color="#6a6a6a"/><stop offset="0.35" stop-color="#e8e8e8"/><stop offset="0.6" stop-color="#b8b8b8"/><stop offset="1" stop-color="#555"/></linearGradient><linearGradient id="plate" x1="0" y1="0" x2="0" y2="1"><stop offset="0" stop-color="#b4b4b4"/><stop offset="1" stop-color="#8a8a8a"/></linearGradient><linearGradient id="lbg" x1="0" y1="0" x2="1" y2="0"><stop offset="0" stop-color="#9a9a9a"/><stop offset="0.5" stop-color="#b0b0b0"/><stop offset="1" stop-color="#c4c4c4"/></linearGradient></defs>
<rect x="409.20" y="501.00" width="84.80" height="61.90" fill="#b4b4b4" stroke="none" stroke-width="1" />
<rect x="409.20" y="501.00" width="84.80" height="6.00" fill="#c8c8c8" stroke="none" stroke-width="1" />
<rect x="409.20" y="501.00" width="5.00" height="61.90" fill="#9a9a9a" stroke="none" stroke-width="1" />
<rect x="414.20" y="501.00" width="4.00" height="61.90" fill="#d4d4d4" stroke="none" stroke-width="1" />
<rect x="420.00" y="507.00" width="64.00" height="50.00" fill="#bcbcbc" stroke="none" stroke-width="1" />
<path d="M448,507 Q448,502.5 452,502.5 L466,502.5 Q470,502.5 470,507" fill="none" stroke="#555" stroke-width="1.4"/>
<rect x="457.80" y="503.00" width="14.20" height="12.30" fill="url(#cyl)" stroke="none" stroke-width="1" />
<rect x="450.20" y="515.30" width="29.50" height="18.10" fill="url(#cyl)" stroke="none" stroke-width="1" />
<rect x="450.20" y="533.40" width="25.00" height="4.60" fill="#151515" stroke="none" stroke-width="1" />
<rect x="455.00" y="538.00" width="22.00" height="9.00" fill="#9a9a9a" stroke="none" stroke-width="1" />
<rect x="454.80" y="547.80" width="37.70" height="13.50" fill="#1c1c1c" stroke="none" stroke-width="1" />
<rect x="458.00" y="547.80" width="16.00" height="4.00" fill="#707070" stroke="none" stroke-width="1" />
<rect x="409.20" y="552.00" width="45.00" height="10.90" fill="#7a7a7a" stroke="none" stroke-width="1" />
<circle cx="416.50" cy="526.50" r="2.60" fill="#1a1a1a" stroke="none" stroke-width="1" />
<rect x="418.00" y="523.00" width="9.00" height="4.00" fill="#dadada" stroke="none" stroke-width="1" />
<rect x="425.00" y="526.00" width="15.00" height="15.00" fill="#a6a6a6" stroke="none" stroke-width="1" />
<circle cx="433.00" cy="537.00" r="3.80" fill="none" stroke="#3a3a3a" stroke-width="1.2" />
<rect x="441.00" y="531.00" width="8.00" height="16.00" fill="#8c8c8c" stroke="none" stroke-width="1" />
<rect x="421.00" y="546.00" width="20.00" height="10.00" fill="#c0c0c0" stroke="none" stroke-width="1" />
<circle cx="429.00" cy="556.00" r="3.00" fill="#2a2a2a" stroke="none" stroke-width="1" />
<path d="M494,501.5 L460,539.5 M460,543 L494,563" stroke="#f0c848" stroke-width="1.5" stroke-dasharray="3.2,2.2"/>
<rect x="493.80" y="501.10" width="99.60" height="61.50" fill="url(#plate)" stroke="none" stroke-width="1" />
<rect x="493.80" y="520.70" width="99.60" height="24.30" fill="#b6b6b6" stroke="none" stroke-width="1" />
<rect x="493.80" y="545.00" width="99.60" height="17.60" fill="#a2a2a2" stroke="none" stroke-width="1" />
<rect x="493.80" y="553.00" width="99.60" height="3.00" fill="#b8b8b8" stroke="none" stroke-width="1" />
<rect x="493.80" y="501.10" width="80.90" height="19.60" fill="#383838" stroke="none" stroke-width="1" />
<rect x="493.80" y="517.50" width="80.90" height="3.20" fill="#1e1e1e" stroke="none" stroke-width="1" />
<rect x="571.50" y="501.10" width="3.20" height="19.60" fill="#6a6a6a" stroke="none" stroke-width="1" />
<rect x="575.50" y="501.10" width="17.90" height="19.60" fill="#5c5c5c" stroke="none" stroke-width="1" />
<rect x="538.00" y="520.70" width="23.60" height="15.00" fill="url(#cyl)" stroke="none" stroke-width="1" />
<rect x="536" y="534.5" width="27.6" height="10" rx="3" fill="#2e2e2e"/>
<ellipse cx="549.8" cy="537.5" rx="12" ry="2.6" fill="#d8d8d8"/>
<ellipse cx="549.8" cy="536.5" rx="11.8" ry="1.6" fill="#9a9a9a"/>
<rect x="506.6" y="526.8" width="15.699999999999932" height="12.200000000000045" rx="2" fill="#8e8e8e"/>
<ellipse cx="514.45" cy="529.3" rx="7.849999999999966" ry="2.6" fill="#cacaca" stroke="#505050" stroke-width="0.9"/>
<ellipse cx="514.45" cy="529.3" rx="3.1399999999999864" ry="1.1" fill="#2a2a2a"/>
<rect x="506.6" y="539" width="15.699999999999932" height="4" fill="#7c7c7c" opacity="0.6"/>
<rect x="574.7" y="532.5" width="17.299999999999955" height="11.0" rx="2" fill="#8e8e8e"/>
<ellipse cx="583.35" cy="535.0" rx="8.649999999999977" ry="2.6" fill="#cacaca" stroke="#505050" stroke-width="0.9"/>
<ellipse cx="583.35" cy="535.0" rx="3.459999999999991" ry="1.1" fill="#2a2a2a"/>
<rect x="574.7" y="543.5" width="17.299999999999955" height="4" fill="#7c7c7c" opacity="0.6"/>
<rect x="493.8" y="531" width="5.199999999999989" height="10" rx="2" fill="#8e8e8e"/>
<ellipse cx="496.4" cy="533.5" rx="2.5999999999999943" ry="2.6" fill="#cacaca" stroke="#505050" stroke-width="0.9"/>
<ellipse cx="496.4" cy="533.5" rx="1.0399999999999978" ry="1.1" fill="#2a2a2a"/>
<rect x="493.8" y="541" width="5.199999999999989" height="4" fill="#7c7c7c" opacity="0.6"/>
</g>
<rect x="56.10" y="495.10" width="554.80" height="93.50" fill="none" stroke="#1a1a1a" stroke-width="1.3" />
</svg>
</body></html>
